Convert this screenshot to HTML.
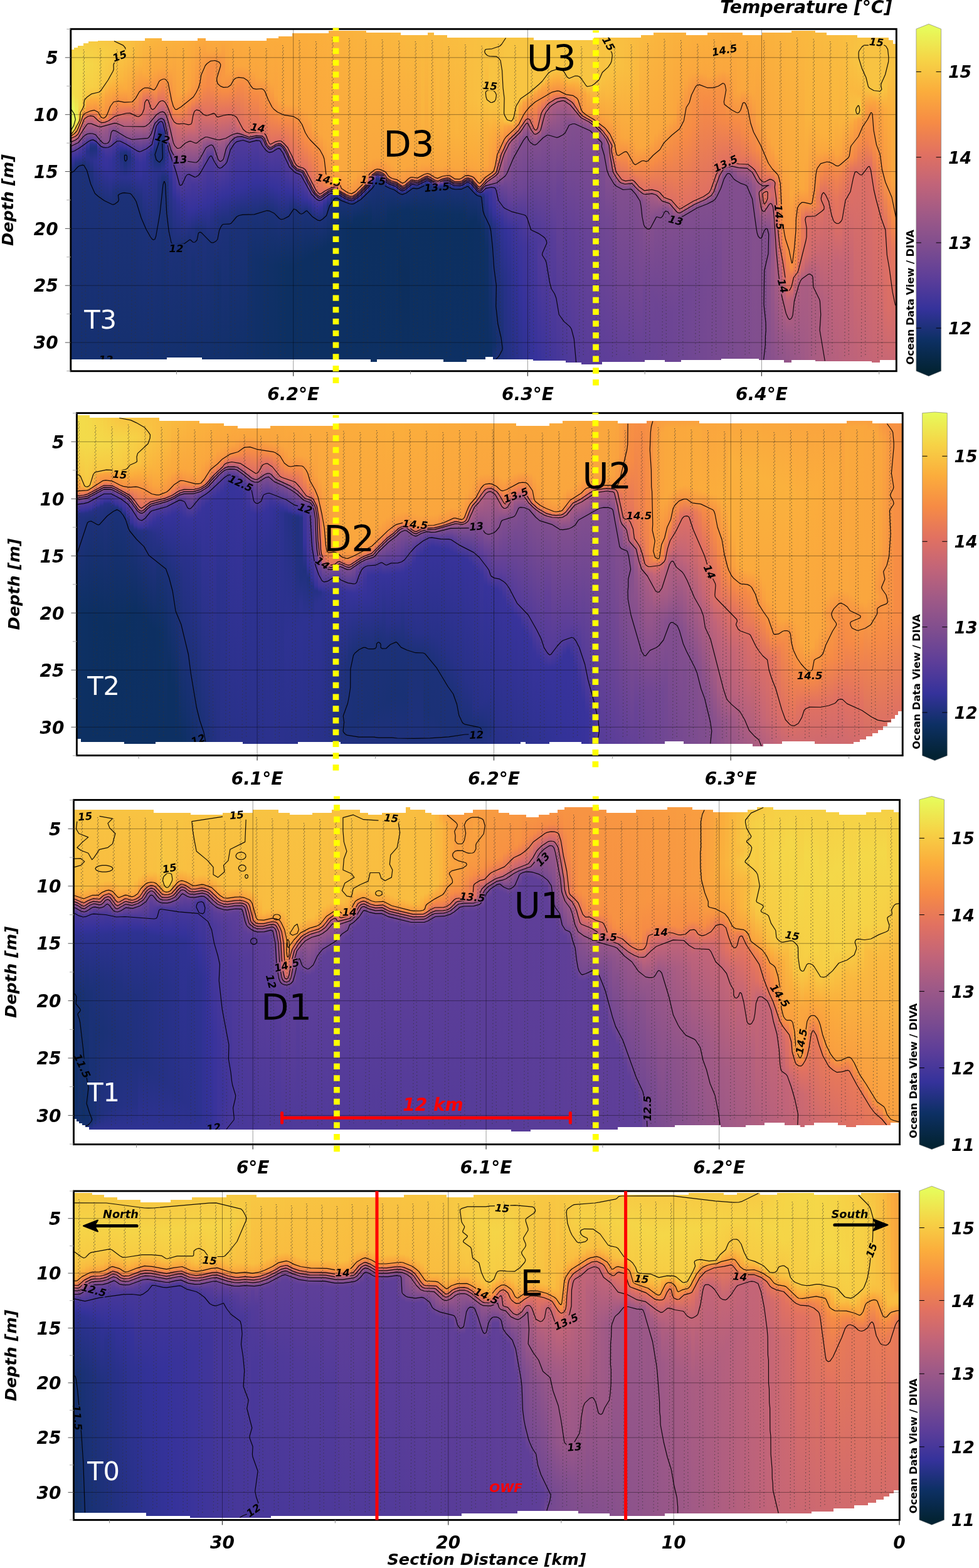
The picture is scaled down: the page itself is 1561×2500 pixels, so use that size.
<!DOCTYPE html>
<html lang="en"><head><meta charset="utf-8"><title>Temperature sections</title>
<style>html,body{margin:0;padding:0;background:#fff}
body{width:1561px;height:2500px;position:relative;overflow:hidden;font-family:"DejaVu Sans","Liberation Sans",sans-serif}
.f{position:absolute;display:flex;overflow:hidden}
.f i{display:block;width:6px;height:100%;flex:none}
svg{position:absolute;left:0;top:0}
.c{fill:none;stroke:#000;stroke-width:1.2;stroke-linejoin:round;stroke-opacity:.92}
.s{fill:none;stroke:#333;stroke-width:1.2;stroke-opacity:.7;stroke-dasharray:1.3 4}
.tk{font:italic bold 28px "DejaVu Sans","Liberation Sans",sans-serif;fill:#000}
.al{font:italic bold 25.5px "DejaVu Sans","Liberation Sans",sans-serif;fill:#000}
.odv{font:bold 16.2px "DejaVu Sans","Liberation Sans",sans-serif;fill:#000}
.tkc{font:italic bold 26.7px "DejaVu Sans","Liberation Sans",sans-serif;fill:#000}
.cl{font:italic bold 16.5px "DejaVu Sans","Liberation Sans",sans-serif;fill:#000;text-anchor:middle}
.big{font:57.5px "DejaVu Sans","Liberation Sans",sans-serif;fill:#000}
.tl{font:41.6px "DejaVu Sans","Liberation Sans",sans-serif;fill:#fff}
.tt{font:italic bold 28.3px "DejaVu Sans","Liberation Sans",sans-serif;fill:#000}
.rk{font:italic bold 28px "DejaVu Sans","Liberation Sans",sans-serif;fill:#f00}
.ro{font:italic bold 20px "DejaVu Sans","Liberation Sans",sans-serif;fill:#f00}
.ns{font:italic bold 17.8px "DejaVu Sans","Liberation Sans",sans-serif;fill:#000}
</style></head><body>
<div class="f" style="left:113px;top:46px;width:1317px;height:546px">
<i style="background:linear-gradient(#f6d446 30px,#f2de4c 103px,#e7fa5a 131px,#e7fa5a 155px,#efe54f 161px,#f7cd44 164px,#faa93d 167px,#f1854b 170px,#de7064 173px,#a05a86 181px,#5d3e99 193px,#4a389a 198px,#35329b 208px,#1d3179 226px,#153070 527px)"></i>
<i style="background:linear-gradient(#f6d246 27px,#f3db4a 54px,#f3db4a 108px,#eaf356 144px,#f1e04d 151px,#fbb03d 158px,#f68e44 164px,#e27260 169px,#bd637b 174px,#86508d 182px,#5d3e99 190px,#35329b 205px,#233182 214px,#1d317a 220px,#153070 527px)"></i>
<i style="background:linear-gradient(#f6d145 27px,#f3db4a 55px,#f5d748 124px,#f9b93f 143px,#f79144 150px,#e3735e 157px,#be637a 166px,#5f3f98 186px,#48389a 192px,#35329a 203px,#1d3179 216px,#153070 527px)"></i>
<i style="background:linear-gradient(#f7ce45 23px,#f4d949 58px,#f6d045 102px,#f8c141 123px,#fbab3d 129px,#f68d44 137px,#e17161 144px,#c26478 153px,#5d3e99 182px,#3d349b 191px,#323296 201px,#1d317a 215px,#153070 527px)"></i>
<i style="background:linear-gradient(#f7cc44 20px,#f4d748 57px,#f7cf45 96px,#f8c642 107px,#fbac3c 116px,#f78f44 133px,#df7063 139px,#c36578 146px,#aa5d82 153px,#8d538b 164px,#37339b 186px,#263187 195px,#2b318d 205px,#1f317c 219px,#1c3179 232px,#153070 527px)"></i>
<i style="background:linear-gradient(#f7cb44 20px,#f5d547 57px,#f7cf45 92px,#f8c542 103px,#fbac3c 113px,#f89742 128px,#f68b45 132px,#df7062 138px,#c16479 146px,#87518d 165px,#5e3e99 175px,#39339b 181px,#29318a 184px,#1e317b 191px,#2b318d 209px,#213180 226px,#1c3179 251px,#153070 527px)"></i>
<i style="background:linear-gradient(#f7cb44 20px,#f6d346 58px,#f7cd44 93px,#f8c442 102px,#fbad3c 112px,#f68c45 132px,#e27260 140px,#be637a 150px,#7f4d8f 169px,#5c3e99 177px,#38339b 182px,#2c328f 184px,#233182 187px,#1f317d 191px,#2f3292 211px,#1c3178 265px,#153070 527px)"></i>
<i style="background:linear-gradient(#f7c943 19px,#f6d145 60px,#f7c943 95px,#fbae3c 112px,#f68b45 139px,#e3735f 146px,#c26479 152px,#a95c83 157px,#7f4d8f 176px,#3d349b 188px,#303293 194px,#323297 214px,#1c3178 269px,#153070 527px)"></i>
<i style="background:linear-gradient(#f7c843 19px,#f7cf45 39px,#f8c743 89px,#fbac3c 109px,#f89542 140px,#f68b45 144px,#e4745e 148px,#c56576 152px,#ac5d81 156px,#9b5888 163px,#824f8e 181px,#754992 184px,#48389a 190px,#37339b 200px,#35329b 216px,#1c3178 273px,#15306f 527px)"></i>
<i style="background:linear-gradient(#f8c743 19px,#f7cd44 37px,#f8c643 82px,#faa43e 108px,#f68d45 141px,#e17161 147px,#c06479 151px,#a35b85 156px,#955689 163px,#85508d 181px,#794b90 184px,#523b9a 189px,#4a389a 191px,#3a339b 205px,#35329b 220px,#1c3178 277px,#15306f 527px)"></i>
<i style="background:linear-gradient(#f8c643 19px,#f7cc44 37px,#f8c442 76px,#fbac3c 98px,#f58a46 133px,#e2725f 143px,#bf647a 149px,#9d5887 155px,#88518d 163px,#7d4c8f 178px,#47379a 191px,#35329b 210px,#303295 235px,#1c3179 279px,#15306f 527px)"></i>
<i style="background:linear-gradient(#f8c542 19px,#f7ca44 36px,#f9c041 75px,#fbac3c 96px,#f68c45 121px,#ee8150 131px,#e07062 139px,#bf637a 147px,#91548a 157px,#7c4c90 164px,#684396 176px,#44369a 188px,#303295 207px,#2f3293 235px,#20317e 260px,#1c3178 280px,#15306f 527px)"></i>
<i style="background:linear-gradient(#f8c442 19px,#f7c843 35px,#f9bb40 76px,#fbac3c 94px,#f58a46 120px,#e17260 136px,#9d5987 156px,#4b389a 181px,#36329b 190px,#2b318d 199px,#2d3290 236px,#1c3179 264px,#15306f 527px)"></i>
<i style="background:linear-gradient(#f8c342 19px,#f8c643 35px,#fab53e 80px,#faa73e 99px,#f68b45 120px,#e17260 134px,#b8617d 151px,#834f8e 168px,#5a3d99 178px,#36329b 189px,#20317e 199px,#2c328f 236px,#1c3178 263px,#15306f 527px)"></i>
<i style="background:linear-gradient(#f8c141 19px,#f8c442 34px,#fbab3d 95px,#f68b45 120px,#e07162 133px,#b6607d 153px,#844f8e 171px,#5b3d99 181px,#34329a 191px,#223181 196px,#1c3179 200px,#1d317a 213px,#2c328f 237px,#1c3178 263px,#15306f 527px)"></i>
<i style="background:linear-gradient(#f9c041 19px,#f8c141 36px,#faa63e 98px,#f89842 114px,#f68b45 120px,#e17161 132px,#c16479 148px,#86508d 173px,#5d3e99 184px,#38339b 192px,#29318a 196px,#20317d 204px,#2d3291 236px,#1c3178 263px,#15306f 527px)"></i>
<i style="background:linear-gradient(#f9be41 19px,#f9be40 37px,#faa93d 83px,#f89941 110px,#f58a46 120px,#e17161 134px,#9f5986 162px,#824e8e 176px,#3f359b 195px,#2b328d 207px,#2f3293 236px,#1c3178 270px,#15306f 527px)"></i>
<i style="background:linear-gradient(#f9bc40 19px,#fab53e 54px,#f79443 106px,#e77959 131px,#da6e66 140px,#9f5987 162px,#44369a 199px,#34329a 211px,#313295 236px,#1c3179 275px,#15306f 527px)"></i>
<i style="background:linear-gradient(#f9bb40 19px,#fab13d 58px,#f89742 95px,#ec7f52 114px,#e17161 135px,#cb6871 146px,#9f5987 162px,#47379a 200px,#37339b 214px,#333299 234px,#233182 265px,#1c3179 293px,#15306f 527px)"></i>
<i style="background:linear-gradient(#f9b93f 15px,#fbab3d 69px,#f89742 92px,#f68b45 98px,#e2735f 113px,#d66c69 135px,#bd637a 150px,#44379a 198px,#36329b 212px,#1c3179 312px,#15306f 527px)"></i>
<i style="background:linear-gradient(#fab83f 15px,#faa73e 76px,#f68c45 97px,#e17161 111px,#d36b6c 130px,#bb627c 147px,#85508d 172px,#5b3d99 187px,#3c349b 196px,#313295 205px,#303295 233px,#1c3179 326px,#15306f 527px)"></i>
<i style="background:linear-gradient(#fab63e 15px,#faa83d 68px,#f79443 95px,#e6775a 112px,#dd6f64 127px,#9d5987 151px,#5d3e99 180px,#35329b 191px,#243184 200px,#2e3291 231px,#1c3178 335px,#15306e 527px)"></i>
<i style="background:linear-gradient(#fab53e 15px,#faa83d 63px,#f79044 98px,#de7063 123px,#d36b6c 129px,#9b5888 144px,#6d4594 152px,#5d3e99 157px,#36329b 177px,#1d317a 194px,#1d317a 210px,#2c328f 230px,#1d317a 320px,#14306e 527px)"></i>
<i style="background:linear-gradient(#fab43e 15px,#faa83d 62px,#f68b45 94px,#e17260 114px,#c46577 128px,#965689 140px,#86508d 143px,#583d99 148px,#48389a 151px,#35329b 159px,#263186 166px,#1f317c 173px,#1c3179 212px,#2b318d 228px,#223180 246px,#1d317a 287px,#14306e 527px)"></i>
<i style="background:linear-gradient(#fab33e 15px,#faa73e 62px,#f48848 92px,#e6775b 110px,#c16479 127px,#955689 140px,#5e3e99 149px,#36329b 162px,#20317e 170px,#1d317a 207px,#2c328f 225px,#1f317d 237px,#1c3179 247px,#14306e 527px)"></i>
<i style="background:linear-gradient(#fab23d 19px,#faa73e 62px,#f68b45 97px,#ed8050 110px,#e17161 120px,#9f5987 147px,#40359a 187px,#2e3292 202px,#35329b 222px,#243184 235px,#1e317c 248px,#14306e 527px)"></i>
<i style="background:linear-gradient(#fab23d 19px,#faa73e 63px,#f48848 120px,#e17161 135px,#c16479 150px,#975689 182px,#7f4d8f 191px,#5c3e99 200px,#45379a 209px,#35329b 233px,#2d3290 245px,#1e317b 317px,#14306e 524px)"></i>
<i style="background:linear-gradient(#fab13d 19px,#f89a41 113px,#f68b45 131px,#e17161 146px,#c56676 159px,#ab5d82 187px,#8d528b 199px,#5e3f99 212px,#49389a 229px,#35329b 262px,#2d3290 274px,#1c3178 346px,#14306e 524px)"></i>
<i style="background:linear-gradient(#fbb03d 19px,#f9a23f 105px,#f68b46 132px,#e27260 149px,#cb6871 160px,#b15f7f 189px,#684396 217px,#35329b 271px,#303294 280px,#1c3178 345px,#14306d 524px)"></i>
<i style="background:linear-gradient(#fbaf3c 19px,#faa63e 101px,#f68b45 129px,#d86d67 153px,#ad5e81 189px,#724893 216px,#603f98 229px,#343299 281px,#1c3178 344px,#14306d 524px)"></i>
<i style="background:linear-gradient(#fbae3c 19px,#faa63e 97px,#f68b45 123px,#e17161 149px,#ad5e81 183px,#91548a 203px,#553c99 233px,#38339b 278px,#1c3178 342px,#14306d 524px)"></i>
<i style="background:linear-gradient(#fbad3c 19px,#faa33f 94px,#f68b45 118px,#e97b56 130px,#e17161 149px,#c16479 169px,#88518d 208px,#4f3a9a 235px,#35329b 289px,#1e317b 331px,#13306d 524px)"></i>
<i style="background:linear-gradient(#fbac3c 19px,#f99f40 89px,#f68a46 114px,#e17260 130px,#d56c6a 156px,#be637a 171px,#86508d 210px,#5d3e99 230px,#46379a 248px,#35329b 288px,#233182 316px,#193175 371px,#13306d 524px)"></i>
<i style="background:linear-gradient(#fbab3c 15px,#f89841 88px,#f68b45 108px,#de7063 128px,#c56676 165px,#834f8e 211px,#5d3e99 229px,#49389a 246px,#35329b 286px,#1e317c 320px,#13306c 524px)"></i>
<i style="background:linear-gradient(#fbab3d 15px,#f68c45 100px,#ef824f 113px,#e07062 129px,#ba627c 170px,#7f4d8f 206px,#5c3e99 222px,#503a9a 233px,#35329b 284px,#1d317a 322px,#13306c 527px)"></i>
<i style="background:linear-gradient(#fbaa3d 15px,#f68b45 92px,#e17161 133px,#b3607f 171px,#90548b 185px,#533b99 218px,#35329b 281px,#1f317c 322px,#13306c 527px)"></i>
<i style="background:linear-gradient(#faa93d 19px,#faa63e 34px,#f79143 58px,#f48947 91px,#e17161 134px,#b25f7f 171px,#6f4694 194px,#583d99 204px,#503a9a 213px,#35329b 277px,#1c3179 335px,#13306c 527px)"></i>
<i style="background:linear-gradient(#faa93d 19px,#faa63e 33px,#f78f44 59px,#f68b45 91px,#e17161 131px,#b25f7f 173px,#824f8e 185px,#593d99 201px,#503a9a 210px,#35329b 274px,#273188 301px,#1c3178 341px,#12306b 527px)"></i>
<i style="background:linear-gradient(#faa93d 19px,#faa63e 33px,#f79044 56px,#f79243 82px,#f68b45 96px,#db6e66 141px,#b3607f 174px,#93558a 184px,#794b91 202px,#523b9a 217px,#35329b 271px,#243184 301px,#183173 378px,#12306b 527px)"></i>
<i style="background:linear-gradient(#faa93d 19px,#faa63e 34px,#f79343 55px,#f89642 82px,#f68b45 99px,#e07162 136px,#b4607e 174px,#93558a 189px,#854f8d 208px,#523b9a 222px,#35329b 268px,#20317e 306px,#163071 394px,#12306b 527px)"></i>
<i style="background:linear-gradient(#faa93d 19px,#f89842 55px,#f89941 83px,#f68c45 100px,#e17161 134px,#b5607e 172px,#9d5887 182px,#814e8e 207px,#513b9a 220px,#35329b 265px,#1d317a 309px,#12306b 527px)"></i>
<i style="background:linear-gradient(#faa93d 19px,#f99f40 69px,#f68c45 100px,#e17161 133px,#b4607e 171px,#744992 192px,#513b9a 214px,#35329b 263px,#1d317a 309px,#12306a 527px)"></i>
<i style="background:linear-gradient(#faa93d 19px,#faa43e 63px,#f68b45 99px,#e17161 133px,#b6607e 167px,#a45b84 172px,#654297 185px,#553c99 191px,#35329b 261px,#233182 292px,#193175 330px,#11306a 527px)"></i>
<i style="background:linear-gradient(#fbaa3d 19px,#faa63e 59px,#f68b45 96px,#de7063 137px,#ba627c 164px,#a85c83 168px,#624097 178px,#513a9a 186px,#35329b 258px,#1c3179 303px,#11306a 527px)"></i>
<i style="background:linear-gradient(#fbaa3d 19px,#faa63e 59px,#f68b45 90px,#d76d69 152px,#bc627b 164px,#aa5d82 167px,#634197 175px,#553b99 178px,#503a9a 182px,#35329b 256px,#1c3178 299px,#113069 527px)"></i>
<i style="background:linear-gradient(#fbaa3d 19px,#faa63e 59px,#f68b45 89px,#db6f65 158px,#d16b6d 163px,#c26478 166px,#af5e80 168px,#6c4594 173px,#5c3e99 175px,#503a9a 181px,#35329b 254px,#1b3178 298px,#113069 527px)"></i>
<i style="background:linear-gradient(#fbab3d 19px,#faa63e 60px,#f79044 85px,#df7062 162px,#d96e67 165px,#c86774 168px,#614098 176px,#553c99 178px,#503a9a 182px,#35329b 252px,#1b3178 298px,#103069 527px)"></i>
<i style="background:linear-gradient(#fbab3d 19px,#faa63e 63px,#f68b45 102px,#e07161 163px,#d86d68 167px,#c56676 170px,#b05f80 172px,#674396 177px,#573c99 179px,#47379a 203px,#35329b 249px,#1b3178 299px,#14306d 366px,#103068 527px)"></i>
<i style="background:linear-gradient(#fbab3c 19px,#faa63e 67px,#f68b45 105px,#e07162 163px,#d96e67 166px,#c56676 169px,#704793 175px,#5d3e99 177px,#533b99 179px,#503a9a 183px,#35329b 246px,#1b3178 298px,#13306c 365px,#103068 527px)"></i>
<i style="background:linear-gradient(#fbab3c 19px,#faa43e 77px,#f68b45 106px,#e17161 162px,#db6e66 165px,#c76675 168px,#6c4594 174px,#5a3d99 176px,#503a9a 181px,#35329b 245px,#1b3178 297px,#12306b 368px,#0f3067 527px)"></i>
<i style="background:linear-gradient(#fbab3c 19px,#faa63e 77px,#f79044 100px,#f2864b 129px,#e17161 163px,#d96e67 166px,#cb6871 168px,#694395 175px,#563c99 180px,#35329b 245px,#1d317a 290px,#11306a 372px,#0f3067 527px)"></i>
<i style="background:linear-gradient(#fbac3c 19px,#faa63e 77px,#f79443 98px,#f58a46 125px,#e17161 164px,#d06a6e 170px,#a35b85 177px,#624097 187px,#523b9a 192px,#35329b 246px,#1d3179 289px,#113069 375px,#0f3066 527px)"></i>
<i style="background:linear-gradient(#fbac3c 15px,#faa63e 79px,#f68b45 130px,#e07062 175px,#d76d69 181px,#c96773 184px,#634197 193px,#513a9a 197px,#35329b 249px,#1d3179 288px,#103068 376px,#0e3066 527px)"></i>
<i style="background:linear-gradient(#fbac3c 15px,#faa63e 86px,#f68b45 135px,#e17161 179px,#d96e67 183px,#cc6970 185px,#6c4595 192px,#533b9a 196px,#35329b 251px,#1c3179 291px,#103067 376px,#0e3065 527px)"></i>
<i style="background:linear-gradient(#fbac3c 15px,#faa33f 106px,#f68b45 139px,#e17161 177px,#d36b6b 181px,#bc627b 183px,#6b4595 188px,#533b99 192px,#35329b 254px,#1d317a 294px,#0f3066 376px,#0e3065 527px)"></i>
<i style="background:linear-gradient(#fbac3c 12px,#faa53e 114px,#f68b45 143px,#e17161 176px,#d36b6c 180px,#bb627b 182px,#6b4495 187px,#533b99 191px,#35329b 257px,#1e317b 298px,#0e3065 377px,#0d3064 527px)"></i>
<i style="background:linear-gradient(#fbad3c 12px,#faa63e 118px,#f68b45 145px,#e27260 178px,#dd6f64 181px,#cc6871 184px,#9b5888 188px,#724893 192px,#543b99 200px,#35329b 257px,#1c3179 302px,#0d3064 378px,#0d3064 527px)"></i>
<i style="background:linear-gradient(#fbad3c 12px,#faa63e 120px,#f68b45 146px,#e27260 184px,#cd6970 191px,#714793 204px,#563c99 212px,#35329b 258px,#1c3179 300px,#0d3062 380px,#0d3063 527px)"></i>
<i style="background:linear-gradient(#fbad3c 7px,#faa63e 120px,#f58a46 148px,#e17161 195px,#d86d68 200px,#c36577 205px,#614098 220px,#523b9a 224px,#35329b 260px,#1e317c 287px,#0d2f62 380px,#0d3063 527px)"></i>
<i style="background:linear-gradient(#fbad3c 7px,#faa63e 121px,#f68b45 150px,#e07162 208px,#d76d68 214px,#c96773 217px,#684396 225px,#513a9a 229px,#35329b 263px,#1c3179 287px,#0d2f62 378px,#0d3062 527px)"></i>
<i style="background:linear-gradient(#fbad3c 7px,#faa63e 123px,#f78f44 151px,#e17161 217px,#d16a6d 221px,#b8617d 223px,#724893 227px,#5c3e99 229px,#523b9a 231px,#35329b 267px,#1c3179 291px,#0d2f62 374px,#0d3062 527px)"></i>
<i style="background:linear-gradient(#fbad3c 7px,#faa63e 126px,#f68b45 171px,#e17160 219px,#d16b6d 223px,#995788 227px,#754992 230px,#573c99 236px,#35329b 271px,#1c3179 294px,#0d2f62 371px,#0d3062 527px)"></i>
<i style="background:linear-gradient(#fbad3c 7px,#faa63e 130px,#f68b45 180px,#e27260 222px,#c86773 230px,#714793 241px,#563c99 247px,#36329b 273px,#1c3178 291px,#0d2f62 367px,#0d3062 527px)"></i>
<i style="background:linear-gradient(#fbae3c 7px,#faa63e 139px,#f68b45 186px,#e27260 233px,#da6e66 237px,#c96773 241px,#704793 253px,#553c99 259px,#35329b 276px,#1c3179 295px,#0d2f62 363px,#0d3062 527px)"></i>
<i style="background:linear-gradient(#fbae3c 7px,#faa43e 157px,#f68b45 193px,#e2735f 244px,#d96e67 249px,#c36578 254px,#a45b85 258px,#694395 264px,#4f3a9a 268px,#34329a 282px,#1b3177 302px,#0d2f62 360px,#0d3062 527px)"></i>
<i style="background:linear-gradient(#fbae3c 7px,#faa63e 162px,#f68b45 200px,#ea7d55 241px,#e3735f 256px,#da6e67 260px,#c36578 263px,#654297 270px,#4b399a 274px,#35329b 286px,#1c3179 304px,#0d2f62 356px,#0d3062 527px)"></i>
<i style="background:linear-gradient(#fbaf3c 7px,#faa63e 168px,#f68e44 205px,#f1854b 238px,#e07162 261px,#cb6872 264px,#6f4694 270px,#4b389a 274px,#35329b 284px,#1c3179 304px,#0d2f62 353px,#0d3062 527px)"></i>
<i style="background:linear-gradient(#fbaf3d 7px,#faa73e 173px,#f68c45 238px,#ec7f52 252px,#e27260 257px,#c86774 260px,#995788 263px,#624098 267px,#42369a 272px,#35329b 277px,#2c328f 282px,#1c3179 300px,#0d2f62 349px,#0d3062 527px)"></i>
<i style="background:linear-gradient(#fbb03d 3px,#faa73e 179px,#f89841 232px,#f68c45 248px,#f2864b 251px,#e3745e 254px,#cb6871 256px,#975689 259px,#684396 262px,#4a389a 265px,#35329b 270px,#1e317c 282px,#0d2f62 345px,#0d3062 527px)"></i>
<i style="background:linear-gradient(#fbb03d 3px,#faa63e 190px,#f99f40 230px,#f79143 248px,#f1854b 250px,#e17161 252px,#b5607e 255px,#5e3f99 261px,#46379a 263px,#303294 266px,#253184 269px,#1d317a 274px,#0d3062 341px,#0d3062 527px)"></i>
<i style="background:linear-gradient(#fbb13d 3px,#faa53e 227px,#f79443 246px,#f58947 248px,#de7063 251px,#bf637a 257px,#533b99 263px,#35329b 265px,#2b328d 266px,#1f317d 268px,#1b3178 270px,#0d3064 338px,#0d3062 527px)"></i>
<i style="background:linear-gradient(#fab13d 3px,#faa73e 229px,#f79343 248px,#f1854b 255px,#e77859 257px,#ca6872 259px,#9f5986 261px,#543b99 265px,#37339b 267px,#2d3290 268px,#223180 270px,#1b3177 273px,#0e3066 308px,#0d3062 527px)"></i>
<i style="background:linear-gradient(#fab13d 3px,#faa73e 230px,#f79542 256px,#f68b45 258px,#e17260 261px,#ab5d82 264px,#614098 268px,#333299 271px,#2a318c 272px,#1b3177 276px,#0d3063 309px,#0d3062 527px)"></i>
<i style="background:linear-gradient(#fab23d 3px,#faa73e 235px,#f79443 260px,#f58a46 262px,#db6f66 265px,#9d5987 268px,#614098 271px,#3d349b 273px,#273187 275px,#1a3176 279px,#0c2f62 311px,#0d3062 527px)"></i>
<i style="background:linear-gradient(#fab23d 3px,#faa73e 241px,#f79443 262px,#f48947 264px,#e5765c 266px,#ac5d81 269px,#5a3d99 273px,#37339b 275px,#2b328e 276px,#1e317c 278px,#193175 281px,#0c2f61 315px,#0d3062 527px)"></i>
<i style="background:linear-gradient(#fab33d 3px,#faa73e 235px,#f79443 259px,#f58a46 261px,#e17161 264px,#aa5d82 267px,#5f3f98 271px,#3e359b 273px,#29318a 275px,#1e317b 277px,#193175 280px,#0d3063 303px,#0c2f61 319px,#0d3062 527px)"></i>
<i style="background:linear-gradient(#fab33e 3px,#faa63e 228px,#f79443 253px,#f38749 256px,#de7063 259px,#9c5888 263px,#5c3e99 267px,#333298 270px,#2a318c 271px,#1f317d 273px,#1a3176 276px,#0d3063 302px,#0c2f60 321px,#0d3062 527px)"></i>
<i style="background:linear-gradient(#fab33e 3px,#faa73e 217px,#f79443 247px,#f38749 250px,#de7063 253px,#9c5887 257px,#5e3f99 261px,#38339b 264px,#29318a 266px,#1b3177 271px,#0d3063 301px,#0c2f60 319px,#0d3062 527px)"></i>
<i style="background:linear-gradient(#fab43e 3px,#faa73e 213px,#f89841 235px,#f68b45 242px,#dc6f64 247px,#9c5887 251px,#5e3f99 255px,#38339b 258px,#29318a 260px,#1e317b 263px,#1a3175 267px,#0d3063 301px,#0c2f60 322px,#0d3062 527px)"></i>
<i style="background:linear-gradient(#fab43e 6px,#faa73e 209px,#f89a41 226px,#f68e44 231px,#e17161 236px,#d06a6d 238px,#9e5987 243px,#5b3d99 249px,#38339b 252px,#29318a 254px,#1e317b 257px,#1a3176 261px,#0d3063 300px,#0c2f60 323px,#0d3063 531px)"></i>
<i style="background:linear-gradient(#fab53e 6px,#faa73e 206px,#f89a41 222px,#f79044 226px,#f0834d 228px,#df7062 230px,#ab5d82 233px,#88518c 235px,#604098 238px,#36329b 243px,#2c328e 245px,#20317e 249px,#1a3177 254px,#0c2f60 321px,#0d3063 531px)"></i>
<i style="background:linear-gradient(#fab53e 6px,#faa73e 205px,#f89a41 220px,#f79044 224px,#e4755d 227px,#ab5d82 230px,#5d3e99 234px,#3b349b 236px,#273188 238px,#1f317c 240px,#1b3178 243px,#0c2f60 320px,#0d3063 531px)"></i>
<i style="background:linear-gradient(#fab53e 6px,#faa73e 206px,#f79143 225px,#ef824e 227px,#d96e67 229px,#9c5888 232px,#583d99 236px,#37339b 239px,#2b318d 241px,#1f317d 244px,#1b3177 248px,#0c2f60 319px,#0d3062 527px)"></i>
<i style="background:linear-gradient(#fab63e 6px,#faa73e 208px,#f89941 224px,#f78f44 228px,#e4755d 232px,#c86774 235px,#543b99 243px,#38339b 245px,#263187 247px,#1a3176 252px,#0c2f60 318px,#0d3062 527px)"></i>
<i style="background:linear-gradient(#fab63e 6px,#faa73e 211px,#f89841 231px,#f68c45 236px,#ec7f52 238px,#d76d69 240px,#9c5888 243px,#513b9a 247px,#343299 249px,#233182 251px,#1a3176 256px,#0d3063 295px,#0c2f60 318px,#0d3062 527px)"></i>
<i style="background:linear-gradient(#fab73f 6px,#faa73e 215px,#f99d40 232px,#f78f44 239px,#e3745e 242px,#a85c83 245px,#573c99 249px,#35329b 251px,#233183 253px,#1a3175 258px,#0d3062 295px,#0c2f60 317px,#0d3062 527px)"></i>
<i style="background:linear-gradient(#fab73f 6px,#faa73e 222px,#f89941 237px,#f68d45 241px,#e07161 244px,#a95c83 247px,#614098 251px,#36329b 254px,#263186 256px,#1e317b 258px,#193175 262px,#0d3062 294px,#0c2f60 316px,#0d3062 527px)"></i>
<i style="background:linear-gradient(#fab83f 6px,#faa73e 223px,#f89941 240px,#f68b45 245px,#e4745e 248px,#d66d69 249px,#9e5987 252px,#593d99 256px,#3b349b 258px,#223180 261px,#193175 265px,#0d3064 290px,#0c2e5d 385px,#0d3062 527px)"></i>
<i style="background:linear-gradient(#fab83f 10px,#faa73e 222px,#f89842 242px,#f68e44 246px,#ee8150 248px,#da6e66 250px,#a05a86 253px,#684396 256px,#36329b 259px,#243183 261px,#1a3175 265px,#0d3064 289px,#0c2e5d 390px,#0d3062 527px)"></i>
<i style="background:linear-gradient(#f9b93f 10px,#faa73e 219px,#f89941 236px,#f68c45 241px,#de7063 245px,#9a5888 249px,#593d99 253px,#3c349b 255px,#233182 258px,#1a3176 262px,#0d3064 288px,#0c2e5d 393px,#0d3062 527px)"></i>
<i style="background:linear-gradient(#f9b93f 10px,#faa73e 218px,#f89a41 233px,#f79044 237px,#ee824f 239px,#d96e67 241px,#9e5987 244px,#583c99 248px,#3b349b 250px,#29318b 252px,#1d317b 255px,#1a3175 259px,#0d3062 292px,#0c2f60 315px,#0d3062 527px)"></i>
<i style="background:linear-gradient(#f9b93f 10px,#faa73e 218px,#f89a41 234px,#f78e44 238px,#e27260 241px,#a65b84 244px,#543b99 248px,#343299 250px,#29318b 251px,#1e317b 253px,#1a3176 256px,#0d3062 292px,#0c2f60 314px,#0d3062 527px)"></i>
<i style="background:linear-gradient(#f9ba3f 10px,#faa73e 216px,#f89a41 233px,#f79044 237px,#ef824f 239px,#da6e66 241px,#9d5987 244px,#624097 247px,#3e359b 249px,#283188 251px,#1e317b 253px,#1a3176 256px,#0d3063 292px,#0c2f60 315px,#0d3062 527px)"></i>
<i style="background:linear-gradient(#f9ba3f 10px,#fab53e 122px,#faa73e 213px,#f89941 230px,#f68e44 234px,#ec7f52 236px,#d56c6a 238px,#ad5e81 240px,#5f3f98 244px,#3d349b 246px,#28318a 248px,#1e317c 250px,#1a3176 254px,#0d3063 292px,#0c2f60 316px,#0d3062 527px)"></i>
<i style="background:linear-gradient(#f9ba3f 6px,#faa93d 200px,#faa53e 217px,#f79144 231px,#ef824e 233px,#d96e67 235px,#9c5888 238px,#624097 241px,#333298 244px,#29318b 245px,#1f317c 247px,#1a3177 250px,#0d3063 292px,#0c2f60 314px,#0d3062 527px)"></i>
<i style="background:linear-gradient(#f9ba40 6px,#fab63e 120px,#faa73e 212px,#f89941 229px,#f68c45 233px,#e27260 236px,#ac5d81 239px,#614098 243px,#333298 246px,#2a318b 247px,#1f317d 249px,#1a3176 253px,#0d3062 293px,#0c2f60 316px,#0d3062 527px)"></i>
<i style="background:linear-gradient(#f9bb40 6px,#fbaf3d 172px,#faa63e 218px,#f79144 236px,#f0844d 238px,#de7063 240px,#a25a85 243px,#543b99 247px,#34329a 249px,#233182 251px,#1a3175 256px,#0d3063 293px,#0c2f60 317px,#0d3062 527px)"></i>
<i style="background:linear-gradient(#f9bb40 10px,#fab73f 121px,#faa73e 217px,#f89941 235px,#f68c45 239px,#df7062 242px,#a25a85 245px,#523b9a 249px,#323297 251px,#28318a 252px,#1e317b 254px,#1a3176 257px,#0d3063 293px,#0c2f60 316px,#0d3062 527px)"></i>
<i style="background:linear-gradient(#f9bb40 10px,#fbaf3d 176px,#faa63e 220px,#f89841 233px,#f78f44 236px,#ed8051 238px,#d86d68 240px,#9d5987 243px,#553c99 247px,#37339b 249px,#253185 251px,#1a3176 256px,#0d3063 293px,#0c2f60 317px,#0d3062 527px)"></i>
<i style="background:linear-gradient(#f9bc40 10px,#fab23d 162px,#faa63e 218px,#f79143 234px,#f0834e 236px,#d96e67 238px,#af5e80 240px,#5e3e99 244px,#3a349b 246px,#263186 248px,#1d317a 250px,#1a3176 253px,#0d3062 295px,#0c2f60 320px,#0d3063 531px)"></i>
<i style="background:linear-gradient(#f9bc40 14px,#fab33e 161px,#faa63e 218px,#f79143 234px,#ef834e 236px,#db6f65 238px,#a05a86 241px,#573c99 245px,#3a339b 247px,#273188 249px,#1e317c 251px,#1a3176 255px,#0d3062 295px,#0c2f60 321px,#0d3064 531px)"></i>
<i style="background:linear-gradient(#f9bd40 14px,#fab23d 167px,#faa63e 220px,#f89941 234px,#f68d45 238px,#ed7f52 240px,#d76d68 242px,#9c5888 245px,#624097 248px,#3f359b 250px,#283189 252px,#1e317b 254px,#1a3176 257px,#0d3062 295px,#0c2f60 321px,#0d3064 531px)"></i>
<i style="background:linear-gradient(#f9bd40 14px,#fab43e 163px,#faa63e 222px,#f89841 237px,#f78f44 240px,#e17160 243px,#a35a85 246px,#513a9a 250px,#313295 252px,#273188 253px,#1d317a 255px,#1a3176 258px,#0d3063 295px,#0c2f60 322px,#0d3064 531px)"></i>
<i style="background:linear-gradient(#f9be40 14px,#fab23d 171px,#faa63e 222px,#f89941 236px,#f68b45 240px,#dc6f65 243px,#9c5887 246px,#603f98 249px,#3b349b 251px,#253185 253px,#1d3179 255px,#1a3176 258px,#0d3062 296px,#0c2f60 322px,#0d3064 531px)"></i>
<i style="background:linear-gradient(#f9be41 14px,#fab13d 177px,#faa63e 219px,#f89941 232px,#f68c45 236px,#eb7e53 238px,#d56c6a 240px,#9d5987 243px,#583c99 247px,#39339b 249px,#263186 251px,#1d317b 253px,#1a3176 256px,#0d3063 296px,#0c2f60 319px,#0d3064 531px)"></i>
<i style="background:linear-gradient(#f9bf41 14px,#f9bc40 112px,#fbaf3d 185px,#faa63e 218px,#f79044 234px,#e4755d 237px,#ab5d82 240px,#5c3e99 244px,#3b349b 246px,#273188 248px,#1e317c 250px,#1b3177 253px,#0c2f60 314px,#0d3064 531px)"></i>
<i style="background:linear-gradient(#f9bf41 14px,#f9bd40 112px,#fbad3c 195px,#faa53e 221px,#f89842 233px,#f68c45 236px,#e07161 239px,#9d5887 243px,#624097 247px,#36329b 251px,#28318a 253px,#1e317b 256px,#1a3176 260px,#0c2f61 308px,#0d3063 527px)"></i>
<i style="background:linear-gradient(#f9c041 14px,#f9be41 112px,#fbab3c 204px,#faa53e 223px,#f78e44 240px,#ed8050 243px,#d86d68 246px,#9c5888 250px,#553c99 255px,#36329b 258px,#283189 260px,#1d317a 263px,#193175 267px,#0d2f62 303px,#0d3063 527px)"></i>
<i style="background:linear-gradient(#f8c041 14px,#f9bf41 118px,#faa73e 222px,#f89642 243px,#f68c45 247px,#e07162 251px,#a75c84 255px,#573c99 260px,#38339b 262px,#253185 264px,#1d317a 266px,#1a3175 269px,#0d2f62 315px,#0d3063 527px)"></i>
<i style="background:linear-gradient(#f8c141 14px,#f8c242 114px,#fab33d 155px,#faa73e 219px,#f78f44 241px,#ef834e 244px,#dd6f64 247px,#9c5888 252px,#5c3e99 258px,#34329a 262px,#2d3291 263px,#223181 267px,#103068 313px,#0d3063 338px,#0d3064 527px)"></i>
<i style="background:linear-gradient(#f8c141 14px,#f8c542 38px,#f9bd40 72px,#f8c442 114px,#fab23d 154px,#faa53e 218px,#f79542 234px,#f68c45 236px,#e5765b 239px,#be637a 243px,#503a9a 254px,#3c349b 259px,#313295 266px,#163071 314px,#0f3066 350px,#0d3064 527px)"></i>
<i style="background:linear-gradient(#f8c141 14px,#f8c542 117px,#fbad3c 167px,#f99e40 220px,#f79542 230px,#f68c45 232px,#eb7e53 234px,#c16479 238px,#ad5e81 240px,#89518c 247px,#4e3a9a 253px,#3c349b 261px,#35329b 281px,#1d317a 315px,#173172 348px,#0d3064 523px)"></i>
<i style="background:linear-gradient(#f8c141 14px,#f8c542 116px,#fbad3c 161px,#f89742 218px,#f68d44 226px,#f38749 228px,#e27260 231px,#c06479 234px,#ae5e81 236px,#844f8d 246px,#523b9a 253px,#4a389a 258px,#35329b 294px,#263186 313px,#21317f 333px,#11306a 504px,#1a3176 527px)"></i>
<i style="background:linear-gradient(#f8c242 14px,#f8c242 117px,#f9ba3f 142px,#f68c45 201px,#da6e66 219px,#c26479 227px,#9f5986 234px,#624098 253px,#36329b 302px,#2e3291 311px,#243183 345px,#163071 502px,#1e317b 527px)"></i>
<i style="background:linear-gradient(#f8c342 14px,#f8c241 137px,#fbad3c 155px,#f68b45 188px,#df7062 197px,#c26478 205px,#a95c83 215px,#965689 231px,#6a4495 252px,#35329b 309px,#303294 319px,#223181 406px,#1b3177 509px,#20317e 527px)"></i>
<i style="background:linear-gradient(#f8c542 14px,#f8c442 143px,#f9c041 147px,#faa63e 155px,#f68b45 176px,#e17160 184px,#c06479 191px,#a55b84 200px,#6f4693 248px,#333299 321px,#273188 397px,#223181 527px)"></i>
<i style="background:linear-gradient(#f8c542 14px,#f8c542 145px,#f8c241 148px,#f9a23f 155px,#f68c45 169px,#e27260 175px,#be637a 180px,#ab5d82 185px,#9e5987 193px,#88518c 213px,#603f98 276px,#37339b 321px,#2b318d 396px,#243184 527px)"></i>
<i style="background:linear-gradient(#f8c542 14px,#f8c442 142px,#f9bc40 149px,#f9a23f 155px,#f68d44 163px,#e27260 169px,#bb627c 174px,#a65c84 178px,#9a5788 185px,#824f8e 207px,#654297 270px,#3c349b 318px,#2f3293 394px,#263187 527px)"></i>
<i style="background:linear-gradient(#f8c542 14px,#f8c442 120px,#fab33e 140px,#f68d44 157px,#e5755c 163px,#bc627b 168px,#a15a86 173px,#844f8d 194px,#694495 263px,#41369a 316px,#333298 391px,#29318a 527px)"></i>
<i style="background:linear-gradient(#f8c542 14px,#f8c542 110px,#faa63e 125px,#f89a41 142px,#f68d44 149px,#e07161 156px,#aa5d82 165px,#92548a 173px,#834f8e 184px,#6d4594 256px,#49389a 307px,#3c349b 350px,#35329b 416px,#2b328e 527px)"></i>
<i style="background:linear-gradient(#f8c542 14px,#f8c542 106px,#f8c141 109px,#faa33f 117px,#f68b45 139px,#e17161 147px,#b8617c 153px,#9c5888 161px,#834f8e 175px,#6d4594 253px,#4f3a9a 302px,#40359a 347px,#35329b 453px,#2e3291 527px)"></i>
<i style="background:linear-gradient(#f8c542 14px,#f8c542 102px,#f9be41 106px,#f9a23f 113px,#f68b45 132px,#e3735f 142px,#be637a 148px,#8f538b 164px,#85508d 170px,#6c4594 252px,#43369a 345px,#303295 527px)"></i>
<i style="background:linear-gradient(#f8c542 14px,#f8c542 97px,#f9bf41 101px,#f9a13f 109px,#f58a46 127px,#db6e66 151px,#c66675 158px,#9e5987 167px,#824e8e 183px,#46379a 343px,#333299 529px)"></i>
<i style="background:linear-gradient(#f8c643 18px,#f8c442 93px,#faa43e 103px,#f68b45 121px,#e17260 157px,#d76d69 162px,#ab5d82 168px,#9d5987 171px,#814e8e 185px,#49389a 341px,#36329b 529px)"></i>
<i style="background:linear-gradient(#f8c643 18px,#f8c442 88px,#faa33f 99px,#f68b45 116px,#e6775b 132px,#ce696f 155px,#c06479 161px,#955689 170px,#824f8e 179px,#4d399a 339px,#503a9a 360px,#39339b 529px)"></i>
<i style="background:linear-gradient(#f8c643 18px,#f8c442 83px,#faa53e 94px,#f68b45 112px,#e17161 127px,#c26479 137px,#824e8e 174px,#503a9a 338px,#543b99 360px,#3b349b 529px)"></i>
<i style="background:linear-gradient(#f8c642 18px,#f8c342 76px,#fbad3c 87px,#f68d45 108px,#e17161 120px,#b3607f 130px,#995788 156px,#824e8e 170px,#533b99 337px,#3e359b 529px)"></i>
<i style="background:linear-gradient(#f8c642 18px,#f8c442 69px,#fbac3c 84px,#f68b45 105px,#e27260 115px,#c06479 120px,#b15f7f 123px,#824e8e 170px,#563c99 334px,#533b99 408px,#41359a 529px)"></i>
<i style="background:linear-gradient(#f8c642 18px,#f8c442 67px,#fbad3c 81px,#f68c45 102px,#e3735f 111px,#c06479 116px,#ab5d82 121px,#824f8e 172px,#593d99 332px,#43369a 529px)"></i>
<i style="background:linear-gradient(#f8c642 18px,#f8c442 66px,#fbad3c 80px,#f68d44 101px,#e3735e 109px,#c26478 113px,#af5e80 116px,#9a5888 135px,#814e8e 174px,#694395 258px,#46379a 529px)"></i>
<i style="background:linear-gradient(#f8c642 18px,#f8c342 68px,#fbae3c 82px,#f68d44 103px,#e5765c 108px,#be637a 112px,#ad5e81 115px,#92558a 141px,#814e8e 172px,#6b4495 250px,#49389a 529px)"></i>
<i style="background:linear-gradient(#f8c642 18px,#f8c342 76px,#fbad3c 86px,#f78f44 105px,#e5765c 109px,#c06479 113px,#ac5d81 117px,#88518d 151px,#603f98 321px,#4b399a 532px)"></i>
<i style="background:linear-gradient(#f8c642 18px,#f8c442 79px,#fbac3c 89px,#f68c45 107px,#e07162 113px,#c06479 117px,#b05f80 120px,#834f8e 152px,#614098 326px,#4e3a9a 532px)"></i>
<i style="background:linear-gradient(#f8c642 18px,#f8c442 77px,#fbac3c 89px,#f68b45 109px,#df7062 118px,#b4607e 126px,#824f8e 151px,#624097 326px,#513a9a 532px)"></i>
<i style="background:linear-gradient(#f8c642 18px,#f8c442 76px,#fbad3c 90px,#f58a46 116px,#e3745e 126px,#ae5e81 135px,#824e8e 153px,#644197 328px,#533b99 532px)"></i>
<i style="background:linear-gradient(#f8c642 18px,#f8c442 80px,#f9a33f 100px,#f68b45 130px,#e27260 135px,#b7617d 140px,#9d5887 145px,#824e8e 156px,#654297 329px,#553c99 535px)"></i>
<i style="background:linear-gradient(#f8c642 18px,#f8c442 88px,#faa53e 104px,#f89a41 130px,#f68e44 136px,#e3745e 140px,#c06479 143px,#ac5e81 145px,#92558a 151px,#824f8e 158px,#674296 328px,#563c99 535px)"></i>
<i style="background:linear-gradient(#f8c642 18px,#f8c542 92px,#fbad3c 105px,#f99c40 133px,#f68d45 140px,#e3745e 143px,#b25f7f 147px,#985789 152px,#824e8e 161px,#684396 325px,#573c99 535px)"></i>
<i style="background:linear-gradient(#f8c642 18px,#f8c442 91px,#fbad3c 114px,#f89c41 137px,#f68e44 143px,#e77859 146px,#c76675 149px,#b25f7f 151px,#93558a 157px,#824e8e 165px,#6a4495 322px,#593d99 535px)"></i>
<i style="background:linear-gradient(#f8c542 14px,#f8c442 88px,#faa73e 129px,#f79044 147px,#e4745d 151px,#c46577 154px,#b15f7f 156px,#94558a 162px,#824e8e 171px,#6c4594 318px,#5a3d99 535px)"></i>
<i style="background:linear-gradient(#f8c542 14px,#f8c442 83px,#faa63e 134px,#f89841 148px,#f68d44 152px,#e5765b 156px,#c26479 160px,#b05f80 162px,#955689 168px,#824f8e 177px,#6e4694 314px,#5b3d99 535px)"></i>
<i style="background:linear-gradient(#f8c542 14px,#f8c141 82px,#faa63e 137px,#f89941 152px,#f68d44 157px,#e4755d 162px,#b9627c 168px,#955589 175px,#844f8e 183px,#704793 310px,#5c3e99 535px)"></i>
<i style="background:linear-gradient(#f8c442 14px,#f8c542 62px,#fab83f 103px,#faa63e 142px,#f89842 158px,#f68b45 164px,#e4745e 170px,#ba627c 176px,#995788 184px,#8f538b 191px,#724893 304px,#5d3e99 531px)"></i>
<i style="background:linear-gradient(#f8c242 14px,#f8c542 55px,#f9b93f 99px,#faa63e 146px,#f68d45 173px,#e77958 179px,#cb6871 185px,#d36b6c 192px,#b3607e 208px,#824f8e 239px,#744892 301px,#5e3e99 531px)"></i>
<i style="background:linear-gradient(#f8c141 14px,#f8c342 53px,#f9b93f 97px,#faa63e 153px,#f68b45 195px,#e27260 213px,#d06a6e 225px,#c46577 229px,#93558a 239px,#824e8e 249px,#764992 297px,#5f3f98 531px)"></i>
<i style="background:linear-gradient(#f9c041 14px,#f8c141 55px,#fab83f 98px,#f9a13f 173px,#f78f44 204px,#ed7f52 213px,#de7063 232px,#cf6a6e 236px,#91548a 247px,#814e8e 254px,#603f98 531px)"></i>
<i style="background:linear-gradient(#f9bf41 14px,#f9bf41 61px,#faa63e 173px,#f68c45 203px,#df7062 239px,#d36b6b 242px,#965689 249px,#86508d 253px,#814e8e 257px,#604098 531px)"></i>
<i style="background:linear-gradient(#f9be41 14px,#f9bd40 65px,#faa73e 174px,#f68b45 204px,#e17161 241px,#d06a6e 244px,#965689 250px,#88518c 253px,#814e8e 257px,#614098 531px)"></i>
<i style="background:linear-gradient(#f9bd40 14px,#f9bc40 70px,#faa83d 172px,#f68b45 215px,#e17161 240px,#cf6a6e 243px,#975789 249px,#85508d 253px,#814e8e 256px,#624098 531px)"></i>
<i style="background:linear-gradient(#f9bc40 14px,#f9ba40 73px,#faa73e 178px,#f68b45 222px,#df7062 241px,#c06479 246px,#955689 252px,#87508d 256px,#814e8e 261px,#634197 531px)"></i>
<i style="background:linear-gradient(#f9bb40 14px,#fab83f 80px,#faa63e 189px,#f68b45 222px,#de7063 247px,#c76675 252px,#93558a 259px,#824e8e 268px,#644197 531px)"></i>
<i style="background:linear-gradient(#f9ba3f 10px,#faa73e 189px,#f68b45 218px,#e07161 252px,#d16b6d 256px,#985789 264px,#844f8d 274px,#654197 531px)"></i>
<i style="background:linear-gradient(#f9b93f 10px,#faa73e 187px,#f68b45 218px,#e07162 256px,#d56c6a 259px,#b15f7f 263px,#9f5986 266px,#92548a 272px,#8a528c 281px,#6e4694 420px,#654296 531px)"></i>
<i style="background:linear-gradient(#fab83f 10px,#faa73e 181px,#f68b45 219px,#e17161 255px,#d76d68 258px,#bf637a 261px,#a65b84 265px,#91548a 282px,#764991 377px,#664296 528px)"></i>
<i style="background:linear-gradient(#fab73f 6px,#faa63e 177px,#f68b45 216px,#e17161 254px,#d96e67 257px,#b25f7f 262px,#a75c84 265px,#87508d 300px,#6f4694 422px,#674396 528px)"></i>
<i style="background:linear-gradient(#fab63e 6px,#faa73e 166px,#f68b45 211px,#e07162 256px,#d66c69 259px,#bf637a 262px,#ab5d82 266px,#834f8e 299px,#6d4594 438px,#684396 528px)"></i>
<i style="background:linear-gradient(#fab53e 6px,#faa73e 160px,#f68b45 207px,#e07161 258px,#a55b84 275px,#8f538b 287px,#824e8e 301px,#6d4594 445px,#694395 528px)"></i>
<i style="background:linear-gradient(#fab53e 6px,#faa73e 154px,#f68b45 204px,#df7063 266px,#d46c6b 270px,#af5e80 275px,#a15a86 278px,#89518c 287px,#834f8e 292px,#6d4594 445px,#6a4495 531px)"></i>
<i style="background:linear-gradient(#fab43e 6px,#faa73e 149px,#f58a46 202px,#df7062 269px,#d56c6a 272px,#bc637b 275px,#a25a86 279px,#824f8e 291px,#6d4594 456px,#6b4495 531px)"></i>
<i style="background:linear-gradient(#fab33e 6px,#faa63e 145px,#f79343 172px,#f2864a 209px,#df7063 271px,#d76d68 274px,#c16479 278px,#985789 286px,#824e8e 300px,#6d4594 455px,#6c4595 531px)"></i>
<i style="background:linear-gradient(#fab23d 6px,#faa43e 141px,#f79143 170px,#e87a57 246px,#db6f65 279px,#cd6970 283px,#a15a86 291px,#814e8e 302px,#6e4694 451px,#6d4594 531px)"></i>
<i style="background:linear-gradient(#fab23d 6px,#faa63e 109px,#f68b45 182px,#e17161 278px,#d56c6a 288px,#94558a 296px,#814e8e 302px,#6f4694 443px,#6e4694 531px)"></i>
<i style="background:linear-gradient(#fab13d 6px,#faa63e 92px,#f68b45 176px,#e17161 278px,#d86d68 286px,#c36577 289px,#93558a 294px,#814e8e 300px,#6f4693 436px,#6e4694 531px)"></i>
<i style="background:linear-gradient(#fbb13d 6px,#faa73e 79px,#f79443 124px,#f68b45 171px,#e17161 274px,#da6e66 282px,#cf6a6e 284px,#8f548b 291px,#814e8e 297px,#704793 426px,#6f4693 528px)"></i>
<i style="background:linear-gradient(#fbb03d 10px,#faa73e 72px,#f89642 105px,#f68b45 164px,#e07162 274px,#d36b6c 280px,#a25a86 285px,#8c528b 288px,#814e8e 294px,#714793 417px,#704793 528px)"></i>
<i style="background:linear-gradient(#fbaf3d 10px,#faa73e 70px,#f79443 97px,#f68b45 154px,#e07062 271px,#d66d69 276px,#a75c84 281px,#8a518c 285px,#814e8e 291px,#724893 409px,#714793 528px)"></i>
<i style="background:linear-gradient(#fbaf3d 10px,#faa73e 68px,#f79343 91px,#f58a47 151px,#e07062 268px,#db6f65 272px,#d16b6d 274px,#a75c84 278px,#8d538b 281px,#814e8e 287px,#734892 402px,#724893 528px)"></i>
<i style="background:linear-gradient(#fbaf3c 10px,#faa73e 69px,#f79443 89px,#f78f44 105px,#df7062 266px,#d36b6b 271px,#a15a86 276px,#8b528c 279px,#814e8e 284px,#744892 395px,#734892 528px)"></i>
<i style="background:linear-gradient(#fbaf3c 10px,#faa63e 71px,#f79443 92px,#f68b45 116px,#df7062 263px,#d46c6b 268px,#a55b84 273px,#8e538b 276px,#814e8e 282px,#754992 387px,#744892 528px)"></i>
<i style="background:linear-gradient(#fbaf3c 6px,#faa63e 75px,#f79343 94px,#f68c45 114px,#df7063 258px,#d46c6b 264px,#a15a86 270px,#8a518c 274px,#814e8e 280px,#764992 378px,#754992 528px)"></i>
<i style="background:linear-gradient(#fbae3c 6px,#faa73e 73px,#f79343 95px,#f68b45 128px,#de7063 245px,#ca6872 258px,#8f538b 269px,#814e8e 276px,#774a91 372px,#764992 528px)"></i>
<i style="background:linear-gradient(#fbae3c 6px,#faa63e 69px,#f79343 94px,#f68b45 133px,#df7062 227px,#cd6970 240px,#8d528b 261px,#824e8e 271px,#774a91 370px,#774a91 528px)"></i>
<i style="background:linear-gradient(#fbae3c 6px,#faa73e 66px,#f79343 91px,#f68b45 137px,#e07162 217px,#d26b6c 225px,#b25f7f 232px,#975689 240px,#824e8e 259px,#784a91 370px,#774a91 528px)"></i>
<i style="background:linear-gradient(#fbad3c 6px,#faa73e 65px,#f79343 88px,#f68b45 140px,#e17161 213px,#d86d67 218px,#a95d82 224px,#965689 228px,#88518d 234px,#824e8e 242px,#784a91 526px)"></i>
<i style="background:linear-gradient(#fbad3c 6px,#faa73e 67px,#f89742 88px,#f89742 117px,#f68b45 143px,#e17161 211px,#d66d69 216px,#a85c83 221px,#8e538b 225px,#824e8e 232px,#794b90 526px)"></i>
<i style="background:linear-gradient(#fbad3c 6px,#faa63e 71px,#f68b45 145px,#e17161 210px,#d96e67 214px,#a65b84 220px,#93558a 224px,#85508d 229px,#824e8e 235px,#7a4b90 526px)"></i>
<i style="background:linear-gradient(#fbad3c 6px,#f9a23f 103px,#f68b45 148px,#e27260 210px,#d76d68 215px,#ac5d81 220px,#9e5987 223px,#8b528c 232px,#824e8e 242px,#7b4c90 526px)"></i>
<i style="background:linear-gradient(#fbad3c 6px,#faa63e 99px,#f68b45 149px,#e3745e 209px,#dd6f64 215px,#ae5e81 221px,#a25a85 224px,#824e8e 246px,#7c4c90 526px)"></i>
<i style="background:linear-gradient(#fbae3c 6px,#faa73e 97px,#f79443 117px,#f48947 164px,#e77859 204px,#de7063 215px,#b15f80 221px,#a55b84 224px,#824e8e 248px,#7d4c8f 526px)"></i>
<i style="background:linear-gradient(#fbae3c 10px,#faa73e 97px,#f79542 118px,#f68b45 165px,#ea7c55 200px,#e17161 214px,#da6e66 216px,#ba627c 220px,#aa5d82 223px,#824e8e 250px,#7e4d8f 526px)"></i>
<i style="background:linear-gradient(#fbae3c 10px,#faa73e 99px,#f89842 126px,#f68b45 174px,#ed8051 197px,#e17161 216px,#d76d68 219px,#be637a 223px,#a85c83 228px,#8b528c 247px,#824e8e 264px,#7f4d8f 526px)"></i>
<i style="background:linear-gradient(#fbaf3d 10px,#faa73e 103px,#f1854c 195px,#e27260 221px,#bf637a 229px,#a85c83 236px,#955689 250px,#85508d 273px,#804e8f 526px)"></i>
<i style="background:linear-gradient(#fbaf3d 10px,#f9a13f 145px,#f58a46 193px,#e17161 229px,#cf6a6e 236px,#a85c83 246px,#9f5987 251px,#a35b85 262px,#844f8d 311px,#804e8e 528px)"></i>
<i style="background:linear-gradient(#fbb03d 6px,#faa53e 151px,#f68b45 203px,#e17161 240px,#d76d69 243px,#b3607f 248px,#a85c83 251px,#aa5d82 255px,#cc6971 261px,#cf6a6e 264px,#ba627c 282px,#955689 300px,#834f8e 329px,#814e8e 528px)"></i>
<i style="background:linear-gradient(#fab13d 6px,#faa63e 160px,#f68b45 214px,#e17161 242px,#b3607f 249px,#ae5e81 251px,#b25f7f 253px,#de7063 260px,#e17161 273px,#d76d68 279px,#c16479 285px,#a65c84 293px,#824f8e 320px,#834f8e 528px)"></i>
<i style="background:linear-gradient(#fab23d 6px,#faa63e 171px,#f89742 209px,#f68b45 223px,#e17161 239px,#b15f80 248px,#b5607e 251px,#d56c6a 258px,#d86d68 267px,#cf6a6e 273px,#b6607e 279px,#aa5d82 284px,#834f8e 325px,#844f8e 359px,#8d538b 387px,#86508d 528px)"></i>
<i style="background:linear-gradient(#fab23d 6px,#faa73e 183px,#f79143 225px,#e4755d 239px,#c16479 246px,#ce696f 255px,#d16a6d 265px,#af5e80 284px,#945589 327px,#995788 387px,#89518c 528px)"></i>
<i style="background:linear-gradient(#fab33e 6px,#faa73e 197px,#f79443 229px,#e77959 245px,#e3745e 265px,#bf637a 328px,#aa5d82 367px,#8c528c 528px)"></i>
<i style="background:linear-gradient(#fab33e 6px,#faa73e 208px,#f79143 246px,#f1854c 309px,#e17161 345px,#c36578 377px,#ab5d82 422px,#8e538b 528px)"></i>
<i style="background:linear-gradient(#fab43e 6px,#faa73d 212px,#f68b45 338px,#e17161 376px,#b8617d 428px,#995788 488px,#90548a 532px)"></i>
<i style="background:linear-gradient(#fab53e 6px,#faa93d 207px,#f68b45 362px,#dd6f64 414px,#be637a 433px,#9c5887 488px,#93558a 532px)"></i>
<i style="background:linear-gradient(#fab63e 3px,#faa63e 265px,#f89941 298px,#f68d44 381px,#e4755d 396px,#dc6f65 411px,#bb627b 431px,#9d5987 490px,#965689 532px)"></i>
<i style="background:linear-gradient(#fab63e 3px,#faa73e 256px,#f89742 286px,#f68a46 370px,#ec7e53 385px,#d16a6d 398px,#b05f80 428px,#995788 528px)"></i>
<i style="background:linear-gradient(#fab73f 3px,#faa83d 253px,#f68c45 289px,#f2864a 337px,#e07161 379px,#d46c6a 388px,#b9627c 399px,#ae5e81 411px,#9b5888 528px)"></i>
<i style="background:linear-gradient(#fab83f 3px,#faa73e 256px,#f89742 274px,#e5775b 302px,#e87a57 330px,#db6f66 363px,#cc6970 382px,#b05f80 397px,#ac5d82 403px,#9e5987 528px)"></i>
<i style="background:linear-gradient(#fab83f 3px,#fab43e 138px,#faa33f 258px,#f89642 275px,#f58a46 282px,#dd7064 299px,#de7064 332px,#d36b6b 362px,#aa5d82 401px,#a15a86 528px)"></i>
<i style="background:linear-gradient(#f9b93f 3px,#fab43e 139px,#f79443 278px,#db6f65 300px,#cf6a6f 360px,#ad5e81 395px,#a45b85 528px)"></i>
<i style="background:linear-gradient(#f9ba3f 3px,#fab33e 149px,#f68b45 279px,#da6e66 301px,#cd6970 356px,#b25f7f 394px,#a75c83 530px)"></i>
<i style="background:linear-gradient(#f9ba3f 6px,#fab23d 154px,#faa73e 196px,#f79243 223px,#f68b45 244px,#e97b56 269px,#eb7e53 283px,#dc6f65 297px,#cc6871 354px,#ba627c 389px,#ad5e81 434px,#aa5d82 530px)"></i>
<i style="background:linear-gradient(#f9ba40 6px,#fbb03d 167px,#faa63e 196px,#f48948 231px,#de7063 265px,#e3735f 285px,#d56c6a 311px,#b25f7f 432px,#ad5e81 530px)"></i>
<i style="background:linear-gradient(#f9bb40 6px,#fbb03d 168px,#faa63e 195px,#f68b45 220px,#dd6f64 265px,#b6617d 430px,#b05f80 530px)"></i>
<i style="background:linear-gradient(#f9bb40 10px,#fbae3c 174px,#faa63e 195px,#f68b45 220px,#de7063 273px,#b9617c 428px,#b25f7f 530px)"></i>
<i style="background:linear-gradient(#f9bc40 10px,#fab63e 132px,#fbab3d 185px,#f68b45 223px,#ec7f52 242px,#e27260 278px,#c36578 377px,#b4607e 530px)"></i>
<i style="background:linear-gradient(#f9bc40 10px,#fab63e 132px,#faa53e 199px,#f1854c 234px,#e5765c 271px,#e17161 302px,#c46577 370px,#b6607e 530px)"></i>
<i style="background:linear-gradient(#f9bd40 10px,#fab33e 149px,#faa43e 197px,#f89542 214px,#ee8150 236px,#e3735e 270px,#df7063 303px,#c46577 375px,#b7617d 530px)"></i>
<i style="background:linear-gradient(#f9be40 10px,#fab53e 141px,#f89742 208px,#ed8051 230px,#e07161 267px,#c46577 378px,#b9627c 530px)"></i>
<i style="background:linear-gradient(#f9bf41 10px,#f9b93f 132px,#f79443 205px,#eb7d54 224px,#e17161 256px,#c66675 374px,#bb627b 530px)"></i>
<i style="background:linear-gradient(#f9bf41 10px,#f8c141 49px,#fab83f 95px,#f9bf41 130px,#faa93d 152px,#f68c45 205px,#e6775b 222px,#e17161 234px,#c96773 367px,#bd637b 530px)"></i>
<i style="background:linear-gradient(#f8c041 10px,#f8c342 49px,#fab83f 99px,#f8c342 135px,#faa43e 147px,#f2864a 204px,#de7064 227px,#be637a 530px)"></i>
<i style="background:linear-gradient(#f8c241 14px,#f8c442 59px,#fab73f 104px,#f8c342 119px,#f8c442 135px,#f9be41 138px,#faa43e 143px,#f99e40 147px,#f68b45 182px,#dd7064 230px,#c06479 530px)"></i>
<i style="background:linear-gradient(#f8c242 14px,#f8c442 70px,#fbae3c 122px,#fab23d 130px,#f79542 152px,#f68b45 176px,#dd7064 230px,#c16479 530px)"></i>
<i style="background:linear-gradient(#f8c242 14px,#f8c342 94px,#f99f40 123px,#f48947 176px,#dd6f64 222px,#c36578 530px)"></i>
<i style="background:linear-gradient(#f8c242 14px,#f8c442 96px,#fbad3c 111px,#f89642 130px,#f58947 184px,#df7063 219px,#c46577 532px)"></i>
<i style="background:linear-gradient(#f8c242 14px,#f8c442 99px,#faa43e 117px,#f89842 131px,#f68b45 191px,#e17161 244px,#c56676 532px)"></i>
<i style="background:linear-gradient(#f8c242 14px,#f8c442 100px,#faa93d 117px,#f99f40 129px,#f89742 183px,#f68b45 205px,#e17161 271px,#c66675 532px)"></i>
<i style="background:linear-gradient(#f8c242 14px,#f8c442 99px,#faa53e 128px,#f68e44 231px,#e17161 294px,#c76774 528px)"></i>
<i style="background:linear-gradient(#f8c242 14px,#f8c141 97px,#fbab3d 128px,#f79542 241px,#de7063 318px,#d76d69 448px,#c86774 528px)"></i>
<i style="background:linear-gradient(#f8c241 14px,#f8c242 72px,#fbad3c 132px,#f99c40 241px,#f48848 281px,#e27260 342px,#d96e67 447px,#c96773 528px)"></i>
<i style="background:linear-gradient(#f8c141 18px,#f8c141 67px,#fbaf3d 133px,#f9a33f 241px,#f68b45 303px,#e5765b 350px,#ca6773 528px)"></i>
<i style="width:3px;background:linear-gradient(#f8c141 24px,#faa63e 240px,#f89841 267px,#f78f44 318px,#ea7d54 339px,#e4755d 367px,#ca6872 528px)"></i>
</div><div class="f" style="left:123px;top:659px;width:1316px;height:545px">
<i style="background:linear-gradient(#f2dc4b 3px,#f3da4a 47px,#f8c743 95px,#f9bd40 103px,#fbad3c 108px,#f89941 121px,#f68c45 125px,#df7063 131px,#c56676 133px,#a25a85 135px,#85508d 137px,#5a3d99 143px,#36329b 156px,#273188 160px,#233183 164px,#0e3065 314px,#0d3063 519px)"></i>
<i style="background:linear-gradient(#f3db4a 3px,#f3db4a 44px,#f8c643 105px,#fab53e 116px,#f68c45 124px,#df7063 130px,#c66675 132px,#a35b85 134px,#7b4c90 137px,#553c99 143px,#37329b 155px,#253185 160px,#21317f 167px,#0d3064 315px,#0d3063 524px)"></i>
<i style="background:linear-gradient(#f3da49 3px,#f3db4a 42px,#f7c843 113px,#f8c342 117px,#fbac3c 120px,#f68d44 123px,#e3735e 128px,#cf6a6e 130px,#9f5987 133px,#794b91 136px,#543b99 142px,#36329b 154px,#253185 159px,#1e317b 170px,#0d3063 319px,#0d3062 524px)"></i>
<i style="background:linear-gradient(#f4d849 3px,#f3db4a 44px,#f8c743 106px,#f8c041 114px,#fbaa3d 118px,#f68d44 121px,#de7063 126px,#a65c84 130px,#7e4d8f 133px,#573c99 139px,#38339b 152px,#263186 157px,#1d3179 170px,#0d2f62 322px,#0d3062 524px)"></i>
<i style="background:linear-gradient(#f5d648 7px,#f3da49 46px,#f7c843 92px,#f9a23f 113px,#f68b45 118px,#db6e66 123px,#a05a86 127px,#724893 131px,#553c99 136px,#35329a 150px,#273188 154px,#1e317b 168px,#0c2f61 325px,#0d3062 524px)"></i>
<i style="background:linear-gradient(#f6d447 7px,#f4d949 47px,#f7c943 89px,#f8c242 93px,#faa43e 99px,#f89941 110px,#f68d44 114px,#e27260 119px,#bd637b 122px,#824f8e 126px,#634197 130px,#4e3a9a 135px,#37339b 146px,#273188 151px,#243183 155px,#1c3178 178px,#0c2f61 326px,#0d3062 524px)"></i>
<i style="background:linear-gradient(#f6d246 7px,#f4d949 48px,#f7c943 88px,#f8c141 92px,#faa43e 97px,#f58a46 111px,#df7063 116px,#b6617d 119px,#89518c 122px,#614098 127px,#503a9a 131px,#36329b 143px,#263187 148px,#233182 153px,#1c3178 175px,#0c2f61 328px,#0d3062 524px)"></i>
<i style="background:linear-gradient(#f6cf45 7px,#f4d849 49px,#f7c943 87px,#f8c041 91px,#faa43e 96px,#f68d44 108px,#e17161 114px,#c86773 116px,#a55b84 118px,#7c4c90 121px,#563c99 127px,#36329b 140px,#273188 144px,#20317d 156px,#0c2f60 333px,#0d3062 524px)"></i>
<i style="background:linear-gradient(#f7cc44 7px,#f4d849 49px,#f7c943 86px,#f8c342 90px,#f9a33f 96px,#f68b45 109px,#e2725f 114px,#ca6872 116px,#a75c84 118px,#7d4c8f 121px,#563c99 127px,#34329a 140px,#263186 144px,#1e317b 156px,#0c2f60 337px,#0d3062 524px)"></i>
<i style="background:linear-gradient(#f7c943 7px,#f4d848 49px,#f7ca44 85px,#f8c442 90px,#faa43e 96px,#f68d45 110px,#e2735f 115px,#aa5d82 119px,#804e8f 122px,#583c99 128px,#36329b 142px,#243184 147px,#1c3179 155px,#0c2f60 339px,#0d3062 524px)"></i>
<i style="background:linear-gradient(#f8c643 7px,#f5d648 45px,#f7cc44 82px,#f8c542 90px,#faa63e 97px,#f68c45 113px,#e27260 118px,#bd637b 121px,#824f8e 125px,#5e3e99 130px,#4e3a9a 134px,#36329b 145px,#21317f 150px,#1c3179 153px,#0c2f60 338px,#0d3062 524px)"></i>
<i style="background:linear-gradient(#f8c542 7px,#f5d547 42px,#f7cc44 81px,#f8c442 91px,#faa73e 99px,#f68d44 116px,#e97b56 120px,#db6e66 122px,#9f5987 126px,#844f8d 128px,#5f3f98 133px,#4f3a9a 137px,#34329a 149px,#223181 153px,#1c3179 157px,#0c2f60 337px,#0d3062 524px)"></i>
<i style="background:linear-gradient(#f8c442 7px,#f6d446 41px,#f7c843 85px,#f8c242 91px,#fbac3c 99px,#f68d44 118px,#db6f65 125px,#a55b84 129px,#89518c 131px,#624097 136px,#4f3a9a 141px,#35329b 154px,#233182 160px,#1c3179 165px,#0c2f60 335px,#0d3063 527px)"></i>
<i style="background:linear-gradient(#f8c442 7px,#f6d346 40px,#f8c642 84px,#fbac3c 100px,#f68a46 120px,#dd6f64 128px,#9f5986 133px,#804e8e 136px,#553c99 144px,#37329b 162px,#243184 170px,#1d317a 177px,#0c2f60 327px,#0d3063 527px)"></i>
<i style="background:linear-gradient(#f8c342 7px,#f6d146 39px,#f7c943 75px,#fbad3c 99px,#f68c45 120px,#da6e67 133px,#c56676 136px,#9d5987 140px,#7a4b90 144px,#5f3f98 149px,#4e3a9a 155px,#35329a 174px,#243184 180px,#1d317a 188px,#0c2f61 318px,#0d3063 527px)"></i>
<i style="background:linear-gradient(#f8c342 7px,#f6d045 38px,#f8c642 77px,#fbad3c 97px,#f79542 116px,#e4755d 136px,#d26b6c 142px,#9e5987 148px,#7d4d8f 152px,#5a3d99 159px,#37339b 179px,#243183 185px,#1e317b 193px,#0c2f62 313px,#0d3063 527px)"></i>
<i style="background:linear-gradient(#f8c241 7px,#f7ce45 38px,#f8c241 78px,#fbad3c 96px,#f79343 118px,#e27260 145px,#cd6970 151px,#bb627b 153px,#87508d 157px,#6c4595 161px,#36329b 182px,#253185 187px,#20317e 195px,#0d2f62 319px,#0d3063 527px)"></i>
<i style="background:linear-gradient(#f8c141 7px,#f7cb44 39px,#f9bc40 80px,#fbad3c 97px,#f68b45 125px,#e2725f 147px,#cb6871 152px,#8d538b 157px,#6f4693 161px,#523b9a 170px,#38339b 182px,#263186 187px,#233182 192px,#0d2f62 324px,#0d3063 527px)"></i>
<i style="background:linear-gradient(#f8c041 7px,#f7c843 38px,#f9b93f 81px,#fbad3c 98px,#f68b45 128px,#de7063 144px,#c86774 147px,#824e8e 153px,#654297 158px,#513a9a 165px,#38339b 180px,#253185 188px,#0d2f62 331px,#0d3063 527px)"></i>
<i style="background:linear-gradient(#f9c041 7px,#f8c542 38px,#fab63e 83px,#f99e40 117px,#f58a46 131px,#e17161 140px,#c66675 143px,#834f8e 148px,#6c4595 151px,#593d99 155px,#36329b 177px,#263186 190px,#0d2f62 338px,#0d3063 527px)"></i>
<i style="background:linear-gradient(#f9bf41 7px,#f8c141 43px,#fab33e 87px,#faa53e 114px,#f89742 127px,#f58a46 132px,#de7063 139px,#c86774 141px,#a65c84 143px,#7e4d8f 146px,#523b9a 154px,#35329b 173px,#273187 194px,#0d2f62 344px,#0d3063 527px)"></i>
<i style="background:linear-gradient(#f9be40 7px,#f9be41 45px,#fbaf3d 95px,#faa53e 115px,#f89742 128px,#f68c45 132px,#dc6f65 138px,#9e5987 142px,#724893 146px,#503a9a 153px,#37339b 167px,#2a318b 193px,#1b3177 242px,#0d3062 349px,#0d3062 524px)"></i>
<i style="background:linear-gradient(#f9bd40 12px,#f9bb40 51px,#faa93d 106px,#f89a41 124px,#f68e44 130px,#e17161 136px,#a75c84 140px,#7e4d8f 143px,#563c99 150px,#3a339b 163px,#333298 173px,#1b3178 245px,#0d3065 350px,#0d3062 524px)"></i>
<i style="background:linear-gradient(#f9bc40 12px,#f9b93f 51px,#faa83d 101px,#f89941 122px,#f68c45 128px,#e27260 134px,#cc6971 136px,#ac5d81 138px,#824e8e 141px,#654296 145px,#4d399a 151px,#35329b 167px,#1c3179 247px,#103068 348px,#0d3062 524px)"></i>
<i style="background:linear-gradient(#f9bb40 12px,#fab73f 50px,#faa83d 96px,#f89642 119px,#f68a46 125px,#df7063 132px,#b8617d 135px,#89518c 138px,#624097 143px,#4c399a 149px,#36329b 164px,#1c3179 261px,#0d3062 414px,#0d3063 524px)"></i>
<i style="background:linear-gradient(#f9ba3f 12px,#faa83d 92px,#f68b45 119px,#df7063 129px,#cb6872 131px,#824f8e 136px,#593d99 142px,#4a389a 147px,#36329b 161px,#1e317c 262px,#0d3063 433px,#0d3063 524px)"></i>
<i style="background:linear-gradient(#f9b93f 12px,#faa83d 89px,#f68b45 114px,#de7063 125px,#cc6970 127px,#a25a86 130px,#7d4c8f 133px,#573c99 139px,#37339b 158px,#213180 260px,#0e3065 441px,#0d3063 524px)"></i>
<i style="background:linear-gradient(#fab83f 12px,#faa83d 88px,#f68a46 111px,#df7062 122px,#cd6970 124px,#a05986 127px,#7d4c8f 130px,#573c99 137px,#49389a 144px,#37339b 162px,#243183 259px,#0d3063 524px)"></i>
<i style="background:linear-gradient(#fab73f 12px,#faa73e 89px,#f89742 105px,#f58a46 111px,#dc6f64 121px,#c76674 123px,#a75c84 125px,#814e8e 128px,#664296 134px,#523b9a 141px,#37339b 167px,#29318a 234px,#0e3065 524px)"></i>
<i style="background:linear-gradient(#fab53e 12px,#faa73d 90px,#f89842 106px,#f68b45 112px,#de7063 121px,#c86774 123px,#8b528c 127px,#734892 131px,#634197 138px,#37339b 169px,#29318b 235px,#103069 524px)"></i>
<i style="background:linear-gradient(#fab43e 12px,#faa73e 92px,#f68c45 113px,#df7063 121px,#c86774 123px,#a65b84 125px,#8a528c 127px,#774a91 130px,#37339b 168px,#2b318d 233px,#13306c 524px)"></i>
<i style="background:linear-gradient(#fab33e 12px,#faa73e 94px,#f89841 109px,#f68c45 114px,#e07162 120px,#b8617d 123px,#8a528c 126px,#704793 130px,#513b9a 143px,#37339b 166px,#2b328e 233px,#15306f 524px)"></i>
<i style="background:linear-gradient(#fab23d 12px,#faa63e 88px,#f89a41 107px,#f78f44 113px,#e27260 118px,#ab5d82 122px,#824e8e 125px,#644197 130px,#4e399a 138px,#38339b 159px,#2c328f 233px,#183173 524px)"></i>
<i style="background:linear-gradient(#fbb13d 16px,#faa73e 77px,#f89941 102px,#f68c45 110px,#e2735f 115px,#b9627c 118px,#8c528c 121px,#674396 126px,#4b399a 134px,#38339b 151px,#1a3176 524px)"></i>
<i style="background:linear-gradient(#fbb03d 16px,#faa63e 73px,#f89642 95px,#f58947 103px,#e07062 110px,#c46577 113px,#844f8d 118px,#634197 123px,#4c399a 130px,#37339b 145px,#1d317a 524px)"></i>
<i style="background:linear-gradient(#fbaf3d 16px,#faa63e 69px,#f89742 86px,#f2864b 96px,#dd6f64 103px,#a15a86 109px,#854f8d 112px,#644197 118px,#4d399a 125px,#38339b 141px,#20317d 524px)"></i>
<i style="background:linear-gradient(#fbae3c 16px,#faa63e 64px,#f89842 81px,#f48947 88px,#e17161 96px,#c86774 99px,#8d538b 104px,#6b4595 110px,#4e3a9a 119px,#38339b 136px,#223181 524px)"></i>
<i style="background:linear-gradient(#fbad3c 16px,#faa63e 58px,#f89742 76px,#f58a47 83px,#db6f65 91px,#bd637b 94px,#8d538b 98px,#6e4694 103px,#4e399a 114px,#38339b 131px,#2c328f 263px,#253184 524px)"></i>
<i style="background:linear-gradient(#fbad3c 16px,#faa53e 55px,#f89642 71px,#f58a46 76px,#e17161 85px,#c86774 88px,#8a518c 93px,#6b4495 98px,#4e399a 108px,#38339b 126px,#2d328f 266px,#273187 524px)"></i>
<i style="background:linear-gradient(#fbac3c 20px,#faa63e 51px,#f89742 66px,#f58a46 72px,#e3745e 78px,#ca6872 83px,#ba627c 85px,#7f4e8f 90px,#6a4495 94px,#4d399a 103px,#38339b 120px,#2d3290 266px,#273188 524px)"></i>
<i style="background:linear-gradient(#fbab3d 20px,#faa53e 49px,#f89742 63px,#f48947 69px,#e3745e 76px,#ca6773 81px,#b4607e 84px,#7d4d8f 89px,#593d99 96px,#49389a 102px,#37339b 115px,#283189 524px)"></i>
<i style="background:linear-gradient(#fbaa3d 20px,#faa43e 49px,#f68c45 66px,#e97a57 73px,#de7063 77px,#c56676 82px,#7f4d8f 89px,#694395 93px,#4c399a 101px,#37339b 115px,#283189 524px)"></i>
<i style="background:linear-gradient(#fbaa3d 20px,#faa63e 41px,#f89a41 56px,#f68c45 65px,#e3745e 76px,#c36577 83px,#824f8e 90px,#684396 95px,#4d399a 103px,#38339b 119px,#28318a 524px)"></i>
<i style="background:linear-gradient(#faa93d 24px,#faa53e 40px,#f68b45 63px,#e27260 78px,#c36577 86px,#7c4c90 95px,#593d99 103px,#47379a 111px,#38339b 125px,#29318a 524px)"></i>
<i style="background:linear-gradient(#faa93d 24px,#faa53e 38px,#f68c45 59px,#e07062 82px,#c06479 91px,#804e8e 99px,#634197 105px,#4c399a 113px,#3c349b 128px,#2f3293 228px,#29318a 527px)"></i>
<i style="background:linear-gradient(#faa83d 24px,#faa53e 38px,#f68c45 58px,#e07062 86px,#c46577 95px,#744892 106px,#563c99 115px,#49389a 123px,#37339b 155px,#2f3292 234px,#29318b 527px)"></i>
<i style="background:linear-gradient(#faa83d 24px,#faa53e 38px,#f68c45 60px,#e07162 90px,#c36578 100px,#7b4b90 109px,#5b3d99 119px,#4c399a 142px,#37339b 159px,#2e3292 236px,#2a318b 527px)"></i>
<i style="background:linear-gradient(#faa83d 24px,#faa53e 40px,#f68c45 61px,#df7063 94px,#be637a 103px,#86508d 109px,#704793 114px,#644197 121px,#553c99 141px,#36329b 161px,#2e3291 232px,#2a318c 527px)"></i>
<i style="background:linear-gradient(#faa93d 24px,#faa53e 42px,#f68b45 62px,#e6775a 77px,#db6f65 91px,#c16479 100px,#8a518c 107px,#794b91 111px,#36329b 161px,#2e3291 227px,#2a318c 527px)"></i>
<i style="background:linear-gradient(#faa93d 24px,#faa53e 43px,#f68c45 62px,#e17161 79px,#c16479 95px,#89518c 103px,#7a4b90 107px,#553b99 129px,#36329b 159px,#2d3290 221px,#2a318c 527px)"></i>
<i style="background:linear-gradient(#faa93d 24px,#faa53e 44px,#f68c45 63px,#e17161 78px,#b9627c 94px,#89518c 100px,#7d4c8f 103px,#4b399a 132px,#36329b 155px,#2d3290 214px,#2b318d 527px)"></i>
<i style="background:linear-gradient(#faa93d 20px,#faa43e 46px,#f68c45 64px,#e17161 81px,#bf637a 94px,#91548a 101px,#7d4c8f 106px,#40359a 138px,#35329a 151px,#2c328f 210px,#2b318d 527px)"></i>
<i style="background:linear-gradient(#faa93d 20px,#faa43e 47px,#f68c45 66px,#e17161 87px,#c06479 100px,#87518d 108px,#7a4b90 111px,#3d349b 142px,#323297 154px,#2c328e 210px,#2b328d 527px)"></i>
<i style="background:linear-gradient(#faa93d 20px,#faa53e 48px,#f68b45 71px,#e17161 95px,#c46576 104px,#8c528b 110px,#7c4c90 113px,#3b349b 145px,#2f3293 158px,#2b318d 527px)"></i>
<i style="background:linear-gradient(#faa93d 20px,#faa63e 50px,#f68c45 80px,#e27260 100px,#c96773 106px,#89518c 113px,#7b4c90 116px,#36329b 150px,#2c328f 159px,#2b318d 527px)"></i>
<i style="background:linear-gradient(#fbaa3d 20px,#faa63e 53px,#f89941 75px,#f68c45 86px,#e4755d 101px,#c56676 109px,#89518c 116px,#7b4b90 119px,#37339b 152px,#273188 160px,#2e3292 362px,#2a318c 527px)"></i>
<i style="background:linear-gradient(#fbaa3d 20px,#f9a23f 69px,#f68b46 89px,#e27260 104px,#c36577 112px,#8b528c 119px,#7c4c90 122px,#36329b 156px,#283189 160px,#253185 163px,#2e3292 352px,#2a318c 527px)"></i>
<i style="background:linear-gradient(#fbaa3d 20px,#faa53e 68px,#f68c45 88px,#e27260 106px,#c16479 116px,#8b528c 123px,#7c4c90 126px,#36329b 158px,#273187 162px,#233182 166px,#2e3292 345px,#2a318c 527px)"></i>
<i style="background:linear-gradient(#fbaa3d 20px,#faa53e 67px,#f68b45 88px,#e17260 110px,#c46576 120px,#8e538b 127px,#7e4d8f 130px,#5d3e99 144px,#37339b 159px,#263186 163px,#21317f 167px,#233182 255px,#2e3291 339px,#2a318b 527px)"></i>
<i style="background:linear-gradient(#fbaa3d 20px,#faa63e 67px,#f68b45 89px,#e27260 117px,#ca6872 125px,#814e8e 135px,#5f3f98 145px,#37339b 160px,#253185 166px,#213180 262px,#2c328e 302px,#2e3292 349px,#29318b 524px)"></i>
<i style="background:linear-gradient(#fbab3d 20px,#faa63e 68px,#f38749 104px,#e17161 126px,#ca6872 132px,#824e8e 139px,#593d99 147px,#4b399a 152px,#3f359b 163px,#35329b 207px,#20317e 251px,#2e3291 330px,#29318b 524px)"></i>
<i style="background:linear-gradient(#fbab3d 20px,#faa63e 70px,#f68b45 111px,#eb7d54 125px,#e17161 132px,#ca6872 135px,#92558a 139px,#774a91 142px,#614098 147px,#533b9a 153px,#4c399a 161px,#44369a 219px,#36329b 243px,#1f317d 263px,#2e3291 327px,#29318a 524px)"></i>
<i style="background:linear-gradient(#fbab3d 20px,#faa63e 76px,#f89841 107px,#f58a46 122px,#e2725f 134px,#bf637a 139px,#7f4d8f 147px,#6a4495 155px,#543b99 216px,#36329b 262px,#243184 276px,#2e3292 338px,#29318a 524px)"></i>
<i style="background:linear-gradient(#fbab3d 20px,#f9a23f 99px,#f68b45 131px,#e97a57 142px,#c16479 150px,#94558a 168px,#844f8d 203px,#5d3e99 237px,#36329b 275px,#253185 283px,#2d328f 302px,#2e3292 335px,#283189 524px)"></i>
<i style="background:linear-gradient(#fbab3d 20px,#faa63e 101px,#f79243 145px,#e6775a 169px,#d76d68 202px,#cb6872 215px,#bb627b 223px,#844f8d 236px,#5f3f99 252px,#44369a 274px,#35329b 280px,#273188 285px,#2d3290 298px,#2e3292 333px,#283189 524px)"></i>
<i style="background:linear-gradient(#fbab3d 20px,#faa63e 112px,#f58a46 197px,#ee814f 221px,#e17260 230px,#cc6871 237px,#b8617d 240px,#824f8e 245px,#744992 248px,#37339b 281px,#2d3290 286px,#283189 524px)"></i>
<i style="background:linear-gradient(#fbab3d 20px,#faa43e 138px,#f89742 211px,#f68b45 224px,#e17161 239px,#ca6872 242px,#9e5987 245px,#87518d 247px,#784a91 250px,#513b9a 268px,#313295 287px,#29318a 390px,#273188 524px)"></i>
<i style="background:linear-gradient(#fbab3c 20px,#f99f40 205px,#f89842 218px,#f68c45 225px,#df7063 241px,#ce696f 243px,#a15a86 246px,#88518d 248px,#724893 252px,#4f3a9a 266px,#323297 287px,#29318a 376px,#263187 524px)"></i>
<i style="background:linear-gradient(#fbab3c 20px,#faa53e 203px,#f68b45 225px,#dc6f65 240px,#cb6872 242px,#87508d 247px,#724893 251px,#503a9a 262px,#333299 284px,#213180 479px,#243184 524px)"></i>
<i style="background:linear-gradient(#fbac3c 16px,#faa63e 203px,#f68c45 228px,#e3745e 235px,#a75c84 241px,#8b528c 244px,#7b4c90 247px,#563c99 260px,#36329b 281px,#243184 400px,#1e317c 482px,#233182 524px)"></i>
<i style="background:linear-gradient(#fbac3c 16px,#faa63e 206px,#f79044 230px,#e27260 237px,#c26478 240px,#8d538b 244px,#7b4c90 247px,#36329b 284px,#213180 402px,#1c3179 506px,#223181 527px)"></i>
<i style="background:linear-gradient(#fbac3c 16px,#faa63e 210px,#f79044 232px,#e17260 240px,#ce696f 242px,#a15a86 245px,#8a518c 247px,#7d4d8f 249px,#37339b 285px,#1f317c 402px,#1c3178 506px,#223180 527px)"></i>
<i style="background:linear-gradient(#fbac3c 16px,#faa63e 210px,#f79044 231px,#dc6f64 241px,#8e538b 247px,#7b4c90 250px,#37339b 286px,#1e317b 386px,#1b3178 503px,#213180 527px)"></i>
<i style="background:linear-gradient(#fbac3c 16px,#faa63e 207px,#f79144 228px,#df7063 237px,#c06479 240px,#8c528b 244px,#7a4b90 247px,#37339b 287px,#1c3179 384px,#1b3177 500px,#21317f 527px)"></i>
<i style="background:linear-gradient(#fbac3c 16px,#faa63e 204px,#f79044 225px,#e4745e 232px,#d26b6c 234px,#91548a 239px,#724793 244px,#5f3f98 254px,#38339b 286px,#1c3178 380px,#1b3177 495px,#20317f 527px)"></i>
<i style="background:linear-gradient(#fbad3c 16px,#faa63e 200px,#f79044 222px,#e2735f 229px,#c06479 232px,#88518d 236px,#734892 239px,#644197 243px,#513a9a 253px,#38339b 284px,#1c3178 376px,#1b3177 489px,#20317e 527px)"></i>
<i style="background:linear-gradient(#fbad3c 16px,#faa63e 197px,#f89941 214px,#f68c45 220px,#e3735f 226px,#cf6a6f 228px,#b15f7f 230px,#88518d 233px,#6e4694 237px,#4d399a 247px,#3d349b 265px,#34329a 292px,#1c3178 374px,#1a3176 485px,#20317e 527px)"></i>
<i style="background:linear-gradient(#fbad3c 16px,#faa63e 193px,#f89841 211px,#f68b45 217px,#e27260 224px,#ce696f 226px,#91548a 230px,#734892 234px,#4e3a9a 244px,#38339b 259px,#333298 294px,#1c3178 377px,#1a3176 481px,#20317e 527px)"></i>
<i style="background:linear-gradient(#fbad3c 16px,#faa63e 187px,#f89941 206px,#f68c45 213px,#d86d68 222px,#c66675 224px,#88518d 229px,#764992 232px,#4e399a 244px,#37339b 258px,#313296 297px,#1c3178 377px,#1a3176 477px,#20317e 527px)"></i>
<i style="background:linear-gradient(#fbad3c 16px,#faa63e 181px,#f89941 201px,#f68b45 208px,#e3745e 214px,#a75c84 220px,#8e538b 223px,#7b4c90 227px,#4e3a9a 243px,#37339b 258px,#2e3291 310px,#1c3179 366px,#1a3176 471px,#20317e 527px)"></i>
<i style="background:linear-gradient(#fbad3c 16px,#faa63e 175px,#f89941 195px,#f68b45 202px,#dd6f64 209px,#be637a 212px,#91548a 216px,#7c4c90 220px,#4f3a9a 240px,#37339b 257px,#2c328f 316px,#1c3179 366px,#1a3176 467px,#20317e 527px)"></i>
<i style="background:linear-gradient(#fbad3c 16px,#faa63e 170px,#f89941 189px,#f68b45 196px,#dd6f64 203px,#be637a 206px,#92548a 210px,#7e4d8f 214px,#37339b 258px,#1c3178 376px,#1a3175 463px,#20317e 527px)"></i>
<i style="background:linear-gradient(#fbae3c 16px,#faa63e 165px,#f89842 184px,#f68c45 190px,#df7062 197px,#c06479 200px,#92558a 204px,#7f4d8f 208px,#37339b 258px,#283189 336px,#1c3179 373px,#193175 458px,#20317e 527px)"></i>
<i style="background:linear-gradient(#fbae3c 16px,#faa63e 162px,#f89842 179px,#f68c45 185px,#e3735f 192px,#d26b6c 194px,#9d5987 198px,#814e8e 202px,#5e3e99 232px,#37339b 257px,#283189 334px,#1c3179 368px,#193175 453px,#20317e 527px)"></i>
<i style="background:linear-gradient(#fbae3c 16px,#faa63e 160px,#f89842 175px,#f68d45 180px,#e2735f 187px,#c96773 190px,#a45b85 193px,#90548a 195px,#814e8e 198px,#5d3e99 232px,#37339b 255px,#283189 333px,#1c3178 366px,#193175 449px,#20317d 527px)"></i>
<i style="background:linear-gradient(#fbae3c 16px,#faa63e 158px,#f89841 173px,#f68e44 177px,#e27260 182px,#a65c84 187px,#8b528c 190px,#7f4d8f 193px,#5d3e99 231px,#37339b 255px,#283189 333px,#1c3179 369px,#193175 449px,#1f317d 527px)"></i>
<i style="background:linear-gradient(#fbae3c 16px,#faa63e 156px,#f89941 171px,#f78e44 175px,#e5765c 179px,#be637a 182px,#91548a 185px,#804e8f 188px,#573c99 232px,#37339b 254px,#1c3178 375px,#193175 451px,#1f317d 527px)"></i>
<i style="background:linear-gradient(#fbad3c 16px,#faa63e 156px,#f78f44 174px,#f2864b 176px,#df7062 179px,#c46577 181px,#975689 184px,#7f4d8f 188px,#37339b 251px,#283188 338px,#1c3178 378px,#193175 454px,#1f317c 527px)"></i>
<i style="background:linear-gradient(#fbad3c 16px,#faa63e 157px,#f89941 172px,#f68c45 177px,#e27260 182px,#c16479 185px,#90548b 189px,#7c4c90 193px,#38339b 247px,#273188 346px,#1c3178 380px,#1e317c 527px)"></i>
<i style="background:linear-gradient(#fbad3c 16px,#faa63e 159px,#f89842 175px,#f68c45 180px,#db6f65 187px,#90548b 193px,#784a91 197px,#533b9a 215px,#38339b 239px,#273188 350px,#1c3178 382px,#1e317c 527px)"></i>
<i style="background:linear-gradient(#fbad3c 16px,#faa63e 161px,#f89742 177px,#f68c45 181px,#dc6f65 187px,#b6607e 190px,#8d538b 193px,#754992 197px,#4e399a 212px,#38339b 231px,#283189 350px,#1c3178 383px,#1e317c 527px)"></i>
<i style="background:linear-gradient(#fbad3c 16px,#faa63e 162px,#f89941 176px,#f68e44 180px,#e2735f 184px,#975689 189px,#774a91 193px,#4e3a9a 207px,#38339b 225px,#283189 350px,#1c3178 383px,#1f317c 527px)"></i>
<i style="background:linear-gradient(#fbac3c 16px,#faa63e 161px,#f79144 179px,#ef834e 181px,#dc6f65 183px,#a75c84 186px,#8a528c 188px,#754992 191px,#4e3a9a 203px,#38339b 219px,#283189 350px,#1c3179 384px,#1a3176 471px,#1f317d 527px)"></i>
<i style="background:linear-gradient(#fbac3c 16px,#faa63e 162px,#f89941 176px,#f78f44 179px,#e2735f 182px,#ab5d82 185px,#8f538b 187px,#784a91 190px,#503a9a 199px,#38339b 215px,#283189 349px,#1c3179 391px,#1a3176 475px,#1f317d 527px)"></i>
<i style="background:linear-gradient(#fbac3c 16px,#faa63e 161px,#f89941 176px,#f78f44 179px,#e27260 182px,#af5e80 185px,#8b528c 188px,#6f4694 192px,#4f3a9a 199px,#38339b 213px,#283189 353px,#1c3179 398px,#1b3177 480px,#20317e 527px)"></i>
<i style="background:linear-gradient(#fbac3c 16px,#faa63e 160px,#f89a41 174px,#f68e44 178px,#e27260 181px,#b15f7f 184px,#8e538b 187px,#794b91 190px,#503a9a 200px,#38339b 214px,#273188 359px,#1c3179 406px,#1b3177 486px,#20317e 527px)"></i>
<i style="background:linear-gradient(#fbab3c 16px,#faa63e 158px,#f79143 176px,#f68b45 177px,#e77959 179px,#ba627c 182px,#93558a 185px,#7e4d8f 188px,#503a9a 201px,#38339b 215px,#273188 365px,#1c3179 415px,#1b3177 493px,#20317e 527px)"></i>
<i style="background:linear-gradient(#fbab3c 16px,#faa63e 156px,#f89941 171px,#f68b45 175px,#df7062 178px,#bf637a 180px,#965689 183px,#814e8e 186px,#4e399a 202px,#37339b 216px,#273188 371px,#1c3179 425px,#1c3178 512px,#20317e 527px)"></i>
<i style="background:linear-gradient(#fbab3d 16px,#faa63e 152px,#f89941 168px,#f68e44 172px,#e77859 175px,#af5e80 179px,#8e538b 182px,#7d4d8f 185px,#4e3a9a 202px,#38339b 217px,#273188 379px,#1c3179 435px,#1c3178 513px,#20317f 527px)"></i>
<i style="background:linear-gradient(#fbab3d 16px,#faa63e 150px,#f79044 169px,#e5765c 173px,#b25f7f 177px,#93558a 180px,#7d4c8f 184px,#503a9a 203px,#38339b 221px,#273188 387px,#1c3179 444px,#1c3178 513px,#20317f 527px)"></i>
<i style="background:linear-gradient(#fbab3d 16px,#faa63e 150px,#f89941 164px,#f68e44 168px,#df7062 172px,#b7617d 175px,#9a5888 178px,#804e8f 183px,#503a9a 207px,#38339b 224px,#273188 398px,#1c3179 452px,#1c3178 512px,#21317f 527px)"></i>
<i style="background:linear-gradient(#fbab3d 16px,#faa63e 147px,#f89a41 164px,#f78f44 169px,#e77959 172px,#b3607f 176px,#965689 179px,#814e8e 183px,#38339b 227px,#273188 407px,#1d317a 464px,#1c3178 512px,#213180 527px)"></i>
<i style="background:linear-gradient(#fbaa3d 16px,#faa63e 133px,#f89a41 162px,#f78f44 169px,#f0834d 171px,#e07161 173px,#b7617d 176px,#975789 179px,#814e8e 183px,#37339b 231px,#273188 417px,#1c3179 494px,#223180 527px)"></i>
<i style="background:linear-gradient(#fbaa3d 16px,#faa63e 127px,#f89842 151px,#f68c45 158px,#df7062 168px,#a05a86 176px,#814e8e 183px,#38339b 233px,#283189 423px,#1c3178 497px,#223181 527px)"></i>
<i style="background:linear-gradient(#fbaa3d 16px,#faa53e 120px,#f89941 139px,#f68d44 145px,#e17160 152px,#c06479 159px,#b15f7f 164px,#7d4d8f 185px,#38339b 238px,#273188 437px,#1c3179 498px,#223181 527px)"></i>
<i style="background:linear-gradient(#fbaa3d 16px,#faa63e 107px,#f89a41 132px,#f68b45 139px,#e27260 143px,#c16479 147px,#b05f80 151px,#975789 172px,#7c4c90 186px,#38339b 245px,#263187 469px,#1c3179 499px,#223181 527px)"></i>
<i style="background:linear-gradient(#fbaa3d 16px,#faa63e 100px,#f68d44 130px,#e27260 136px,#c46577 140px,#ab5d82 146px,#5e3e99 218px,#38339b 253px,#273188 468px,#1c3179 500px,#223181 527px)"></i>
<i style="background:linear-gradient(#fbaa3d 16px,#faa63e 97px,#f68d45 120px,#e3745e 127px,#c36577 132px,#ad5e81 138px,#5d3e99 223px,#3b349b 257px,#283189 463px,#1c3179 503px,#223181 527px)"></i>
<i style="background:linear-gradient(#fbaa3d 16px,#faa63e 96px,#f89842 110px,#f68b45 115px,#e5765c 120px,#bf637a 125px,#ac5d81 131px,#834f8e 189px,#5d3e99 229px,#37339b 274px,#29318b 457px,#1e317b 503px,#233182 527px)"></i>
<i style="background:linear-gradient(#fbaa3d 16px,#faa63e 96px,#f89742 110px,#f68b45 114px,#e5755c 118px,#bf637a 122px,#b15f7f 124px,#ab5d82 127px,#88518d 186px,#694395 218px,#4e399a 260px,#38339b 277px,#2a318c 449px,#20317e 503px,#243184 527px)"></i>
<i style="background:linear-gradient(#fbaa3d 16px,#faa63e 96px,#f89842 111px,#f68c45 115px,#e5765c 119px,#c26478 123px,#b05f80 126px,#ab5d82 129px,#694495 220px,#553c99 259px,#37339b 279px,#2b328e 442px,#233182 502px,#263187 527px)"></i>
<i style="background:linear-gradient(#fbaa3d 16px,#faa63e 98px,#f89841 113px,#f68d44 118px,#e6775b 123px,#c36578 128px,#ab5d82 137px,#8c528b 169px,#563c99 260px,#38339b 281px,#273188 527px)"></i>
<i style="background:linear-gradient(#fbaa3d 16px,#faa63e 101px,#f89742 119px,#f68c45 124px,#e2735f 131px,#bf637a 140px,#ab5d82 147px,#86508d 169px,#5d3e99 251px,#39339b 286px,#283189 527px)"></i>
<i style="background:linear-gradient(#fbaa3d 16px,#faa63e 104px,#f89642 121px,#f68b45 126px,#dd6f64 142px,#ce696f 146px,#a65c84 153px,#824e8e 169px,#5d3e99 253px,#39339b 297px,#29318a 527px)"></i>
<i style="background:linear-gradient(#fbaa3d 16px,#faa63e 101px,#f68d45 123px,#e2725f 136px,#ae5e81 149px,#814e8e 168px,#553c99 272px,#38339b 310px,#29318b 527px)"></i>
<i style="background:linear-gradient(#fbaa3d 16px,#faa63e 98px,#f68c45 120px,#df7062 132px,#ac5d81 140px,#814e8e 166px,#533b9a 286px,#38339b 318px,#2a318c 527px)"></i>
<i style="background:linear-gradient(#faaa3d 16px,#faa63e 95px,#f68b45 117px,#df7062 128px,#ac5d81 135px,#965689 143px,#89518c 152px,#764a91 188px,#533b9a 298px,#38339b 324px,#2b318d 527px)"></i>
<i style="background:linear-gradient(#faa93d 20px,#faa63e 93px,#f68b45 114px,#e2725f 124px,#af5e80 131px,#824f8e 150px,#553b99 303px,#39339b 329px,#2b328d 527px)"></i>
<i style="background:linear-gradient(#faa93d 20px,#faa63e 93px,#f68b45 113px,#e27260 124px,#bf637a 129px,#ad5e81 132px,#844f8d 148px,#804e8f 153px,#553c99 308px,#37339b 344px,#2c328e 524px)"></i>
<i style="background:linear-gradient(#faa93d 20px,#faa63e 93px,#f68b45 116px,#e17260 129px,#ae5e81 139px,#87508d 149px,#804e8e 154px,#553c99 314px,#38339b 353px,#2c328f 527px)"></i>
<i style="background:linear-gradient(#faa93d 20px,#faa63e 95px,#f0844d 131px,#e2735f 139px,#bf637a 144px,#90548a 150px,#814e8e 158px,#533b99 327px,#38339b 365px,#2d3290 527px)"></i>
<i style="background:linear-gradient(#faa93d 20px,#faa63e 98px,#f79343 137px,#f68b45 141px,#e27260 146px,#bc627b 150px,#955589 155px,#86508d 160px,#804e8e 166px,#543b99 336px,#38339b 382px,#2e3291 527px)"></i>
<i style="background:linear-gradient(#faa93d 20px,#faa63e 107px,#f89b41 137px,#f68c45 146px,#e17161 151px,#c36578 154px,#9b5888 159px,#86508d 166px,#804e8e 172px,#543b99 347px,#37339b 393px,#2e3292 527px)"></i>
<i style="background:linear-gradient(#faa93d 20px,#faa43e 130px,#f78f44 149px,#e5765c 154px,#bf637a 158px,#ac5e81 160px,#87508d 169px,#804e8f 175px,#513b9a 366px,#37339b 399px,#2f3293 527px)"></i>
<i style="background:linear-gradient(#faa93d 20px,#faa63e 132px,#f89842 148px,#f68b45 153px,#e17161 158px,#ad5e81 163px,#8a518c 170px,#804e8e 176px,#614098 294px,#543b99 375px,#37339b 404px,#303294 527px)"></i>
<i style="background:linear-gradient(#faaa3d 16px,#faa63e 135px,#f89941 150px,#f68e44 155px,#e27260 160px,#bf647a 163px,#aa5d82 165px,#89518c 172px,#804e8e 178px,#624097 291px,#543b99 381px,#37339b 405px,#303295 527px)"></i>
<i style="background:linear-gradient(#faaa3d 16px,#faa63e 138px,#f89841 153px,#f68e44 157px,#e5755c 161px,#c16479 164px,#ab5d82 166px,#8c528c 173px,#814e8e 180px,#543b99 375px,#37339b 405px,#313296 524px)"></i>
<i style="background:linear-gradient(#fbaa3d 16px,#faa63e 139px,#f89841 154px,#f68d44 158px,#e77859 161px,#c46577 164px,#a25a85 168px,#89518c 177px,#814e8e 184px,#553c99 367px,#37339b 402px,#323297 524px)"></i>
<i style="background:linear-gradient(#faaa3d 16px,#faa63e 131px,#f89a41 151px,#f68e44 157px,#e3745e 161px,#c16479 164px,#a55b84 168px,#814e8e 187px,#593d99 348px,#523b9a 366px,#37339b 394px,#333298 524px)"></i>
<i style="background:linear-gradient(#faa93d 12px,#faa63e 124px,#f89941 145px,#f68e44 152px,#e3735e 158px,#be637a 162px,#af5e80 164px,#8a518c 180px,#814e8e 187px,#5a3d99 345px,#533b99 360px,#38339b 385px,#333299 524px)"></i>
<i style="background:linear-gradient(#faa93d 12px,#faa63e 120px,#f68d44 144px,#e5765c 150px,#c06479 156px,#b05f80 159px,#814e8e 186px,#5b3e99 340px,#533b99 358px,#38339b 379px,#343299 524px)"></i>
<i style="background:linear-gradient(#faa93d 12px,#faa63e 117px,#f89841 133px,#f68c45 138px,#e4745e 143px,#c06479 148px,#b05f80 151px,#9f5987 159px,#814e8e 183px,#5d3e99 336px,#38339b 390px,#35329a 524px)"></i>
<i style="background:linear-gradient(#faa93d 12px,#faa63e 112px,#f89941 129px,#f68e44 134px,#e5765b 139px,#c06479 143px,#a95c83 147px,#8a518c 167px,#814e8e 179px,#5f3f99 333px,#39339b 406px,#35329b 524px)"></i>
<i style="background:linear-gradient(#faa83d 12px,#faa63e 106px,#f89941 125px,#f68c45 131px,#e17161 137px,#c46577 140px,#aa5d82 144px,#814e8e 170px,#634197 323px,#39339b 435px,#36329b 524px)"></i>
<i style="background:linear-gradient(#faa83d 12px,#faa63e 103px,#f68b45 127px,#e3735f 133px,#c16479 137px,#ad5e81 140px,#814e8e 167px,#553c99 385px,#38339b 460px,#37329b 527px)"></i>
<i style="background:linear-gradient(#faa83d 12px,#faa63e 102px,#f68d45 121px,#e07162 129px,#c16479 133px,#ae5e81 136px,#814e8e 164px,#523b9a 418px,#39339b 480px,#39339b 527px)"></i>
<i style="background:linear-gradient(#faa83d 12px,#faa63e 100px,#f89842 115px,#f68d45 119px,#e07162 125px,#bd637a 129px,#a95c83 133px,#814e8e 161px,#543b99 435px,#3e359b 491px,#42369a 527px)"></i>
<i style="background:linear-gradient(#faa83d 12px,#faa63e 99px,#f89941 113px,#f78e44 117px,#e6785a 121px,#c26478 125px,#aa5d82 129px,#814e8e 157px,#553c99 450px,#47379a 503px,#4c399a 527px)"></i>
<i style="background:linear-gradient(#faa73d 12px,#faa63e 98px,#f78f44 116px,#e5775b 120px,#bb627c 124px,#a95d82 127px,#814e8e 153px,#533b9a 490px,#543b99 527px)"></i>
<i style="background:linear-gradient(#faa73e 12px,#faa63e 98px,#f89941 112px,#f68e44 116px,#e07161 120px,#be637a 123px,#aa5d82 126px,#814e8e 151px,#563c99 527px)"></i>
<i style="background:linear-gradient(#faa73e 12px,#faa63e 98px,#f79143 115px,#f0844c 117px,#e17161 119px,#bc637b 122px,#aa5d82 125px,#814e8e 151px,#583c99 527px)"></i>
<i style="background:linear-gradient(#faa73e 12px,#faa63e 98px,#f79143 115px,#f1844c 117px,#e17161 119px,#bc627b 122px,#aa5d82 125px,#814e8e 152px,#5a3d99 527px)"></i>
<i style="background:linear-gradient(#faa73e 12px,#f9a23f 98px,#f89941 112px,#f68d44 116px,#e77859 119px,#c76675 122px,#ae5e81 126px,#834f8e 155px,#5b3e99 527px)"></i>
<i style="background:linear-gradient(#faa53e 12px,#f9a23f 70px,#f89842 109px,#f68e44 116px,#df7063 123px,#c26479 137px,#975689 159px,#844f8e 186px,#5d3e99 527px)"></i>
<i style="background:linear-gradient(#f99f40 16px,#f99d40 62px,#f68b45 113px,#e6775a 130px,#d26b6c 156px,#c16479 167px,#9e5987 179px,#8f538b 189px,#814e8e 217px,#7b4b90 322px,#5e3f99 527px)"></i>
<i style="background:linear-gradient(#f89941 16px,#f89742 57px,#f68b45 100px,#e17161 164px,#d96e67 169px,#c06479 176px,#a65b84 185px,#965689 206px,#814e8e 219px,#7d4d8f 322px,#603f98 527px)"></i>
<i style="background:linear-gradient(#f79343 16px,#f68b45 88px,#e27260 165px,#c0647a 184px,#ae5e81 202px,#88518c 216px,#834f8e 223px,#804e8f 322px,#614098 527px)"></i>
<i style="background:linear-gradient(#f79044 16px,#f68b45 76px,#e17161 174px,#ce696f 200px,#a05986 213px,#955689 218px,#86508d 247px,#88518c 293px,#634197 527px)"></i>
<i style="background:linear-gradient(#f78e44 16px,#ed8051 145px,#e27260 199px,#d86d68 205px,#a95c83 219px,#94558a 249px,#684396 470px,#644197 527px)"></i>
<i style="background:linear-gradient(#f68d44 16px,#f0844d 141px,#e87958 196px,#e17161 209px,#c16479 227px,#a75c83 246px,#9b5888 262px,#6c4594 455px,#664296 527px)"></i>
<i style="background:linear-gradient(#f78e44 16px,#ed8050 194px,#d86e67 235px,#ab5d82 254px,#a25a85 264px,#6f4693 446px,#674396 527px)"></i>
<i style="background:linear-gradient(#f79044 12px,#f68b45 147px,#ee814f 219px,#e3745e 240px,#b25f7f 257px,#a55b84 276px,#724793 439px,#694395 527px)"></i>
<i style="background:linear-gradient(#f79243 12px,#f68b45 223px,#eb7e53 237px,#c16479 255px,#af5e80 270px,#9b5888 308px,#724793 440px,#6a4495 527px)"></i>
<i style="background:linear-gradient(#f89642 12px,#f89c41 58px,#f79542 220px,#f78f44 232px,#de7063 243px,#c26479 259px,#945589 322px,#714793 446px,#6c4595 527px)"></i>
<i style="background:linear-gradient(#f89c41 12px,#f9a23f 49px,#f99f40 146px,#f79243 232px,#f58a46 235px,#de7063 242px,#c46577 256px,#90548a 325px,#714793 448px,#6d4594 527px)"></i>
<i style="background:linear-gradient(#f99f40 12px,#faa63e 31px,#faa53e 144px,#f58947 224px,#ee8150 233px,#dc6f64 239px,#c16479 251px,#8c528c 329px,#724893 441px,#6f4694 527px)"></i>
<i style="background:linear-gradient(#f99f40 12px,#faa73d 23px,#faa83d 133px,#f68b45 198px,#e87a57 211px,#de7064 228px,#ba627c 245px,#a45b85 292px,#87508d 332px,#744992 432px,#704793 527px)"></i>
<i style="background:linear-gradient(#f9a040 12px,#faa83d 23px,#faa93d 125px,#f68c45 178px,#e17161 201px,#d06a6e 220px,#b3607f 237px,#a35b85 287px,#834f8e 333px,#724793 523px)"></i>
<i style="background:linear-gradient(#f9a03f 12px,#faa83d 23px,#faa93d 121px,#f68b45 161px,#e07162 191px,#cc6871 217px,#b15f7f 235px,#a05a86 288px,#824e8e 335px,#734892 523px)"></i>
<i style="background:linear-gradient(#f9a03f 12px,#faa83d 23px,#faa93d 119px,#f68c45 147px,#e17161 178px,#bb627b 232px,#824e8e 339px,#754992 523px)"></i>
<i style="background:linear-gradient(#f9a03f 12px,#faa83d 23px,#faaa3d 116px,#f68c45 142px,#e17161 163px,#c16479 228px,#af5e80 252px,#844f8e 346px,#764991 523px)"></i>
<i style="background:linear-gradient(#f9a03f 12px,#faa83d 23px,#fbaa3d 114px,#f89542 135px,#df7063 161px,#c16479 234px,#b25f7f 253px,#8b528c 342px,#7d4d8f 410px,#784a91 527px)"></i>
<i style="background:linear-gradient(#f9a03f 12px,#faa93d 23px,#fbaa3d 115px,#f79443 138px,#df7063 161px,#c76675 229px,#b35f7f 264px,#834f8e 383px,#794b90 527px)"></i>
<i style="background:linear-gradient(#f9a13f 12px,#faa93d 23px,#fbab3d 117px,#f89642 141px,#e6785a 156px,#e17161 164px,#cd6970 225px,#9f5987 318px,#834f8e 395px,#7b4c90 527px)"></i>
<i style="background:linear-gradient(#f9a13f 12px,#faa93d 23px,#fbab3c 120px,#f89a41 140px,#ea7c55 157px,#e17161 185px,#a75c83 313px,#834f8e 407px,#7c4c90 527px)"></i>
<i style="background:linear-gradient(#f9a13f 12px,#faa93d 23px,#fbac3c 121px,#f89b41 140px,#ed8051 160px,#e17161 200px,#bd637b 290px,#ae5e81 312px,#86508d 416px,#7e4d8f 527px)"></i>
<i style="background:linear-gradient(#faa63e 16px,#fbac3c 124px,#f68b45 152px,#e17161 215px,#c46577 292px,#b25f7f 319px,#824f8e 449px,#7f4d8f 527px)"></i>
<i style="background:linear-gradient(#faa63e 16px,#fbac3c 126px,#f68c45 156px,#e17161 231px,#cc6871 292px,#b8617c 321px,#85508d 459px,#814e8e 527px)"></i>
<i style="background:linear-gradient(#faa63e 16px,#fbad3c 128px,#f68e44 158px,#f38749 183px,#d66c69 272px,#d46c6b 292px,#c0647a 321px,#85508d 481px,#834f8e 527px)"></i>
<i style="background:linear-gradient(#faa63e 16px,#fbad3c 129px,#f89642 154px,#f68b45 189px,#dd6f64 271px,#dd6f64 291px,#c16479 333px,#89518c 488px,#87508d 527px)"></i>
<i style="background:linear-gradient(#faa73e 16px,#fbae3c 131px,#f89c41 157px,#f38749 226px,#e3745e 271px,#e27260 292px,#cd6970 319px,#c16479 348px,#a75c83 435px,#8d538b 493px,#8a528c 527px)"></i>
<i style="background:linear-gradient(#faa73e 16px,#fbae3c 133px,#f68b45 235px,#e6775b 290px,#d16a6d 321px,#c16479 362px,#ad5e81 442px,#92548a 494px,#8e538b 527px)"></i>
<i style="background:linear-gradient(#faa73e 16px,#fbae3c 139px,#f68b45 253px,#db6f65 313px,#c16479 374px,#b05f80 451px,#975789 490px,#92558a 527px)"></i>
<i style="background:linear-gradient(#faa73e 16px,#fbb03d 78px,#fbac3c 173px,#f89a41 243px,#f68b45 264px,#e17161 312px,#c26578 381px,#b3607e 453px,#9d5887 488px,#965689 527px)"></i>
<i style="background:linear-gradient(#faa73e 16px,#fbb03d 80px,#fbad3c 185px,#f9a03f 244px,#f68b45 271px,#e17161 318px,#c66675 379px,#b8617d 449px,#a15a86 488px,#995788 527px)"></i>
<i style="background:linear-gradient(#faa73d 16px,#fbb03d 84px,#fbab3d 223px,#faa43e 249px,#f68c45 277px,#e17161 324px,#cb6872 374px,#bc627b 446px,#a55b84 491px,#9c5887 527px)"></i>
<i style="background:linear-gradient(#faa73d 16px,#fbb13d 92px,#fbaa3d 243px,#f68c45 280px,#e2735f 328px,#e17161 342px,#cf6a6e 370px,#c06479 442px,#9f5986 527px)"></i>
<i style="background:linear-gradient(#faa83d 16px,#fab13d 96px,#fbaa3d 249px,#f68b45 281px,#e5765c 338px,#d46c6a 364px,#c36577 440px,#a25a85 527px)"></i>
<i style="background:linear-gradient(#faa83d 16px,#fab13d 97px,#fbaa3d 250px,#f68b45 288px,#e87a58 335px,#db6e66 355px,#c76675 437px,#a55b84 527px)"></i>
<i style="background:linear-gradient(#faa83d 16px,#fab13d 98px,#fbaa3d 251px,#f89542 276px,#f68b45 302px,#e07162 354px,#a75c83 531px)"></i>
<i style="background:linear-gradient(#faa83d 16px,#fab23d 101px,#faa93d 254px,#f68b45 312px,#dd6f64 372px,#bb627b 496px,#aa5d82 531px)"></i>
<i style="background:linear-gradient(#faa83d 16px,#fab23d 103px,#faa93d 257px,#f68b45 321px,#dc6f64 382px,#c16479 492px,#ae5e81 531px)"></i>
<i style="background:linear-gradient(#faa73d 16px,#fab23d 106px,#faa93d 266px,#f99f40 298px,#f68b45 328px,#dc6f65 390px,#c56676 489px,#b25f7f 531px)"></i>
<i style="background:linear-gradient(#faa73d 16px,#fab23d 109px,#faa83d 279px,#faa53e 298px,#f68b45 343px,#de7063 391px,#ca6872 485px,#b8617d 527px)"></i>
<i style="background:linear-gradient(#faa73e 16px,#fab13d 111px,#faa73e 300px,#f68c45 357px,#e3735f 390px,#d06a6e 481px,#bd637b 527px)"></i>
<i style="background:linear-gradient(#faa73e 16px,#fab13d 112px,#faa73e 308px,#f68c45 359px,#e77859 388px,#d46c6b 478px,#c16479 527px)"></i>
<i style="background:linear-gradient(#faa73e 16px,#fab13d 115px,#faa73e 319px,#faa33f 332px,#f68b45 359px,#ec7e53 382px,#d86d68 478px,#c46577 527px)"></i>
<i style="background:linear-gradient(#faa73e 16px,#fab13d 117px,#faa73e 327px,#f38749 368px,#db6e66 485px,#c76774 527px)"></i>
<i style="background:linear-gradient(#faa73e 16px,#fbb13d 120px,#faa73e 326px,#f68e44 354px,#de7063 486px,#cb6871 523px)"></i>
<i style="background:linear-gradient(#faa63e 16px,#fbb03d 124px,#faa73e 327px,#f79443 350px,#f68b45 385px,#e17161 486px,#cd6970 523px)"></i>
<i style="background:linear-gradient(#faa63e 16px,#fbb03d 128px,#faa73e 329px,#f68b45 399px,#e17161 489px,#cf6a6f 523px)"></i>
<i style="background:linear-gradient(#faa63e 16px,#fbaf3d 132px,#faa73e 333px,#f89c41 376px,#f68b45 407px,#e3745e 466px,#cf6a6e 523px)"></i>
<i style="background:linear-gradient(#faa63e 16px,#fbaf3d 137px,#faa53e 365px,#f68b45 415px,#e17161 467px,#d06a6e 523px)"></i>
<i style="background:linear-gradient(#faa63e 16px,#fbae3c 135px,#faa63e 375px,#f68b45 420px,#e17161 465px,#d06a6e 523px)"></i>
<i style="background:linear-gradient(#faa53e 16px,#fbae3c 130px,#faa63e 374px,#f68b45 422px,#e17161 463px,#cf6a6e 523px)"></i>
<i style="background:linear-gradient(#faa53e 16px,#fbad3c 125px,#faa63e 372px,#f89642 392px,#f68b45 421px,#e17161 463px,#cf6a6e 523px)"></i>
<i style="background:linear-gradient(#faa53e 16px,#fbad3c 120px,#faa63e 356px,#f68b45 418px,#e17161 463px,#ce696f 527px)"></i>
<i style="background:linear-gradient(#faa53e 16px,#fbac3c 115px,#faa63e 343px,#f58a46 414px,#e17161 463px,#ce696f 527px)"></i>
<i style="background:linear-gradient(#faa53e 16px,#fbac3c 113px,#faa73e 295px,#f9a03f 320px,#faa53e 337px,#f68b45 399px,#e07161 462px,#ce696f 527px)"></i>
<i style="background:linear-gradient(#faa43e 16px,#fbab3c 105px,#faa73e 291px,#f89941 317px,#f99f40 337px,#f68b45 394px,#de7063 464px,#cd6970 527px)"></i>
<i style="background:linear-gradient(#faa43e 16px,#fbab3d 100px,#faa73e 285px,#f79443 317px,#f89941 337px,#f68b45 389px,#de7063 462px,#cd6970 527px)"></i>
<i style="background:linear-gradient(#faa43e 16px,#fbaa3d 94px,#faa73e 282px,#f79343 311px,#f79542 337px,#f48848 391px,#e17161 452px,#ce6970 527px)"></i>
<i style="background:linear-gradient(#faa43e 16px,#fbaa3d 87px,#faa73e 281px,#f79243 308px,#f2864a 394px,#dd6f64 455px,#ce696f 527px)"></i>
<i style="background:linear-gradient(#faa43e 16px,#faa73e 281px,#f79143 310px,#f1844c 395px,#df7063 453px,#cf6a6f 527px)"></i>
<i style="background:linear-gradient(#f99f40 12px,#faa73e 21px,#faa93d 70px,#faa73e 283px,#f79343 310px,#f68b45 361px,#e17161 452px,#d06a6e 527px)"></i>
<i style="background:linear-gradient(#f99f40 12px,#faa73e 21px,#faa83d 65px,#faa63e 286px,#f79243 320px,#f68b45 363px,#e17161 456px,#d16a6d 527px)"></i>
<i style="background:linear-gradient(#f99f40 12px,#faa73e 21px,#faa83d 59px,#faa63e 290px,#f79243 321px,#f89642 338px,#f68b45 365px,#e17161 458px,#d16b6d 527px)"></i>
<i style="background:linear-gradient(#f99f40 12px,#faa73e 21px,#faa83d 54px,#faa63e 296px,#f79343 322px,#f89742 338px,#e17161 460px,#d36b6c 524px)"></i>
<i style="background:linear-gradient(#f99f40 12px,#faa73e 21px,#faa83d 48px,#faa63e 300px,#f79542 322px,#f89742 336px,#f68b45 366px,#e17161 462px,#d46c6b 520px)"></i>
<i style="background:linear-gradient(#f99f40 12px,#faa63e 20px,#faa73e 42px,#faa63e 302px,#f89941 321px,#ee8150 400px,#d56c6a 520px)"></i>
<i style="background:linear-gradient(#f99f40 12px,#faa73e 28px,#faa63e 294px,#f1854c 387px,#d66d69 515px)"></i>
<i style="background:linear-gradient(#f99f40 12px,#faa73e 26px,#faa53e 292px,#f68b45 362px,#d76d68 515px)"></i>
<i style="background:linear-gradient(#f9a13f 16px,#faa73e 34px,#faa63e 215px,#f89a41 277px,#f9a13f 293px,#f79443 311px,#f68b45 359px,#d86e67 510px)"></i>
<i style="background:linear-gradient(#f89b41 16px,#faa63e 49px,#f9a23f 215px,#f79542 277px,#f89c41 294px,#f79243 310px,#f68b45 357px,#da6e67 505px)"></i>
<i style="background:linear-gradient(#f89642 16px,#f9a23f 48px,#f89c41 214px,#f79343 252px,#f89742 297px,#f68b45 354px,#da6e66 505px)"></i>
<i style="background:linear-gradient(#f79343 16px,#f89c41 49px,#f79343 301px,#f48947 361px,#db6f65 499px)"></i>
<i style="background:linear-gradient(#f79243 16px,#f79243 302px,#f68b45 339px,#dc6f65 493px)"></i>
<i style="background:linear-gradient(#f79243 16px,#f68b45 333px,#dd6f64 487px)"></i>
<i style="background:linear-gradient(#f79143 16px,#f68b45 329px,#de7063 481px)"></i>
<i style="width:2px;background:linear-gradient(#f79143 16px,#f68b45 327px,#df7062 475px)"></i>
</div><div class="f" style="left:118px;top:1276px;width:1317px;height:549px">
<i style="background:linear-gradient(#f8c242 15px,#f9bd40 137px,#faa53e 150px,#f79143 154px,#e07162 159px,#9c5888 166px,#764991 171px,#4a389a 180px,#35329b 205px,#2e3291 216px,#163070 313px,#0f3067 459px,#12306b 512px)"></i>
<i style="background:linear-gradient(#f8c242 15px,#f9bd40 138px,#faa83d 151px,#f79443 156px,#dd6f64 162px,#9e5987 169px,#7b4b90 174px,#47379a 184px,#35329b 206px,#2e3291 216px,#173172 310px,#13306c 515px)"></i>
<i style="background:linear-gradient(#f8c342 15px,#f9bd40 140px,#faa53e 154px,#f68e44 159px,#dc6f65 165px,#9c5887 172px,#754992 177px,#48389a 185px,#35329b 206px,#2e3291 216px,#193174 309px,#113069 506px,#15306f 518px)"></i>
<i style="background:linear-gradient(#f8c342 15px,#f9bd40 138px,#faa83d 151px,#f79443 156px,#de7063 162px,#a25a85 169px,#7d4d8f 174px,#48389a 184px,#35329b 205px,#2e3292 215px,#1d317a 287px,#183173 332px,#13306c 509px,#15306f 517px,#20317f 521px)"></i>
<i style="background:linear-gradient(#f8c342 15px,#f9bd40 136px,#faa73e 149px,#f79044 154px,#df7062 159px,#9b5888 166px,#764991 171px,#49389a 181px,#35329b 205px,#2e3291 215px,#1b3177 307px,#193175 484px,#15306f 508px,#1a3176 516px,#2e3292 525px)"></i>
<i style="background:linear-gradient(#f8c342 15px,#f9bd40 135px,#faa73e 148px,#f89742 152px,#e4755d 157px,#a15a86 164px,#724793 170px,#4b399a 179px,#35329b 204px,#2e3291 215px,#1d317b 293px,#193175 374px,#1a3176 508px,#2f3292 525px)"></i>
<i style="background:linear-gradient(#f8c342 15px,#f9bd40 132px,#faa63e 147px,#f79044 153px,#dc6f65 159px,#a25a85 165px,#724793 171px,#4a389a 180px,#35329b 204px,#2e3292 214px,#1e317c 291px,#1a3175 370px,#1f317c 505px,#2f3292 525px)"></i>
<i style="background:linear-gradient(#f8c342 15px,#f9bd40 130px,#faa53e 144px,#f68d44 149px,#de7063 155px,#9f5987 164px,#744892 170px,#4b399a 180px,#35329b 204px,#2e3292 214px,#1f317d 290px,#1a3176 369px,#21317f 501px,#2f3292 525px)"></i>
<i style="background:linear-gradient(#f8c342 15px,#f9bd40 128px,#faa73e 141px,#f79044 146px,#de7063 151px,#a85c83 157px,#86508d 162px,#6b4495 169px,#45379a 183px,#35329b 204px,#2e3291 214px,#20317e 290px,#1b3177 369px,#223180 496px,#2f3292 525px)"></i>
<i style="background:linear-gradient(#f8c342 15px,#f9bd40 128px,#faa53e 141px,#f79143 145px,#e27260 150px,#be637a 155px,#8e538b 162px,#714793 169px,#45379a 184px,#35329b 203px,#2e3292 213px,#20317f 290px,#1c3178 371px,#223182 493px,#2f3292 525px)"></i>
<i style="background:linear-gradient(#f8c342 15px,#f9bd40 129px,#faa63e 143px,#f68b45 150px,#dd7064 157px,#a55b84 166px,#49389a 184px,#35329b 204px,#2e3292 213px,#21317f 290px,#1c3179 375px,#233183 491px,#2f3293 525px)"></i>
<i style="background:linear-gradient(#f8c342 15px,#f9bd40 132px,#faa33f 150px,#f68c45 157px,#e17161 163px,#9c5888 172px,#754992 177px,#48389a 185px,#36329b 203px,#2e3292 213px,#213180 292px,#1d317a 381px,#243183 489px,#2f3293 525px)"></i>
<i style="background:linear-gradient(#f8c342 15px,#f9bd40 136px,#faa43e 151px,#f78f44 156px,#dc6f65 162px,#9e5987 169px,#754992 175px,#4b399a 184px,#35329b 203px,#2e3292 212px,#213180 294px,#1e317b 387px,#243184 488px,#2f3293 525px)"></i>
<i style="background:linear-gradient(#f8c342 15px,#f9bd40 135px,#faa53e 149px,#f79143 153px,#e17161 158px,#a15a86 165px,#7b4c90 170px,#694495 174px,#45379a 186px,#35329b 203px,#2e3292 212px,#21317f 308px,#1e317c 392px,#253185 487px,#2f3293 525px)"></i>
<i style="background:linear-gradient(#f8c342 15px,#f9bd40 135px,#faa73e 149px,#f79044 154px,#df7062 159px,#a45b85 165px,#7a4b90 170px,#674296 174px,#46379a 186px,#35329b 203px,#2e3292 212px,#21317f 311px,#1f317d 397px,#253185 486px,#2f3293 525px)"></i>
<i style="background:linear-gradient(#f8c342 15px,#f9bd40 133px,#faa73e 150px,#f79243 155px,#e07062 160px,#b9627c 164px,#804e8f 170px,#694495 174px,#45379a 187px,#35329b 203px,#2e3292 211px,#21317f 313px,#20317e 403px,#263186 486px,#2f3293 525px)"></i>
<i style="background:linear-gradient(#f8c342 15px,#f9be40 126px,#faa73e 147px,#f79044 153px,#e17161 158px,#a85c83 164px,#7b4c90 169px,#674396 173px,#46379a 187px,#35329b 203px,#2e3292 211px,#213180 313px,#20317f 408px,#263186 485px,#2f3293 525px)"></i>
<i style="background:linear-gradient(#f8c342 15px,#f9be40 120px,#faa73e 138px,#f68d45 148px,#e2735f 154px,#9d5987 162px,#784a91 167px,#674396 171px,#45379a 188px,#35329b 203px,#2e3292 211px,#223181 310px,#213180 415px,#2f3293 525px)"></i>
<i style="background:linear-gradient(#f8c342 15px,#f9be41 116px,#faa73e 132px,#f68e44 139px,#df7063 146px,#c26479 152px,#7a4b90 163px,#664296 168px,#36329b 203px,#2e3292 212px,#233182 306px,#223181 420px,#2f3293 525px)"></i>
<i style="background:linear-gradient(#f8c442 15px,#f9bf41 114px,#faa63e 129px,#f68e44 134px,#e27260 139px,#a55b84 147px,#86508d 153px,#6a4495 162px,#36329b 204px,#2e3292 213px,#243183 302px,#223182 426px,#2f3293 525px)"></i>
<i style="background:linear-gradient(#f8c442 15px,#f9c041 112px,#fab73f 120px,#f89841 131px,#f58a46 133px,#de7063 137px,#a65b84 143px,#814e8e 148px,#6d4594 153px,#5b3d99 165px,#35329b 206px,#2e3292 215px,#243184 297px,#233182 432px,#2f3293 525px)"></i>
<i style="background:linear-gradient(#f8c442 15px,#f8c041 113px,#faa83d 128px,#f79243 133px,#e3745e 138px,#a55b84 146px,#814e8e 152px,#694495 159px,#513a9a 172px,#35329b 207px,#2e3292 216px,#253185 293px,#243183 438px,#2f3293 525px)"></i>
<i style="background:linear-gradient(#f8c442 20px,#f8c241 115px,#fbb03d 130px,#f79044 138px,#e27260 144px,#a15a86 154px,#754992 161px,#4d399a 171px,#35329b 208px,#2e3292 217px,#263187 290px,#253184 442px,#2f3293 525px)"></i>
<i style="background:linear-gradient(#f8c442 20px,#f7c843 128px,#f9bd40 136px,#fbab3d 140px,#f78f44 145px,#de7063 151px,#9c5887 158px,#744892 163px,#4a389a 172px,#35329b 208px,#2f3292 218px,#273187 297px,#253185 447px,#2f3293 525px)"></i>
<i style="background:linear-gradient(#f8c442 20px,#f8c542 99px,#f7cd44 133px,#f8c542 140px,#fbad3c 144px,#f48947 148px,#dc6f65 152px,#bf637a 155px,#7c4c90 162px,#49389a 173px,#35329b 209px,#2f3292 219px,#273188 296px,#263186 452px,#2f3293 525px)"></i>
<i style="background:linear-gradient(#f8c442 20px,#f8c542 101px,#f7cd44 129px,#f8c342 138px,#faa63e 143px,#f78f44 146px,#e3735f 150px,#9f5987 157px,#714793 163px,#4b399a 173px,#35329b 209px,#2f3293 220px,#283189 296px,#273187 458px,#2f3293 525px)"></i>
<i style="background:linear-gradient(#f8c442 20px,#f8c342 126px,#fab33e 133px,#f68e44 140px,#dd6f64 147px,#9a5888 155px,#704693 161px,#4f3a9a 172px,#45379a 178px,#35329b 209px,#2f3293 221px,#29318a 295px,#273188 466px,#2f3293 525px)"></i>
<i style="background:linear-gradient(#f8c442 20px,#f8c241 112px,#fbab3d 127px,#f79044 133px,#e17161 139px,#bf637a 144px,#7d4c8f 155px,#604098 163px,#46379a 178px,#35329b 210px,#2f3293 222px,#29318b 294px,#283189 470px,#303293 525px)"></i>
<i style="background:linear-gradient(#f8c442 20px,#f8c041 110px,#faa73e 125px,#f89742 129px,#f58947 131px,#e07162 135px,#a35b85 142px,#7c4c90 148px,#674296 155px,#46379a 178px,#35329b 211px,#2f3293 224px,#29318a 476px,#303294 525px)"></i>
<i style="background:linear-gradient(#f8c342 20px,#f9c041 111px,#faa73d 126px,#f79243 131px,#e17160 136px,#a15a86 143px,#7a4b90 149px,#624097 156px,#46379a 179px,#35329b 212px,#2f3293 225px,#2a318b 482px,#303294 525px)"></i>
<i style="background:linear-gradient(#f8c342 20px,#f9bf41 114px,#faa63e 129px,#f79143 134px,#e07161 140px,#9d5887 148px,#764991 153px,#603f98 159px,#46379a 179px,#323296 222px,#2c328e 291px,#2a318c 487px,#303294 525px)"></i>
<i style="background:linear-gradient(#f8c342 23px,#f9be40 117px,#faa73e 132px,#f79443 137px,#e3735e 142px,#9f5987 149px,#754992 154px,#573c99 162px,#45379a 181px,#38339b 211px,#2c328f 291px,#2b328d 494px,#303294 525px)"></i>
<i style="background:linear-gradient(#f8c342 23px,#f9bd40 120px,#faa63e 133px,#f68b45 138px,#e07162 142px,#9a5888 149px,#794b91 153px,#533b99 160px,#48389a 166px,#35329b 233px,#2e3291 273px,#2c328e 499px,#303295 525px)"></i>
<i style="background:linear-gradient(#f8c342 23px,#f9be40 118px,#faa53e 132px,#f79243 136px,#df7063 141px,#a35a85 147px,#714793 153px,#4a389a 160px,#45379a 163px,#47379a 182px,#35329b 249px,#2e3291 286px,#2d3290 505px,#313295 525px)"></i>
<i style="background:linear-gradient(#f8c342 23px,#f9bd40 118px,#faa53e 132px,#f79243 136px,#df7063 141px,#995788 148px,#784a91 152px,#503a9a 160px,#47379a 166px,#313295 286px,#313295 525px)"></i>
<i style="background:linear-gradient(#f8c342 23px,#f9bd40 120px,#faa73e 133px,#f79044 138px,#df7063 143px,#bb627b 147px,#975689 151px,#794b91 156px,#573c99 166px,#4e399a 173px,#36329b 284px,#323296 525px)"></i>
<i style="background:linear-gradient(#f8c342 23px,#f9bd40 122px,#faa53e 136px,#f79044 141px,#e17161 147px,#ac5d81 154px,#834f8e 160px,#694495 166px,#573c99 175px,#49389a 197px,#36329b 378px,#34329a 525px)"></i>
<i style="background:linear-gradient(#f8c342 23px,#f9bd40 124px,#faa73e 140px,#f68e44 147px,#e17161 153px,#a25a85 161px,#7f4d8f 166px,#694495 171px,#5a3d99 179px,#4c399a 200px,#3a339b 380px,#39339b 525px)"></i>
<i style="background:linear-gradient(#f8c342 23px,#f9bd40 129px,#faa73e 146px,#f68d45 153px,#e27260 158px,#b9617c 163px,#844f8d 169px,#684396 174px,#5b3d99 181px,#4f3a9a 201px,#3d349b 392px,#3e359b 525px)"></i>
<i style="background:linear-gradient(#f8c342 20px,#f9bd40 135px,#faa73e 151px,#f79343 156px,#e2735f 161px,#be637a 165px,#834f8e 171px,#6b4495 175px,#5c3e99 182px,#523b9a 201px,#3c349b 470px,#43369a 525px)"></i>
<i style="background:linear-gradient(#f8c342 20px,#f9bd40 139px,#faa73e 153px,#f89642 157px,#e3735e 162px,#be637a 166px,#834f8e 172px,#6b4495 176px,#5d3e99 182px,#543b99 200px,#40359a 471px,#47379a 525px)"></i>
<i style="background:linear-gradient(#f8c342 20px,#f9bd40 139px,#faa83d 152px,#f89941 156px,#f58a46 158px,#df7062 162px,#a35b85 168px,#7f4d8f 172px,#6d4594 175px,#5e3f99 181px,#573c99 195px,#4c399a 266px,#43369a 471px,#47389a 525px)"></i>
<i style="background:linear-gradient(#f8c342 20px,#f9bd40 139px,#faa83d 151px,#f89941 155px,#f68b46 157px,#df7062 161px,#a35b85 167px,#724893 173px,#603f98 179px,#5b3d99 187px,#4e399a 266px,#48389a 525px)"></i>
<i style="background:linear-gradient(#f8c342 20px,#f9bd40 138px,#faa73e 151px,#f89742 155px,#f48848 157px,#dc6f65 161px,#9f5986 167px,#754992 172px,#634197 177px,#5e3e99 182px,#4f3a9a 263px,#48389a 525px)"></i>
<i style="background:linear-gradient(#f8c342 20px,#f9bd40 138px,#f99c40 154px,#f48848 157px,#e4745e 160px,#a05a86 167px,#754992 173px,#674396 180px,#5f3f98 197px,#513a9a 260px,#49389a 525px)"></i>
<i style="background:linear-gradient(#f8c342 20px,#f9bd40 139px,#faa83d 152px,#f89a41 156px,#f68c45 158px,#db6e66 163px,#c16479 166px,#ab5d82 169px,#9a5888 173px,#854f8d 182px,#5d3e99 210px,#533b9a 256px,#49389a 525px)"></i>
<i style="background:linear-gradient(#f8c342 20px,#f9bd40 141px,#faa93d 154px,#f89842 159px,#e07161 169px,#c16479 181px,#a85c83 192px,#6b4495 205px,#5d3e99 214px,#543b99 252px,#4a389a 525px)"></i>
<i style="background:linear-gradient(#f8c342 15px,#f9bd40 144px,#fbac3c 156px,#f68b45 176px,#df7063 192px,#a35b85 200px,#734892 207px,#624097 212px,#5d3e99 217px,#563c99 248px,#4a389a 525px)"></i>
<i style="background:linear-gradient(#f8c342 15px,#f9bd40 148px,#f9a03f 185px,#f79143 191px,#df7063 197px,#a55b84 203px,#734892 209px,#644197 213px,#5e3e99 218px,#4a389a 525px)"></i>
<i style="background:linear-gradient(#f8c342 15px,#f9bc40 156px,#fab23d 179px,#f99d40 191px,#f48848 194px,#e4745e 197px,#bf647a 201px,#754992 209px,#634197 214px,#5e3e99 219px,#4b399a 525px)"></i>
<i style="background:linear-gradient(#f8c342 15px,#f9bc40 174px,#fab53e 181px,#f89b41 191px,#f68d44 193px,#e27260 197px,#a75c83 203px,#744892 209px,#644197 213px,#5e3e99 218px,#4b399a 525px)"></i>
<i style="background:linear-gradient(#f8c342 15px,#f9bd40 172px,#fab73f 178px,#f99d40 189px,#f58947 192px,#e4755c 195px,#a15a86 202px,#714793 208px,#5f3f99 216px,#4c399a 525px)"></i>
<i style="background:linear-gradient(#f8c242 15px,#f9bd40 172px,#fab63e 178px,#f99c40 188px,#f38849 191px,#e3745e 194px,#9f5987 201px,#744892 207px,#674396 212px,#634197 220px,#523b9a 382px,#4c399a 525px)"></i>
<i style="background:linear-gradient(#f8c242 15px,#f9bd40 172px,#fab73f 178px,#f99f40 188px,#f68b45 191px,#e17161 195px,#bb627c 200px,#8f538b 208px,#754992 227px,#573c99 338px,#4d399a 525px)"></i>
<i style="background:linear-gradient(#f8c242 15px,#f9bd40 173px,#faa53e 188px,#f48948 195px,#e17161 202px,#c76675 209px,#a65c84 227px,#91548a 263px,#5f3f98 298px,#533b9a 381px,#4d399a 525px)"></i>
<i style="background:linear-gradient(#f8c242 20px,#f9bd40 176px,#f89c41 200px,#f38749 208px,#e17161 227px,#d66c69 251px,#c26479 272px,#a95c83 283px,#6d4594 294px,#5f3f99 301px,#4d399a 525px)"></i>
<i style="background:linear-gradient(#f8c242 20px,#f9bc40 181px,#fbac3c 200px,#f68b45 246px,#d86d67 278px,#be637a 285px,#734892 294px,#5f3f99 302px,#4e399a 525px)"></i>
<i style="background:linear-gradient(#f8c242 20px,#f9bc40 190px,#fab33e 207px,#f89a41 231px,#e17161 251px,#b8617d 275px,#9b5888 285px,#6c4595 294px,#5f3f98 300px,#4e399a 525px)"></i>
<i style="background:linear-gradient(#f8c242 23px,#f9bd40 198px,#f9a13f 220px,#f38749 228px,#e07162 234px,#c26479 241px,#9d5987 255px,#5f3f98 297px,#4e3a9a 525px)"></i>
<i style="background:linear-gradient(#f8c242 23px,#f9bd40 195px,#faa53e 212px,#f68c45 219px,#e97b56 223px,#bf637a 231px,#985788 238px,#87508d 243px,#654297 273px,#563c99 364px,#4f3a9a 525px)"></i>
<i style="background:linear-gradient(#f8c242 23px,#f9bd40 192px,#f9a03f 209px,#f68b45 213px,#e17160 218px,#c26478 223px,#a45b85 228px,#91548a 234px,#7f4d8f 243px,#724893 262px,#5f3f98 275px,#4f3a9a 525px)"></i>
<i style="background:linear-gradient(#f8c242 23px,#f9bd40 189px,#f9a03f 206px,#f48947 210px,#eb7d54 212px,#bd637b 218px,#a65b84 221px,#985789 225px,#85508d 240px,#7a4b90 263px,#5f3f99 278px,#4f3a9a 525px)"></i>
<i style="background:linear-gradient(#f8c241 23px,#f9bd40 187px,#f9a13f 203px,#f58947 207px,#e6775b 210px,#bc627b 215px,#a35b85 218px,#985789 221px,#794b91 263px,#5e3f99 279px,#4f3a9a 525px)"></i>
<i style="background:linear-gradient(#f8c241 20px,#f9bd40 185px,#fab73f 191px,#f9a13f 201px,#f78f44 204px,#e97b56 207px,#c16479 212px,#a05a86 216px,#965689 219px,#754992 261px,#5f3f99 276px,#503a9a 525px)"></i>
<i style="background:linear-gradient(#f8c241 20px,#f9bd40 179px,#fab53e 189px,#f99d40 200px,#f68a46 203px,#e6775a 206px,#bb627b 211px,#a25a85 214px,#965689 217px,#5f3f99 271px,#503a9a 525px)"></i>
<i style="background:linear-gradient(#f8c241 20px,#f9bd40 172px,#fbaa3d 190px,#f89a41 197px,#f58a46 200px,#e3735f 204px,#b9627c 209px,#a25a85 212px,#975689 215px,#664296 249px,#603f98 258px,#503a9a 525px)"></i>
<i style="background:linear-gradient(#f8c141 20px,#f9bd40 168px,#faa53e 185px,#f68c45 193px,#df7063 200px,#ba627c 205px,#985788 211px,#5f3f98 248px,#503a9a 525px)"></i>
<i style="background:linear-gradient(#f8c141 20px,#f9bd40 164px,#fab43e 172px,#f89b41 183px,#f68b45 186px,#e07062 192px,#c26478 197px,#9e5987 204px,#5f3f98 243px,#503a9a 525px)"></i>
<i style="background:linear-gradient(#f8c141 15px,#f9bd40 161px,#fab53e 168px,#f89b41 179px,#f58a46 182px,#dd6f64 187px,#be637a 191px,#a95d82 194px,#9a5888 198px,#7a4b90 224px,#5f3f99 240px,#513a9a 525px)"></i>
<i style="background:linear-gradient(#f8c141 15px,#f9bd40 160px,#f99d40 176px,#f58a46 179px,#dc6f65 184px,#c36578 189px,#9d5987 197px,#8f538b 203px,#5f3f98 236px,#513a9a 525px)"></i>
<i style="background:linear-gradient(#f8c141 15px,#f9bd40 161px,#f99d40 177px,#f68d45 180px,#de7064 188px,#9d5987 197px,#824e8e 208px,#5f3f98 232px,#513a9a 525px)"></i>
<i style="background:linear-gradient(#f8c141 15px,#f9bc40 162px,#f89b41 181px,#f48848 184px,#e5755c 187px,#c26478 191px,#a65b84 194px,#94558a 197px,#694396 216px,#5f3f98 225px,#513a9a 525px)"></i>
<i style="background:linear-gradient(#f8c141 15px,#f9bc40 154px,#fab23d 168px,#f89841 180px,#f68c45 182px,#e27260 186px,#b25f7f 191px,#975689 194px,#86508d 197px,#5f3f98 218px,#513a9a 525px)"></i>
<i style="background:linear-gradient(#f8c141 15px,#f9bd40 147px,#faa53e 170px,#f68e44 177px,#e07162 183px,#9d5987 191px,#734892 197px,#5f3f98 215px,#513b9a 525px)"></i>
<i style="background:linear-gradient(#f8c141 15px,#f9bc40 144px,#faa63e 159px,#f68d44 168px,#df7063 177px,#9c5887 186px,#704793 194px,#5f3f98 203px,#513b9a 525px)"></i>
<i style="background:linear-gradient(#f8c041 15px,#f9bd40 141px,#faa83d 154px,#f89642 159px,#e07161 166px,#bd637b 173px,#714793 188px,#5f3f98 199px,#523b9a 525px)"></i>
<i style="background:linear-gradient(#f8c041 20px,#f9bc40 140px,#faa83d 152px,#f89941 156px,#f68b45 158px,#e27260 162px,#b4607e 167px,#9a5888 170px,#844f8d 174px,#6c4594 182px,#5f3f98 192px,#523b9a 525px)"></i>
<i style="background:linear-gradient(#f8c041 20px,#f9bc40 140px,#faa63e 153px,#f79442 157px,#dd6f64 163px,#a45b84 169px,#774a91 175px,#654297 180px,#5f3f98 185px,#523b9a 525px)"></i>
<i style="background:linear-gradient(#f9c041 20px,#f9bc40 142px,#faa73e 155px,#f79443 160px,#de7063 166px,#a35a85 172px,#724893 178px,#5f3f98 186px,#523b9a 525px)"></i>
<i style="background:linear-gradient(#f9c041 23px,#f9bd40 144px,#faa73e 158px,#f89642 162px,#f48848 164px,#dc6f65 168px,#9f5986 174px,#764992 179px,#654297 183px,#5f3f98 188px,#523b9a 525px)"></i>
<i style="background:linear-gradient(#f9c041 23px,#f9bd40 146px,#faa73e 159px,#f89642 163px,#e3735f 168px,#be637a 172px,#754992 180px,#654297 184px,#5f3f98 189px,#523b9a 525px)"></i>
<i style="background:linear-gradient(#f9bf41 20px,#f9bc40 146px,#faa73e 158px,#f89742 162px,#f48947 164px,#de7064 168px,#a35b85 174px,#734892 180px,#654197 184px,#5f3f98 189px,#523b9a 525px)"></i>
<i style="background:linear-gradient(#f9bf41 20px,#f9bc40 146px,#faa63e 159px,#f79542 163px,#e07162 169px,#a15a86 176px,#704793 183px,#5f3f98 191px,#523b9a 525px)"></i>
<i style="background:linear-gradient(#f9bf41 20px,#f9bc40 148px,#faa63e 162px,#f79243 167px,#dd6f64 173px,#a35a85 179px,#724893 185px,#5f3f98 193px,#523b9a 525px)"></i>
<i style="background:linear-gradient(#f9bf41 20px,#f9bc40 151px,#faa93d 164px,#f89642 169px,#f48848 171px,#dc6f65 175px,#a05986 181px,#764991 186px,#654296 190px,#5f3f98 195px,#523b9a 525px)"></i>
<i style="background:linear-gradient(#f9bf41 20px,#f9bc40 154px,#faa83d 166px,#f89a41 170px,#f68b45 172px,#e07161 176px,#a55b84 182px,#734892 188px,#5f3f98 196px,#533b9a 525px)"></i>
<i style="background:linear-gradient(#f9be41 20px,#f9bd40 155px,#fab63e 161px,#f99c40 171px,#f48848 174px,#e4745e 177px,#bf647a 181px,#764991 189px,#654296 193px,#5f3f98 198px,#533b9a 525px)"></i>
<i style="background:linear-gradient(#f9be41 20px,#f9bc40 157px,#faa83d 169px,#f89a41 173px,#f68b45 175px,#e07161 179px,#a55b84 185px,#734892 191px,#5f3f98 199px,#533b9a 525px)"></i>
<i style="background:linear-gradient(#f9be40 11px,#f9bd40 158px,#fab63e 164px,#f99c40 174px,#f48848 177px,#e4745e 180px,#bf647a 184px,#764991 192px,#654296 196px,#5f3f98 201px,#533b9a 525px)"></i>
<i style="background:linear-gradient(#f9be40 11px,#f9bd40 159px,#fab53e 166px,#f89941 176px,#f68b45 178px,#e07162 182px,#a45b85 188px,#724893 194px,#5f3f98 202px,#533b9a 525px)"></i>
<i style="background:linear-gradient(#f9be40 15px,#f9bd40 160px,#fab63e 166px,#f99d40 176px,#f48848 179px,#e4745e 182px,#bf637a 186px,#754992 194px,#654297 198px,#5f3f98 203px,#533b9a 525px)"></i>
<i style="background:linear-gradient(#f9bd40 15px,#f9bc40 157px,#fab53e 166px,#f99d40 176px,#f48848 179px,#e4745e 182px,#bf647a 186px,#754992 194px,#654297 198px,#5f3f98 203px,#533b9a 525px)"></i>
<i style="background:linear-gradient(#f9bd40 15px,#f9bd40 151px,#faa83d 171px,#f89b41 176px,#f68e44 178px,#e3735e 182px,#bf637a 186px,#754992 194px,#654297 198px,#5f3f98 203px,#533b9a 525px)"></i>
<i style="background:linear-gradient(#f9bd40 15px,#f9bc40 148px,#fbad3c 159px,#f68e44 175px,#dc6f65 181px,#a45b85 187px,#744992 193px,#654297 197px,#5f3f98 202px,#533b9a 525px)"></i>
<i style="background:linear-gradient(#f9bd40 20px,#f9bc40 144px,#faa63e 159px,#f68c45 167px,#e3735e 176px,#b05f80 182px,#7a4b90 189px,#664296 194px,#5f3f98 199px,#533b9a 525px)"></i>
<i style="background:linear-gradient(#f9bc40 23px,#f9bc40 140px,#faa63e 155px,#f68c45 163px,#e3735e 173px,#a45b84 180px,#754992 186px,#644197 191px,#5f3f98 196px,#533b99 525px)"></i>
<i style="background:linear-gradient(#fab73f 23px,#f9bb40 135px,#faa53e 152px,#f68a46 161px,#eb7d54 169px,#e17161 172px,#9f5986 179px,#764991 184px,#664296 188px,#5f3f98 193px,#533b99 525px)"></i>
<i style="background:linear-gradient(#fbab3c 23px,#fab73f 42px,#fab63e 129px,#faa73d 146px,#f68c45 160px,#eb7d54 169px,#e27260 172px,#9f5986 179px,#754992 184px,#654297 188px,#5f3f98 193px,#533b99 525px)"></i>
<i style="background:linear-gradient(#f9a13f 23px,#fbb03d 42px,#fbad3c 128px,#f58a46 160px,#e4745d 171px,#bb627b 176px,#794b90 183px,#674296 187px,#5f3f98 192px,#543b99 525px)"></i>
<i style="background:linear-gradient(#f99e40 23px,#faa93d 41px,#faa93d 101px,#f99f40 116px,#faa53e 128px,#f1854c 160px,#e27260 169px,#c56576 173px,#9d5987 177px,#754992 182px,#654297 186px,#5f3f98 191px,#543b99 525px)"></i>
<i style="background:linear-gradient(#f99d40 23px,#faa53e 73px,#f99e40 87px,#faa53e 102px,#f99c40 115px,#f99e40 132px,#f68a46 149px,#e27260 164px,#ca6872 168px,#a05a86 173px,#774a91 179px,#654197 184px,#5f3f98 189px,#543b99 525px)"></i>
<i style="background:linear-gradient(#f99d40 23px,#f99c40 88px,#faa33f 103px,#f89941 134px,#f68b45 146px,#e3735f 158px,#ba627c 164px,#794b91 174px,#674396 179px,#5f3f98 185px,#543b99 525px)"></i>
<i style="background:linear-gradient(#f99c40 23px,#f9a13f 104px,#f79542 138px,#f58a46 146px,#eb7d54 154px,#e17260 157px,#a05a86 164px,#794b90 169px,#664296 174px,#5f3f98 180px,#543b99 525px)"></i>
<i style="background:linear-gradient(#f99c40 20px,#f9a040 103px,#f58a46 145px,#e3735f 156px,#a25a85 163px,#774a91 168px,#664296 172px,#5f3f98 177px,#553b99 525px)"></i>
<i style="background:linear-gradient(#f99d40 20px,#f99d40 103px,#ef834e 149px,#e27260 156px,#a05986 163px,#704793 169px,#5f3f98 177px,#553c99 525px)"></i>
<i style="background:linear-gradient(#f99d40 20px,#f9a13f 77px,#f79143 119px,#ef824f 132px,#ea7d55 152px,#da6e66 157px,#9f5986 163px,#754992 168px,#654297 172px,#5f3f98 177px,#553c99 525px)"></i>
<i style="background:linear-gradient(#f99c40 15px,#faa33f 45px,#f89742 105px,#f68b46 120px,#e5765c 136px,#e07162 152px,#da6e66 155px,#ca6872 158px,#9a5788 163px,#724893 168px,#5f3f98 176px,#553c99 525px)"></i>
<i style="background:linear-gradient(#f99c40 15px,#f9a13f 51px,#f79542 107px,#f68b45 117px,#e17161 133px,#c66676 151px,#af5e80 157px,#6f4694 167px,#5f3f98 175px,#563c99 525px)"></i>
<i style="background:linear-gradient(#f89c41 15px,#f89a41 82px,#f79343 106px,#f48848 117px,#e17161 130px,#bf637a 141px,#7c4c90 158px,#5f3f98 172px,#563c99 525px)"></i>
<i style="background:linear-gradient(#f89c41 15px,#f89642 90px,#f68b45 108px,#ec7e53 120px,#e27260 127px,#d46c6b 131px,#9d5987 140px,#774a91 148px,#684396 155px,#603f98 165px,#563c99 525px)"></i>
<i style="background:linear-gradient(#f89b41 15px,#f79442 92px,#f68b45 104px,#ec7f52 113px,#e07162 122px,#ce696f 128px,#9d5987 135px,#734892 142px,#5f3f98 154px,#563c99 525px)"></i>
<i style="background:linear-gradient(#f89b41 15px,#f79343 92px,#f68c45 101px,#ee8150 109px,#cd6970 124px,#be637a 127px,#754992 137px,#644197 142px,#5f3f98 147px,#563c99 525px)"></i>
<i style="background:linear-gradient(#f89a41 15px,#f79343 91px,#ed8051 107px,#e07162 115px,#cb6872 122px,#734892 134px,#5f3f98 143px,#573c99 525px)"></i>
<i style="background:linear-gradient(#f89941 20px,#f79243 87px,#f68b45 96px,#ec7f52 105px,#e17161 112px,#c86774 121px,#8c528c 129px,#774a91 133px,#5f3f98 146px,#573c99 525px)"></i>
<i style="background:linear-gradient(#f89941 20px,#f79243 82px,#e97b56 104px,#cc6871 117px,#9d5987 125px,#674396 143px,#5f3f98 149px,#573c99 525px)"></i>
<i style="background:linear-gradient(#f89842 20px,#f79243 76px,#f68b45 84px,#e87958 99px,#cd6970 113px,#9a5888 122px,#5f3f98 151px,#573c99 525px)"></i>
<i style="background:linear-gradient(#f89742 23px,#f68d44 78px,#e17161 99px,#ca6872 110px,#9a5788 118px,#8f538b 121px,#5f3f98 149px,#573c99 528px)"></i>
<i style="background:linear-gradient(#f89742 23px,#f79243 71px,#f68b45 77px,#e27260 94px,#c66675 108px,#955689 115px,#854f8d 119px,#5f3f98 146px,#583c99 528px)"></i>
<i style="background:linear-gradient(#f89642 23px,#f79243 64px,#f68b45 73px,#e17161 92px,#c46577 106px,#85508d 114px,#724893 118px,#603f98 137px,#583c99 528px)"></i>
<i style="background:linear-gradient(#f89542 23px,#f68c45 67px,#e17161 89px,#c76675 103px,#b6617d 106px,#704793 115px,#5f3f98 123px,#583d99 528px)"></i>
<i style="background:linear-gradient(#f79542 23px,#f68b45 60px,#ce696f 97px,#bd637b 103px,#704793 114px,#5f3f98 122px,#583d99 528px)"></i>
<i style="background:linear-gradient(#f79443 27px,#f68b45 55px,#cc6871 91px,#ba627c 98px,#6b4495 116px,#5f3f98 123px,#593d99 528px)"></i>
<i style="background:linear-gradient(#f79443 27px,#f68b45 51px,#e17161 69px,#c36577 85px,#9d5987 97px,#5f3f98 125px,#593d99 525px)"></i>
<i style="background:linear-gradient(#f79343 23px,#f68c45 46px,#e6775a 61px,#cc6871 74px,#9e5987 86px,#814e8e 110px,#5f3f98 128px,#593d99 525px)"></i>
<i style="background:linear-gradient(#f79343 23px,#f68b45 42px,#e77859 56px,#cc6871 69px,#a45b84 77px,#995788 81px,#7f4d8f 112px,#5f3f98 132px,#593d99 525px)"></i>
<i style="background:linear-gradient(#f79343 23px,#f68b45 40px,#e17161 56px,#c86774 66px,#9e5987 74px,#7b4c90 119px,#603f98 138px,#593d99 525px)"></i>
<i style="background:linear-gradient(#f79343 20px,#f68a46 39px,#e17161 54px,#c86774 64px,#9b5888 72px,#86508d 113px,#674396 147px,#5f3f99 180px,#5a3d99 525px)"></i>
<i style="background:linear-gradient(#f79343 20px,#f68b45 38px,#e17161 54px,#ce6970 63px,#a65c84 71px,#9a5888 76px,#744892 161px,#5f3f98 182px,#5a3d99 525px)"></i>
<i style="background:linear-gradient(#f79343 15px,#f68c45 39px,#e17161 59px,#d26b6c 68px,#bd637a 75px,#a65c84 89px,#7f4d8f 165px,#684396 182px,#603f98 203px,#5a3d99 525px)"></i>
<i style="background:linear-gradient(#f79343 15px,#f68c45 41px,#e17161 78px,#a55b84 124px,#9b5888 143px,#5f3f98 213px,#5a3d99 525px)"></i>
<i style="background:linear-gradient(#f79443 11px,#f79143 39px,#ec7f52 89px,#ca6872 141px,#93558a 165px,#7a4b90 200px,#5f3f98 216px,#5b3d99 525px)"></i>
<i style="background:linear-gradient(#f79443 11px,#f68b45 78px,#e6775b 147px,#de7063 151px,#bd637a 158px,#a55b84 164px,#975789 170px,#87508d 197px,#694495 213px,#603f98 230px,#5b3d99 525px)"></i>
<i style="background:linear-gradient(#f79443 11px,#f79144 87px,#ef834e 147px,#e27260 156px,#c06479 164px,#a45b85 175px,#674396 237px,#5f3f99 280px,#5b3d99 525px)"></i>
<i style="background:linear-gradient(#f79443 11px,#f68b45 146px,#e87a57 159px,#c16479 177px,#844f8e 219px,#5f3f98 284px,#5b3d99 525px)"></i>
<i style="background:linear-gradient(#f79443 11px,#f79243 141px,#f68b45 152px,#dd6f64 180px,#c26478 196px,#9e5987 210px,#89518c 223px,#744992 272px,#5f3f98 288px,#5b3e99 525px)"></i>
<i style="background:linear-gradient(#f79443 11px,#f79243 148px,#ee8150 176px,#e17161 188px,#be637a 201px,#92548a 221px,#85508d 235px,#754992 275px,#5f3f98 288px,#5c3e99 525px)"></i>
<i style="background:linear-gradient(#f79443 11px,#f79243 152px,#f68b45 172px,#e17161 190px,#bf637a 203px,#9d5987 217px,#8b528c 232px,#754992 273px,#5f3f98 286px,#5c3e99 525px)"></i>
<i style="background:linear-gradient(#f79443 11px,#f79243 165px,#f68c45 174px,#e17161 192px,#c16479 205px,#9d5987 220px,#764991 269px,#5f3f98 283px,#5c3e99 525px)"></i>
<i style="background:linear-gradient(#f79542 11px,#f79243 166px,#f68b45 178px,#e07162 195px,#9f5987 222px,#603f98 287px,#5c3e99 525px)"></i>
<i style="background:linear-gradient(#f79542 11px,#f79243 169px,#f68b45 181px,#e17161 197px,#c96773 210px,#9d5987 225px,#603f98 302px,#5d3e99 525px)"></i>
<i style="background:linear-gradient(#f79542 15px,#f79343 158px,#f68c45 182px,#e5765c 198px,#d56c6a 212px,#985789 230px,#7e4d8f 263px,#614098 320px,#5d3e99 525px)"></i>
<i style="background:linear-gradient(#f89542 15px,#f79343 158px,#f68b45 185px,#e2735f 213px,#cd6970 219px,#a05986 228px,#975689 232px,#824e8e 262px,#614098 342px,#5d3e99 525px)"></i>
<i style="background:linear-gradient(#f89642 20px,#f79243 178px,#f68b45 193px,#ed8050 209px,#e27260 216px,#995788 232px,#87508d 258px,#724893 332px,#5f3f98 369px,#5d3e99 525px)"></i>
<i style="background:linear-gradient(#f89642 20px,#f79243 187px,#f68b45 204px,#e07162 219px,#c86774 225px,#9a5888 233px,#8e538b 251px,#734892 351px,#5f3f98 378px,#5d3e99 525px)"></i>
<i style="background:linear-gradient(#f89642 20px,#f79243 196px,#f68c45 206px,#e17161 221px,#ca6872 227px,#a15a86 234px,#955689 243px,#844f8d 285px,#744892 364px,#5f3f98 390px,#5e3e99 525px)"></i>
<i style="background:linear-gradient(#f89742 20px,#f79343 191px,#f68c45 208px,#df7062 224px,#9e5987 241px,#91548a 259px,#744992 374px,#5f3f98 408px,#5e3e99 521px)"></i>
<i style="background:linear-gradient(#f89742 20px,#f79343 185px,#f68c45 210px,#e27260 228px,#9f5987 247px,#94558a 259px,#734892 391px,#5f3f98 424px,#5e3e99 521px)"></i>
<i style="background:linear-gradient(#f89742 20px,#f79443 179px,#f68c45 215px,#e07161 234px,#a35b85 250px,#975689 258px,#744892 407px,#5f3f98 440px,#5e3f99 521px)"></i>
<i style="background:linear-gradient(#f89842 20px,#f79443 175px,#f68c45 221px,#e2725f 237px,#c26478 246px,#a45b85 254px,#995788 262px,#844f8e 328px,#744892 423px,#5f3f98 455px,#5e3f99 521px)"></i>
<i style="background:linear-gradient(#f89842 15px,#f79542 160px,#f68b45 225px,#e4755d 239px,#be637a 250px,#a65b84 259px,#995788 270px,#85508d 330px,#744892 439px,#603f98 466px,#5f3f99 521px)"></i>
<i style="background:linear-gradient(#f89841 15px,#f79542 161px,#f68b45 223px,#e87958 238px,#bd637b 252px,#a85c83 263px,#985788 278px,#87518d 327px,#744992 451px,#614098 488px,#5f3f98 521px)"></i>
<i style="background:linear-gradient(#f89941 15px,#f79542 164px,#f68b45 206px,#e87a58 236px,#c16479 251px,#985789 284px,#8a528c 321px,#694395 521px)"></i>
<i style="background:linear-gradient(#f89941 15px,#f89542 159px,#f68c45 203px,#ea7c56 215px,#e17161 233px,#c26479 247px,#9b5888 281px,#94558a 295px,#774a91 458px,#744892 521px)"></i>
<i style="background:linear-gradient(#f89941 15px,#f89642 155px,#f68c45 201px,#e17260 219px,#c16479 241px,#955689 294px,#7a4b90 456px,#764991 521px)"></i>
<i style="background:linear-gradient(#f89a41 15px,#f89642 151px,#f68c45 199px,#e17161 217px,#c26479 236px,#9b5888 278px,#7c4c90 453px,#784a91 521px)"></i>
<i style="background:linear-gradient(#f89a41 15px,#f89742 144px,#f68d44 197px,#e17161 215px,#c26478 233px,#9a5888 272px,#7a4b90 521px)"></i>
<i style="background:linear-gradient(#f89a41 15px,#f89742 145px,#f68d44 197px,#e17161 214px,#c36578 230px,#9c5887 274px,#7c4c8f 521px)"></i>
<i style="background:linear-gradient(#f89b41 11px,#f89742 146px,#f68d44 198px,#e6775a 211px,#c36577 227px,#a05a86 273px,#834f8e 444px,#7e4d8f 521px)"></i>
<i style="background:linear-gradient(#f89b41 11px,#f89842 139px,#f78f44 198px,#e77958 211px,#c46577 224px,#a45b85 271px,#88518c 422px,#804e8e 521px)"></i>
<i style="background:linear-gradient(#f89b41 11px,#f89842 141px,#f78e44 199px,#e77958 212px,#c36577 223px,#a85c83 268px,#8b528c 417px,#824f8e 521px)"></i>
<i style="background:linear-gradient(#f89c41 11px,#f89842 146px,#f68d45 202px,#e77958 214px,#c26478 224px,#ab5d82 266px,#8d538b 412px,#844f8d 518px)"></i>
<i style="background:linear-gradient(#f89c41 11px,#f89841 147px,#f68c45 203px,#e87a57 214px,#c46577 223px,#ae5e81 266px,#90548b 407px,#86508d 518px)"></i>
<i style="background:linear-gradient(#f99c40 11px,#f89941 145px,#f68c45 197px,#e87958 213px,#c56676 225px,#b05f80 268px,#92548a 403px,#88518c 518px)"></i>
<i style="background:linear-gradient(#f99c40 11px,#f89a41 141px,#f78f44 193px,#e17161 214px,#c56576 231px,#b15f80 272px,#945589 399px,#8a528c 518px)"></i>
<i style="background:linear-gradient(#f99d40 11px,#f89b41 140px,#f78f44 192px,#e17161 213px,#be637a 246px,#975689 394px,#8c528b 518px)"></i>
<i style="background:linear-gradient(#f99d40 15px,#f89b41 142px,#f78f44 192px,#e17161 219px,#c56676 236px,#bf637a 245px,#995788 392px,#8e538b 518px)"></i>
<i style="background:linear-gradient(#f99d40 15px,#f89c41 150px,#f89742 179px,#f68b45 198px,#e87958 215px,#c16479 242px,#9b5888 393px,#90548a 518px)"></i>
<i style="background:linear-gradient(#f99e40 15px,#f9a03f 125px,#f89b41 172px,#f68d44 200px,#e07162 221px,#c76675 235px,#c16479 243px,#9e5987 391px,#92558a 518px)"></i>
<i style="background:linear-gradient(#f9a03f 15px,#faa33f 125px,#f99d40 170px,#f68b45 196px,#e07161 219px,#c26478 242px,#a05a86 391px,#945589 518px)"></i>
<i style="background:linear-gradient(#f9a33f 15px,#faa63e 122px,#f9a03f 167px,#f79143 185px,#e17161 216px,#cb6871 233px,#c46576 245px,#a35b85 390px,#965689 518px)"></i>
<i style="background:linear-gradient(#faa73e 19px,#faa93d 120px,#f9a23f 164px,#f79542 181px,#e97b56 198px,#e17161 214px,#d06a6e 233px,#c16479 267px,#a65c84 390px,#985789 518px)"></i>
<i style="background:linear-gradient(#fbaa3d 19px,#fbae3c 100px,#faa53e 159px,#f99e40 175px,#f68c45 185px,#e3745e 205px,#c36577 265px,#a35b85 423px,#9a5888 521px)"></i>
<i style="background:linear-gradient(#fbad3c 19px,#fab13d 100px,#faa73d 159px,#f99e40 178px,#f58a46 187px,#e5765b 203px,#d96e67 239px,#c46576 269px,#a55b84 425px,#9c5887 521px)"></i>
<i style="background:linear-gradient(#fab13d 19px,#fab53e 100px,#faa93d 161px,#f9a040 182px,#f68c45 193px,#e97b56 205px,#e17161 236px,#c66676 274px,#a65c84 429px,#9e5987 521px)"></i>
<i style="background:linear-gradient(#fab53e 19px,#f9b93f 99px,#fbab3d 164px,#f99f40 193px,#f68c45 203px,#eb7e53 217px,#e17161 243px,#ca6872 273px,#a85c83 427px,#a05a86 521px)"></i>
<i style="background:linear-gradient(#fab83f 19px,#f9bc40 101px,#f9a03f 201px,#f58a46 209px,#ef834e 215px,#d06a6d 268px,#ab5d82 423px,#a25a85 521px)"></i>
<i style="background:linear-gradient(#f9bb40 19px,#f8c041 65px,#f9bb40 81px,#f8c242 99px,#fab43e 132px,#fbb03d 171px,#f9a23f 202px,#f1854b 211px,#ea7c55 217px,#d46c6b 266px,#c16479 325px,#ad5e81 419px,#a45b85 521px)"></i>
<i style="background:linear-gradient(#f9c041 19px,#f8c642 65px,#f9be40 80px,#f8c743 98px,#fab83f 127px,#fab53e 171px,#f9a33f 203px,#f68d45 209px,#e87a57 216px,#dc6f64 255px,#c56676 308px,#af5e80 417px,#a65c84 521px)"></i>
<i style="background:linear-gradient(#f8c442 19px,#f7cb44 33px,#f8c342 79px,#f7cb44 98px,#f9ba3f 125px,#f9ba3f 169px,#f9a23f 206px,#f1854c 217px,#e77859 231px,#e17161 253px,#ca6872 307px,#b25f7f 410px,#a85c83 521px)"></i>
<i style="background:linear-gradient(#f8c642 15px,#f7cd45 33px,#f7c843 77px,#f7cd44 97px,#f9bd40 125px,#f8c041 166px,#fab83f 186px,#f89842 222px,#ea7c55 235px,#e17161 262px,#b4607e 404px,#aa5d82 518px)"></i>
<i style="background:linear-gradient(#f7c843 15px,#f6cf45 36px,#f7ce45 98px,#f8c141 134px,#f8c743 162px,#f9a33f 224px,#ee824f 238px,#e3735f 265px,#c96773 320px,#b7617d 398px,#ac5e81 518px)"></i>
<i style="background:linear-gradient(#f8c743 11px,#f6d145 37px,#f8c743 134px,#f7cb44 161px,#f8c642 180px,#faa43e 228px,#f58a47 238px,#e97b56 253px,#df7062 287px,#c76774 312px,#ae5e80 518px)"></i>
<i style="background:linear-gradient(#f7c943 11px,#f6d246 38px,#f7ca44 177px,#faa53e 232px,#f68b45 244px,#ed8051 256px,#e17161 292px,#c46577 314px,#b15f80 518px)"></i>
<i style="background:linear-gradient(#f7cb44 11px,#f6d346 40px,#f7cc44 177px,#fab33e 225px,#faa43f 239px,#f48947 255px,#e3735f 298px,#c46577 317px,#b35f7f 518px)"></i>
<i style="background:linear-gradient(#f7cd44 11px,#f6d346 42px,#f7cd45 175px,#f9bc40 226px,#fbad3c 238px,#f68b45 269px,#e6775b 306px,#c66675 322px,#b5607e 514px)"></i>
<i style="background:linear-gradient(#f7ce45 11px,#f6d447 90px,#f7cc44 194px,#f8c141 227px,#fbad3c 245px,#f89842 266px,#f68b45 288px,#ea7c55 314px,#c96773 334px,#b7617d 514px)"></i>
<i style="background:linear-gradient(#f6d045 15px,#f5d547 89px,#f7ca44 219px,#f9a03f 264px,#f68b45 306px,#ec7f52 328px,#e07162 338px,#cb6872 356px,#c46577 373px,#b9617c 514px)"></i>
<i style="background:linear-gradient(#f6d045 15px,#f5d547 88px,#f7cd44 218px,#faa83d 260px,#f79143 333px,#e17161 356px,#cd6970 370px,#bb627b 514px)"></i>
<i style="background:linear-gradient(#f6d045 15px,#f5d648 86px,#f7cf45 215px,#fbb03d 257px,#f89c41 344px,#f68b45 352px,#e3735f 365px,#d66d69 375px,#c26478 442px,#bd637b 518px)"></i>
<i style="background:linear-gradient(#f6d045 15px,#f5d648 66px,#f6d045 209px,#f9ba3f 245px,#f99f40 348px,#f48948 357px,#e17161 376px,#d36b6b 423px,#c46577 440px,#bf637a 518px)"></i>
<i style="background:linear-gradient(#f6d045 15px,#f5d748 66px,#f6d246 203px,#fbad3c 298px,#f99f40 349px,#f68b45 366px,#e6785a 386px,#de7063 420px,#c66676 451px,#c16479 518px)"></i>
<i style="background:linear-gradient(#f6d045 15px,#f4d748 71px,#f6d246 202px,#f8c241 274px,#fbad3c 306px,#f79443 397px,#ea7c55 412px,#d66d69 434px,#c66675 467px,#c36578 518px)"></i>
<i style="background:linear-gradient(#f6d045 15px,#f5d648 156px,#f7c943 268px,#fbad3c 313px,#f99d40 406px,#f68b45 415px,#e07162 430px,#cb6872 465px,#c56676 518px)"></i>
<i style="background:linear-gradient(#f6d045 15px,#f4d748 138px,#f7cc44 268px,#faa63e 333px,#f99c40 406px,#f68c45 414px,#ea7c55 420px,#e07161 432px,#cd6970 468px,#c76774 521px)"></i>
<i style="background:linear-gradient(#f6d045 15px,#f4d848 87px,#f7cf45 248px,#f8c743 274px,#fbad3c 316px,#f79542 385px,#f48947 399px,#e77859 415px,#e17161 431px,#cf6a6e 470px,#c96773 521px)"></i>
<i style="background:linear-gradient(#f6d045 15px,#f4d848 90px,#f6d045 243px,#fbad3c 317px,#f99d40 345px,#ed8051 373px,#d36b6b 463px,#cb6871 518px)"></i>
<i style="background:linear-gradient(#f6d045 15px,#f4d849 93px,#f6d246 240px,#fbad3c 319px,#f89542 348px,#e77959 370px,#cd6970 518px)"></i>
<i style="background:linear-gradient(#f6d045 15px,#f4d849 98px,#f6d246 241px,#f8c743 282px,#fbad3c 319px,#f99e40 346px,#f68b45 360px,#e97a57 379px,#cf6a6f 514px)"></i>
<i style="background:linear-gradient(#f6d045 15px,#f4d849 142px,#f7cd44 275px,#fbab3d 324px,#f89b41 365px,#f68c45 379px,#e87a57 399px,#d16a6d 514px)"></i>
<i style="background:linear-gradient(#f6d045 15px,#f4d849 125px,#f7cf45 266px,#faa93d 329px,#f99e40 381px,#f68c45 396px,#e77959 416px,#d36b6c 514px)"></i>
<i style="background:linear-gradient(#f6d145 19px,#f4d849 123px,#f7cf45 264px,#fbab3d 329px,#f99e40 396px,#f68c45 408px,#ed8051 416px,#e7785a 427px,#d46c6a 514px)"></i>
<i style="background:linear-gradient(#f6d145 19px,#f4d849 122px,#f7ce45 258px,#fbac3c 329px,#f99e40 406px,#f68c45 416px,#e77859 431px,#d66d69 514px)"></i>
<i style="background:linear-gradient(#f6d145 19px,#f4d849 109px,#f6d246 236px,#fbad3c 328px,#f99e40 413px,#f2874a 423px,#e77859 435px,#d86d68 514px)"></i>
<i style="background:linear-gradient(#f6d145 19px,#f4d849 106px,#f6d246 236px,#fbae3c 325px,#f99f40 413px,#f48947 422px,#e77859 435px,#d96e67 518px)"></i>
<i style="background:linear-gradient(#f6d246 23px,#f4d849 106px,#f6d145 238px,#f9bb40 278px,#f99f40 411px,#f48848 421px,#e77859 434px,#db6f65 518px)"></i>
<i style="background:linear-gradient(#f6d246 23px,#f4d849 106px,#f6cf45 239px,#f9ba3f 277px,#f99f40 408px,#f58a46 418px,#e77959 432px,#dc6f64 521px)"></i>
<i style="background:linear-gradient(#f6d246 23px,#f4d748 143px,#f7cd45 242px,#fab83f 283px,#f99f40 409px,#f68b45 421px,#e87a58 437px,#de7063 521px)"></i>
<i style="background:linear-gradient(#f6d246 23px,#f5d748 150px,#f7cb44 241px,#fab63e 290px,#f99e40 418px,#f68c45 433px,#e87a58 448px,#e07062 521px)"></i>
<i style="background:linear-gradient(#f6d246 23px,#f4d849 93px,#f6d346 195px,#fab33e 298px,#f99e40 431px,#f68d45 443px,#e97a57 457px,#e17161 518px)"></i>
<i style="background:linear-gradient(#f6d246 23px,#f4d849 91px,#f6d346 196px,#fab63e 285px,#f99f40 440px,#f68b45 453px,#e97a57 467px,#e2725f 518px)"></i>
<i style="background:linear-gradient(#f6d145 19px,#f4d848 88px,#f6d246 197px,#f9bd40 239px,#f99f40 449px,#f68b45 463px,#e97b56 476px,#e3745e 518px)"></i>
<i style="background:linear-gradient(#f6d145 19px,#f4d848 87px,#f6d246 196px,#f7cc44 219px,#f9bb40 241px,#f99e40 459px,#f68b45 473px,#e97b56 486px,#e4745d 518px)"></i>
<i style="background:linear-gradient(#f6d145 19px,#f4d848 86px,#f6d146 196px,#f9ba3f 247px,#f99e40 470px,#f68b45 483px,#ea7c56 493px,#e5755c 518px)"></i>
<i style="background:linear-gradient(#f6d145 19px,#f4d848 85px,#f6d045 197px,#f9b93f 253px,#f99f40 478px,#f89b41 483px,#f68c45 488px,#ea7c55 499px,#e5765b 518px)"></i>
<i style="background:linear-gradient(#f6d045 15px,#f4d848 84px,#f7cf45 199px,#f9bd40 230px,#fab73f 258px,#f99f40 482px,#f68b45 494px,#ea7c56 505px,#e6775a 518px)"></i>
<i style="background:linear-gradient(#f6d045 15px,#f4d848 84px,#f7ce45 201px,#f9bd40 227px,#f9b93f 246px,#f99f40 487px,#f89941 498px,#f68d44 504px,#eb7d54 511px,#e77959 518px)"></i>
<i style="background:linear-gradient(#f6d045 15px,#f5d547 121px,#f7ca44 206px,#f9bc40 226px,#fab53e 268px,#f99e40 501px,#f89a41 507px,#f68b45 512px,#ea7c55 518px)"></i>
<i style="background:linear-gradient(#f6d045 15px,#f5d547 126px,#fab63e 263px,#f99f40 507px,#f89c41 511px,#f79044 514px)"></i>
<i style="background:linear-gradient(#f6d145 19px,#f5d547 122px,#f9bc40 222px,#f99f40 508px,#f89841 514px)"></i>
<i style="width:3px;background:linear-gradient(#f6d145 19px,#f5d547 120px,#f9bd40 195px,#f89c41 514px)"></i>
</div><div class="f" style="left:118px;top:1900px;width:1316px;height:524px">
<i style="background:linear-gradient(#f7c943 2px,#f5d447 56px,#f7ca44 98px,#f9ba3f 129px,#faa43f 140px,#f68e44 145px,#e27260 150px,#9f5987 157px,#4a389a 170px,#36329b 187px,#2e3292 196px,#163070 297px,#0f3067 512px)"></i>
<i style="background:linear-gradient(#f7c943 2px,#f5d547 57px,#f7cb44 101px,#f9bc40 124px,#faa63e 135px,#f78f44 142px,#de7063 149px,#a05a86 156px,#764991 162px,#4a389a 171px,#35329b 189px,#2e3291 198px,#183173 291px,#11306a 512px)"></i>
<i style="background:linear-gradient(#f7c943 2px,#f5d547 57px,#f7cb44 103px,#f9ba3f 122px,#faa73e 131px,#f78f44 137px,#e17260 143px,#a55b84 151px,#804e8f 157px,#634197 164px,#45379a 175px,#35329b 191px,#2e3292 199px,#1a3176 290px,#15306e 512px)"></i>
<i style="background:linear-gradient(#f7c943 2px,#f5d547 57px,#f7ca44 102px,#f9ba40 119px,#faa43e 129px,#f68e44 134px,#e3735f 139px,#a35b85 146px,#824e8e 151px,#694395 157px,#45379a 175px,#35329b 192px,#2e3292 202px,#1c3178 290px,#173072 512px)"></i>
<i style="background:linear-gradient(#f7c943 2px,#f5d547 57px,#f7cc44 94px,#f9bd40 116px,#faa63e 126px,#f79044 131px,#dd6f64 137px,#a35b85 143px,#794b90 149px,#644197 154px,#45379a 174px,#35329b 194px,#2f3292 205px,#1d317a 293px,#183174 512px)"></i>
<i style="background:linear-gradient(#f7c943 5px,#f5d447 56px,#f7cc44 93px,#f9bc40 116px,#faa43e 126px,#f68c45 131px,#dc6f64 136px,#a15a86 142px,#744992 148px,#614098 153px,#45379a 172px,#35329b 197px,#2f3293 208px,#1f317c 294px,#1a3176 512px)"></i>
<i style="background:linear-gradient(#f7c943 5px,#f5d447 55px,#f7cc44 92px,#f9bb40 116px,#faa43e 126px,#f68b45 131px,#dc6f65 136px,#a05a86 142px,#744892 148px,#603f98 153px,#46379a 170px,#35329b 199px,#2f3293 211px,#20317e 302px,#1b3177 512px)"></i>
<i style="background:linear-gradient(#f7c943 5px,#f6d447 55px,#f7cc44 91px,#f9ba40 115px,#faa33f 125px,#f68c45 130px,#de7063 135px,#a35b85 141px,#774a91 147px,#5f3f98 153px,#46379a 169px,#323297 209px,#213180 302px,#1d3179 512px)"></i>
<i style="background:linear-gradient(#f7c943 9px,#f6d447 55px,#f7cc44 90px,#f9ba3f 112px,#faa53e 122px,#f68c45 128px,#e17161 133px,#9e5987 140px,#754992 146px,#614098 151px,#46379a 168px,#38339b 198px,#2b318d 237px,#233182 300px,#1e317b 512px)"></i>
<i style="background:linear-gradient(#f7c943 9px,#f6d447 55px,#f7cb44 90px,#f9ba3f 109px,#faa63e 118px,#f68e44 124px,#df7062 130px,#a15a86 137px,#794b91 143px,#644197 148px,#47389a 166px,#3d359b 186px,#35329b 207px,#2d3290 229px,#253185 291px,#1f317d 512px)"></i>
<i style="background:linear-gradient(#f7c943 9px,#f6d447 56px,#f7cb44 94px,#f9b93f 109px,#f9a23f 118px,#f68b45 123px,#df7062 128px,#b15f80 133px,#8f538b 137px,#6e4694 143px,#5a3d99 151px,#44369a 171px,#35329b 209px,#2f3293 228px,#273188 287px,#21317f 512px)"></i>
<i style="background:linear-gradient(#f7c943 9px,#f6d447 57px,#f7cb44 97px,#f9bd40 109px,#faa43e 119px,#f78e44 124px,#e3745e 129px,#b9627c 134px,#92548a 139px,#6e4694 146px,#583d99 154px,#45379a 168px,#35329b 211px,#28318a 290px,#223181 512px)"></i>
<i style="background:linear-gradient(#f7c943 13px,#f6d447 58px,#f7cc44 101px,#faa83d 120px,#f68b45 128px,#de7063 134px,#a95c83 140px,#6c4594 149px,#4f3a9a 159px,#45379a 167px,#35329b 214px,#2a318b 291px,#243183 512px)"></i>
<i style="background:linear-gradient(#f7c943 13px,#f5d447 60px,#f7cc44 102px,#faa73d 124px,#f68b45 131px,#e3745e 135px,#bf637a 139px,#8f538b 144px,#6e4694 149px,#513a9a 158px,#45379a 166px,#35329b 219px,#2b328e 290px,#253185 512px)"></i>
<i style="background:linear-gradient(#f7c943 13px,#f5d547 63px,#f7cc44 101px,#fab73f 117px,#faa43e 125px,#f68d44 130px,#e07162 135px,#ba627c 139px,#945589 143px,#6d4594 149px,#503a9a 158px,#45379a 166px,#35329b 225px,#2d3290 289px,#263187 512px)"></i>
<i style="background:linear-gradient(#f7c943 13px,#f5d547 63px,#f7cc44 101px,#fbab3d 120px,#f68b45 128px,#df7062 133px,#b9627c 137px,#945589 141px,#6f4693 147px,#563c99 155px,#46379a 165px,#35329b 232px,#2f3292 287px,#283189 512px)"></i>
<i style="background:linear-gradient(#f7c943 13px,#f5d547 63px,#f7cc44 100px,#fbaa3d 118px,#f78f44 125px,#e3745e 130px,#ab5d82 136px,#8a528c 140px,#6e4694 145px,#593d99 152px,#46379a 166px,#303294 283px,#29318b 512px)"></i>
<i style="background:linear-gradient(#f7c943 13px,#f5d447 63px,#f7cc44 99px,#fbaa3d 116px,#f68e44 123px,#e2735f 128px,#aa5d82 134px,#89518c 138px,#6c4594 143px,#593d99 150px,#46379a 166px,#313295 282px,#2b318d 512px)"></i>
<i style="background:linear-gradient(#f7c943 17px,#f5d447 63px,#f7cc44 98px,#faa83d 115px,#f68a46 122px,#dd6f64 127px,#ac5d81 132px,#834f8e 137px,#684396 142px,#563c99 149px,#46379a 164px,#323297 282px,#2c328f 512px)"></i>
<i style="background:linear-gradient(#f7c943 17px,#f5d447 63px,#f7cc44 98px,#faa63e 116px,#f68b45 122px,#e3745e 126px,#bf637a 130px,#8f538b 135px,#6e4694 140px,#523b9a 148px,#46379a 159px,#333298 282px,#2d3291 517px)"></i>
<i style="background:linear-gradient(#f7c943 17px,#f5d447 63px,#f7cc44 98px,#faa83d 116px,#f68d44 122px,#df7062 127px,#9b5888 134px,#503a9a 146px,#47379a 151px,#333299 283px,#2f3292 517px)"></i>
<i style="background:linear-gradient(#f7c943 17px,#f5d447 63px,#f7cc44 99px,#fbaa3d 116px,#f68d45 123px,#df7063 128px,#c36578 131px,#9b5888 135px,#4c399a 147px,#46379a 151px,#343299 291px,#303294 517px)"></i>
<i style="background:linear-gradient(#f7c943 17px,#f5d447 63px,#f7cc44 99px,#fbaa3d 117px,#f68d45 124px,#df7062 129px,#9b5888 136px,#4d399a 148px,#46379a 152px,#34329a 290px,#313295 517px)"></i>
<i style="background:linear-gradient(#f7c943 17px,#f5d547 63px,#f7cc44 100px,#f9be41 110px,#faa53e 120px,#f78e44 125px,#e27260 130px,#9f5987 137px,#4f3a9a 149px,#46379a 153px,#35329b 285px,#323297 517px)"></i>
<i style="background:linear-gradient(#f7c943 17px,#f5d547 64px,#f7cc44 104px,#faa83d 120px,#f78f44 126px,#e2735f 131px,#9f5987 138px,#4d399a 150px,#46379a 154px,#36329b 279px,#333298 517px)"></i>
<i style="background:linear-gradient(#f7c943 13px,#f5d547 64px,#f7cc44 103px,#f8c643 108px,#faa83d 119px,#f79044 125px,#e3745e 130px,#a15a86 137px,#503a9a 149px,#46379a 153px,#37339b 275px,#34329a 517px)"></i>
<i style="background:linear-gradient(#f7c943 13px,#f5d547 63px,#f7cc44 102px,#faa83d 118px,#f68e44 124px,#e17161 129px,#9d5987 136px,#4e399a 148px,#46379a 152px,#38339b 272px,#35329b 517px)"></i>
<i style="background:linear-gradient(#f7c943 13px,#f5d547 62px,#f7cc44 100px,#faa83d 117px,#f68e44 123px,#e07161 128px,#9c5887 135px,#4d399a 147px,#46379a 151px,#39339b 269px,#36329b 517px)"></i>
<i style="background:linear-gradient(#f7c943 13px,#f5d447 60px,#f7cc44 100px,#faa83d 116px,#f78f44 122px,#e3745e 127px,#a15a86 134px,#834f8e 138px,#4f3a9a 147px,#46379a 151px,#39339b 265px,#37339b 517px)"></i>
<i style="background:linear-gradient(#f7c943 13px,#f6d447 59px,#f7cc44 100px,#faa73e 118px,#f68e44 124px,#e3735f 129px,#a25a85 136px,#7f4d8f 141px,#4f3a9a 150px,#46379a 155px,#3a349b 262px,#38339b 517px)"></i>
<i style="background:linear-gradient(#f7c943 13px,#f6d447 57px,#f7cc44 100px,#faa93d 120px,#f68e44 127px,#e2725f 132px,#a05a86 139px,#7c4c8f 144px,#513a9a 152px,#46379a 157px,#3b349b 259px,#39339b 520px)"></i>
<i style="background:linear-gradient(#f7c943 9px,#f6d446 56px,#f7cb44 102px,#fab33e 118px,#faa43e 124px,#f68d45 129px,#df7063 134px,#c36578 137px,#9b5888 141px,#774a91 146px,#533b9a 153px,#46379a 158px,#3c349b 254px,#3a349b 520px)"></i>
<i style="background:linear-gradient(#f7c943 9px,#f6d446 56px,#f8c743 105px,#f9be40 114px,#fbac3c 122px,#f68b45 130px,#dc6f65 135px,#a05a86 141px,#694495 149px,#4e3a9a 155px,#46379a 160px,#3d349b 250px,#3c349b 520px)"></i>
<i style="background:linear-gradient(#f7c943 9px,#f6d446 56px,#f8c442 106px,#fab43e 118px,#f9a13f 125px,#f68e44 129px,#e07162 134px,#ba627c 138px,#94558a 142px,#724893 147px,#533b9a 155px,#47379a 163px,#3e359b 245px,#3d349b 520px)"></i>
<i style="background:linear-gradient(#f7c943 9px,#f6d447 56px,#f8c643 102px,#fab83f 115px,#faa43e 123px,#f68d44 128px,#e07162 133px,#ba627c 137px,#94558a 141px,#6d4594 147px,#553c99 155px,#47379a 167px,#3f359b 241px,#3e359b 520px)"></i>
<i style="background:linear-gradient(#f7c943 9px,#f6d447 56px,#f7cb44 101px,#f9b93f 113px,#faa63e 121px,#f79044 126px,#e3745e 131px,#a15a86 138px,#834f8e 142px,#684396 147px,#573c99 155px,#47389a 172px,#40359a 236px,#3f359b 520px)"></i>
<i style="background:linear-gradient(#f7c943 9px,#f5d447 56px,#f7cc44 101px,#fbaa3d 118px,#f68e44 125px,#e17161 130px,#a75c84 136px,#7f4e8f 141px,#664296 146px,#573c99 155px,#47379a 179px,#40359a 233px,#40359a 520px)"></i>
<i style="background:linear-gradient(#f7c943 9px,#f5d547 58px,#f7cc44 101px,#faa93d 118px,#f79044 124px,#e3745e 129px,#a05a86 136px,#7a4b90 141px,#644197 146px,#47379a 181px,#41369a 520px)"></i>
<i style="background:linear-gradient(#f7c943 9px,#f6d447 56px,#f7cc44 101px,#faa93d 118px,#f68d45 125px,#e17161 130px,#9e5987 137px,#7c4c90 142px,#654297 147px,#47379a 180px,#42369a 520px)"></i>
<i style="background:linear-gradient(#f7c943 9px,#f6d346 53px,#f7cc44 101px,#fbaa3d 120px,#f78f44 127px,#e3735f 132px,#ab5d82 138px,#834f8e 143px,#694395 148px,#5b3d99 154px,#47379a 176px,#43369a 520px)"></i>
<i style="background:linear-gradient(#f7c943 5px,#f6d346 50px,#f7ca44 100px,#f9ba3f 115px,#faa53e 124px,#f78f44 129px,#e2735f 134px,#aa5d82 140px,#824e8e 145px,#684396 150px,#5b3d99 156px,#49389a 175px,#43369a 224px,#44369a 520px)"></i>
<i style="background:linear-gradient(#f7c943 5px,#f6d246 48px,#f7c843 98px,#f9bc40 116px,#faa43e 126px,#f68d45 131px,#e07062 136px,#a55b84 142px,#784a91 148px,#624097 153px,#523b9a 167px,#48389a 188px,#45379a 520px)"></i>
<i style="background:linear-gradient(#f7c843 5px,#f6d145 46px,#f8c342 106px,#fab83f 119px,#faa53e 127px,#f68e44 132px,#e07162 137px,#a65b84 143px,#784a91 149px,#624097 154px,#543b99 167px,#47379a 197px,#46379a 520px)"></i>
<i style="background:linear-gradient(#f7c843 5px,#f7cf45 45px,#f9bf41 113px,#faa93d 126px,#f68b45 133px,#dc6f65 138px,#a05a86 144px,#7a4b90 149px,#634197 154px,#573c99 165px,#48389a 200px,#47379a 520px)"></i>
<i style="background:linear-gradient(#f7c843 5px,#f7cd44 44px,#f9bf41 113px,#fbaa3d 125px,#f68d45 132px,#df7063 137px,#a45b84 143px,#774a91 149px,#624097 154px,#48389a 202px,#47379a 520px)"></i>
<i style="background:linear-gradient(#f7c843 5px,#f7cb44 44px,#f9be41 113px,#faa83d 125px,#f78f44 131px,#e3735f 136px,#a05a86 143px,#744892 149px,#634197 153px,#4b399a 198px,#47379a 520px)"></i>
<i style="background:linear-gradient(#f7c843 5px,#f7c943 58px,#f9be40 114px,#faa83d 126px,#f68e44 132px,#e07162 137px,#a65b84 143px,#784a91 149px,#634197 154px,#4e3a9a 193px,#47379a 520px)"></i>
<i style="background:linear-gradient(#f8c743 5px,#f9be40 115px,#faa73e 127px,#f68b45 133px,#e3745e 137px,#aa5d82 143px,#804e8e 148px,#664296 153px,#5d3e99 158px,#523b9a 187px,#49389a 281px,#47389a 520px)"></i>
<i style="background:linear-gradient(#f8c743 5px,#f9bd40 114px,#faa73e 126px,#f68d45 132px,#df7063 137px,#a45b85 143px,#7d4d8f 148px,#654297 153px,#543b99 182px,#4a389a 269px,#48389a 520px)"></i>
<i style="background:linear-gradient(#f8c743 9px,#f9bd40 112px,#faa83d 124px,#f79044 130px,#e4745d 135px,#a25a85 142px,#834f8e 146px,#684396 151px,#5e3f99 156px,#583c99 173px,#4b399a 268px,#48389a 520px)"></i>
<i style="background:linear-gradient(#f8c643 9px,#f9bd40 110px,#faa83d 122px,#f79044 128px,#dd6f64 134px,#a35b85 140px,#6e4694 148px,#5d3e99 156px,#4e3a9a 232px,#48389a 520px)"></i>
<i style="background:linear-gradient(#f8c643 9px,#f9bd40 107px,#faa93d 119px,#f68e44 126px,#e2735f 131px,#a15a86 138px,#6d4594 146px,#5e3e99 154px,#4e399a 256px,#48389a 520px)"></i>
<i style="background:linear-gradient(#f8c642 9px,#f9bd40 104px,#faa93d 116px,#f68e44 123px,#e3735f 128px,#ac5d82 134px,#794b91 141px,#654197 146px,#5e3e99 152px,#4e3a9a 257px,#49389a 520px)"></i>
<i style="background:linear-gradient(#f8c542 9px,#f9bd40 100px,#faa73e 113px,#f68c45 120px,#e2725f 125px,#bf647a 129px,#9a5788 133px,#794b91 138px,#654297 143px,#5e3e99 149px,#4e3a9a 264px,#49389a 517px)"></i>
<i style="background:linear-gradient(#f8c542 9px,#f9bd40 98px,#faa93d 109px,#f68d44 116px,#dd6f64 122px,#9f5987 129px,#6f4694 137px,#5e3f99 145px,#4f3a9a 263px,#49389a 517px)"></i>
<i style="background:linear-gradient(#f8c542 9px,#f9bd40 97px,#faa83d 108px,#f68e44 114px,#e27260 119px,#a05986 126px,#6d4594 134px,#5e3f99 142px,#4f3a9a 263px,#49389a 517px)"></i>
<i style="background:linear-gradient(#f8c442 9px,#f9bd40 96px,#faa83d 107px,#f79044 113px,#dd7064 119px,#c26578 122px,#9c5887 126px,#6c4594 134px,#5e3f99 141px,#503a9a 263px,#4a389a 517px)"></i>
<i style="background:linear-gradient(#f8c442 9px,#f9bc40 98px,#faa83d 109px,#f68c45 116px,#e2725f 121px,#a25a85 128px,#6f4694 136px,#5e3e99 144px,#503a9a 263px,#4a389a 517px)"></i>
<i style="background:linear-gradient(#f8c442 9px,#f9bd40 100px,#faa83d 112px,#f68c45 119px,#e07162 124px,#9d5987 131px,#6b4495 139px,#5e3f99 146px,#513a9a 264px,#4a389a 517px)"></i>
<i style="background:linear-gradient(#f8c442 9px,#f9bd40 103px,#faa63e 115px,#f68c45 121px,#e07162 126px,#9d5987 133px,#6a4495 141px,#5e3e99 148px,#513a9a 273px,#4b389a 517px)"></i>
<i style="background:linear-gradient(#f8c442 9px,#f9bd40 105px,#faa93d 116px,#f79044 122px,#e3735e 127px,#a05a86 134px,#6f4693 141px,#5e3f99 148px,#513a9a 273px,#4b399a 517px)"></i>
<i style="background:linear-gradient(#f8c342 9px,#f9bd40 106px,#faa83d 117px,#f78f44 123px,#e2735f 128px,#9f5987 135px,#6f4694 142px,#5e3f99 149px,#513b9a 273px,#4b399a 517px)"></i>
<i style="background:linear-gradient(#f8c342 9px,#f9bd40 107px,#faa83d 118px,#f78f44 124px,#e17260 129px,#9e5987 136px,#6e4694 143px,#5e3f99 150px,#523b9a 274px,#4b399a 517px)"></i>
<i style="background:linear-gradient(#f8c342 9px,#f9bd40 108px,#faa73e 119px,#f68c45 125px,#dc6f65 130px,#a15a86 136px,#6e4694 143px,#5e3f99 150px,#523b9a 274px,#4c399a 517px)"></i>
<i style="background:linear-gradient(#f8c342 9px,#f9bd40 108px,#faa73e 119px,#f68c45 125px,#dc6f65 130px,#a15a86 136px,#6e4694 143px,#5e3f99 150px,#523b9a 275px,#4c399a 517px)"></i>
<i style="background:linear-gradient(#f8c342 9px,#f9bd40 108px,#faa73e 119px,#f68c45 125px,#dc6f65 130px,#a15a86 136px,#6e4694 143px,#5e3f99 150px,#533b9a 276px,#4c399a 517px)"></i>
<i style="background:linear-gradient(#f8c342 9px,#f9bd40 108px,#faa73e 119px,#f68c45 125px,#dc6f64 130px,#a15a86 136px,#6f4694 143px,#5f3f99 150px,#523b9a 305px,#4d399a 517px)"></i>
<i style="background:linear-gradient(#f8c342 9px,#f9bd40 108px,#faa83d 119px,#f78f44 125px,#e27260 130px,#9e5987 137px,#6f4694 144px,#5f3f99 151px,#523b9a 306px,#4d399a 517px)"></i>
<i style="background:linear-gradient(#f8c242 9px,#f9bd40 109px,#faa93d 120px,#f79044 126px,#e3745e 131px,#a15a86 138px,#6c4595 146px,#5e3f99 153px,#523b9a 307px,#4d399a 517px)"></i>
<i style="background:linear-gradient(#f8c242 9px,#f9bc40 111px,#faa63e 122px,#f68b45 128px,#db6f65 133px,#a05a86 139px,#6e4694 146px,#5f3f99 153px,#523b9a 307px,#4e399a 517px)"></i>
<i style="background:linear-gradient(#f8c242 9px,#f9bd40 111px,#faa73e 122px,#f68c45 128px,#dc6f65 133px,#a15a86 139px,#6e4694 146px,#5f3f99 153px,#4e399a 517px)"></i>
<i style="background:linear-gradient(#f8c241 9px,#f9bd40 110px,#faa83d 121px,#f78f44 127px,#e2725f 132px,#9f5987 139px,#6e4694 146px,#5f3f99 153px,#4e3a9a 517px)"></i>
<i style="background:linear-gradient(#f8c241 9px,#f9bc40 109px,#faa63e 121px,#f68b45 127px,#dc6f65 132px,#a15a86 138px,#6f4693 145px,#5f3f98 152px,#4f3a9a 517px)"></i>
<i style="background:linear-gradient(#f8c141 9px,#f9bc40 103px,#faa63e 119px,#f68b45 126px,#de7063 131px,#a35b85 137px,#6c4594 145px,#5e3f99 152px,#4f3a9a 517px)"></i>
<i style="background:linear-gradient(#f8c141 9px,#f9bc40 98px,#faa63e 112px,#f68e44 121px,#dd7064 129px,#a05a86 136px,#6c4594 144px,#5f3f99 151px,#4f3a9a 517px)"></i>
<i style="background:linear-gradient(#f8c141 9px,#f9bc40 95px,#faa73e 107px,#f68d44 114px,#e17161 121px,#a25a85 131px,#6e4694 141px,#5f3f99 149px,#4f3a9a 517px)"></i>
<i style="background:linear-gradient(#f8c141 9px,#f9bd40 92px,#faa93d 103px,#f78e44 110px,#df7063 116px,#be637a 120px,#9f5987 124px,#6f4694 135px,#5f3f98 145px,#503a9a 517px)"></i>
<i style="background:linear-gradient(#f8c241 9px,#f9bc40 92px,#faa63e 103px,#f68b45 109px,#de7063 114px,#b9627c 118px,#965689 122px,#784a91 127px,#664296 132px,#5f3f98 138px,#503a9a 517px)"></i>
<i style="background:linear-gradient(#f8c241 9px,#f9bc40 93px,#faa83d 104px,#f79044 110px,#de7063 116px,#9e5987 123px,#6f4694 131px,#5f3f98 139px,#503a9a 517px)"></i>
<i style="background:linear-gradient(#f8c241 9px,#f9bc40 95px,#faa73e 107px,#f68a46 114px,#e17161 119px,#c06479 123px,#9c5888 127px,#6c4594 135px,#5f3f98 142px,#513a9a 517px)"></i>
<i style="background:linear-gradient(#f8c242 9px,#f9bc40 98px,#faa83d 110px,#f68d45 117px,#e17161 122px,#9e5987 129px,#6e4694 136px,#5f3f99 143px,#513a9a 517px)"></i>
<i style="background:linear-gradient(#f8c242 9px,#f9bc40 101px,#faa73e 112px,#f68c45 118px,#dc6f65 123px,#a15a86 129px,#6e4694 136px,#5f3f98 143px,#513b9a 517px)"></i>
<i style="background:linear-gradient(#f8c242 9px,#f9bd40 101px,#faa73e 112px,#f68c45 118px,#dc6f65 123px,#a15a86 129px,#6e4694 136px,#5f3f98 143px,#523b9a 517px)"></i>
<i style="background:linear-gradient(#f8c342 9px,#f9bd40 100px,#faa83d 111px,#f78f44 117px,#e17260 122px,#9e5987 129px,#6e4694 136px,#5f3f98 143px,#523b9a 517px)"></i>
<i style="background:linear-gradient(#f8c342 9px,#f9bc40 100px,#faa83d 110px,#f79044 116px,#e2735f 121px,#9f5987 128px,#6f4694 135px,#5f3f98 142px,#523b9a 517px)"></i>
<i style="background:linear-gradient(#f8c342 9px,#f9bd40 99px,#faa73e 110px,#f68c45 116px,#dd6f64 121px,#a15a86 127px,#704693 134px,#5f3f98 141px,#533b9a 517px)"></i>
<i style="background:linear-gradient(#f8c342 9px,#f9bc40 99px,#faa93d 109px,#f79044 115px,#e3735e 120px,#a05a86 127px,#724793 134px,#694396 140px,#684396 160px,#5f3f99 172px,#5a3d99 245px,#533b99 517px)"></i>
<i style="background:linear-gradient(#f8c442 5px,#f9bd40 99px,#faa73e 110px,#f68e44 116px,#e2735f 121px,#be637a 125px,#995788 129px,#85508d 133px,#7c4c90 140px,#764992 161px,#5f3f98 174px,#533b99 517px)"></i>
<i style="background:linear-gradient(#f8c442 5px,#f9bc40 101px,#faa83d 112px,#f79044 118px,#e4755d 123px,#c26478 127px,#9f5987 131px,#92548a 134px,#7b4c90 162px,#5f3f98 177px,#543b99 517px)"></i>
<i style="background:linear-gradient(#f8c442 5px,#f9bd40 103px,#faa63e 115px,#f68d44 121px,#e3745e 126px,#bc637b 131px,#995788 137px,#7f4d8f 162px,#5f3f98 177px,#543b99 517px)"></i>
<i style="background:linear-gradient(#f8c442 5px,#f9bd40 105px,#faa93d 117px,#f68d44 125px,#e27260 131px,#c36578 136px,#a45b85 142px,#7d4d8f 165px,#5f3f98 178px,#543b99 517px)"></i>
<i style="background:linear-gradient(#f8c542 5px,#f9bc40 109px,#faa83d 122px,#f68d45 131px,#e27260 139px,#a65c84 150px,#5f3f98 177px,#553c99 517px)"></i>
<i style="background:linear-gradient(#f8c542 5px,#f9bd40 113px,#faa63e 130px,#f68c45 140px,#de7063 148px,#a05a86 156px,#694395 171px,#5f3f98 177px,#553c99 517px)"></i>
<i style="background:linear-gradient(#f8c542 5px,#f9bd40 119px,#faa83d 137px,#f78f44 145px,#e3735e 150px,#bf637a 154px,#a35b85 157px,#92548a 160px,#684396 175px,#5f3f98 182px,#553c99 517px)"></i>
<i style="background:linear-gradient(#f8c643 5px,#f9bd40 127px,#fbb03d 136px,#f89742 144px,#f68c45 146px,#e4745e 150px,#c06479 154px,#a45b85 157px,#945589 160px,#6e4694 178px,#5f3f98 193px,#563c99 517px)"></i>
<i style="background:linear-gradient(#f8c643 5px,#f9bd40 128px,#fab13d 136px,#f89742 144px,#f68c45 146px,#e4745d 150px,#c16479 154px,#a65b84 157px,#975689 160px,#5f3f98 196px,#563c99 517px)"></i>
<i style="background:linear-gradient(#f8c743 5px,#f9bd40 129px,#faa83d 140px,#f68b45 147px,#e3735f 152px,#be637a 157px,#985788 164px,#7b4c90 185px,#5f3f98 199px,#563c99 517px)"></i>
<i style="background:linear-gradient(#f8c743 5px,#f9bd40 130px,#faa83d 143px,#f78f44 151px,#e17161 158px,#be637a 163px,#9f5987 168px,#5f3f98 201px,#573c99 517px)"></i>
<i style="background:linear-gradient(#f8c743 5px,#f9bd40 134px,#faa73e 149px,#f68d44 157px,#e3735f 163px,#bb627b 168px,#9a5788 173px,#5f3f98 203px,#573c99 517px)"></i>
<i style="background:linear-gradient(#f7c843 9px,#f9bd40 136px,#faa73e 149px,#f68d44 157px,#e17161 163px,#bf637a 167px,#a65b84 170px,#985788 173px,#5f3f98 204px,#573c99 517px)"></i>
<i style="background:linear-gradient(#f7c843 9px,#f8c743 83px,#f9be40 133px,#fbaa3d 145px,#f79044 152px,#e27260 158px,#be637a 163px,#9b5888 169px,#624098 207px,#583c99 517px)"></i>
<i style="background:linear-gradient(#f7c943 9px,#f7c843 82px,#f9be41 130px,#fab63e 138px,#f89941 148px,#f48947 151px,#e2735f 155px,#bf637a 159px,#a65b84 162px,#975689 166px,#5f3f98 225px,#583c99 517px)"></i>
<i style="background:linear-gradient(#f7c943 9px,#f7c943 80px,#f8c141 123px,#f9bb40 134px,#f99d40 146px,#f68d45 149px,#e5765c 153px,#b9617c 158px,#a15a86 161px,#965689 164px,#7f4e8f 188px,#744892 215px,#5f3f98 228px,#583d99 517px)"></i>
<i style="background:linear-gradient(#f7c943 9px,#f7cb44 79px,#f8c342 118px,#f9bb40 134px,#f99c40 146px,#f68c45 149px,#e4745d 153px,#c06479 157px,#a55b84 160px,#955689 164px,#7c4c90 186px,#724893 215px,#5f3f98 227px,#593d99 513px)"></i>
<i style="background:linear-gradient(#f7c943 9px,#f7ce45 40px,#f8c642 114px,#f9bc40 134px,#f89a41 147px,#f68a46 150px,#e4755d 154px,#ba627c 159px,#a35a85 162px,#945589 166px,#6f4693 191px,#5f3f98 223px,#593d99 513px)"></i>
<i style="background:linear-gradient(#f7c943 9px,#f6d045 42px,#f8c141 128px,#fab63e 139px,#faa43e 147px,#f78f44 152px,#e07162 158px,#be637a 162px,#a15a86 166px,#694495 187px,#604098 195px,#593d99 513px)"></i>
<i style="background:linear-gradient(#f7c943 5px,#f6d145 44px,#f8c342 129px,#fab73f 142px,#faa53e 150px,#f68e44 156px,#e17161 162px,#ba627c 167px,#9f5987 171px,#90548b 175px,#704793 188px,#604098 208px,#5a3d99 513px)"></i>
<i style="background:linear-gradient(#f7c943 5px,#f6d246 49px,#f8c743 130px,#f9ba3f 144px,#faa33f 155px,#f68c45 161px,#e17161 167px,#bc627b 172px,#995788 177px,#8a518c 182px,#774a91 197px,#603f98 229px,#5a3d99 513px)"></i>
<i style="background:linear-gradient(#f7c943 5px,#f6d346 52px,#f7ca44 132px,#f9bf41 146px,#fbae3c 155px,#f79143 165px,#e5755c 171px,#bd637b 176px,#a35b85 179px,#90548b 184px,#5f3f98 237px,#5a3d99 513px)"></i>
<i style="background:linear-gradient(#f7c943 5px,#f6d346 55px,#f7cc44 139px,#f9b93f 154px,#f89b41 166px,#f68b45 169px,#e3745e 173px,#bf647a 177px,#a45b84 180px,#93558a 184px,#7d4c8f 202px,#714793 225px,#5f3f98 236px,#5b3d99 513px)"></i>
<i style="background:linear-gradient(#f7c943 5px,#f6d446 59px,#f7cd44 139px,#f7c843 145px,#fbad3c 159px,#f89941 166px,#f58947 169px,#e2735f 173px,#be637a 177px,#a45b85 180px,#93558a 184px,#6e4694 208px,#5f3f98 232px,#5b3d99 513px)"></i>
<i style="background:linear-gradient(#f7c943 5px,#f5d547 64px,#f7cc44 137px,#fbae3c 151px,#f68c45 165px,#df7063 171px,#bd637b 175px,#9b5888 180px,#603f98 210px,#5b3d99 513px)"></i>
<i style="background:linear-gradient(#f7c943 5px,#f5d547 65px,#f7cc44 123px,#f8c241 138px,#fbac3c 147px,#f68d45 157px,#e17161 165px,#a05986 176px,#8b528c 190px,#614098 209px,#5b3e99 513px)"></i>
<i style="background:linear-gradient(#f7c943 5px,#f6d447 60px,#f7ce45 119px,#f9be41 136px,#fbac3c 144px,#f79542 151px,#f68b45 153px,#e17161 159px,#ce6970 163px,#c26478 168px,#b3607f 182px,#91548a 190px,#744892 204px,#5f3f98 230px,#5c3e99 513px)"></i>
<i style="background:linear-gradient(#f7c943 5px,#f6d446 56px,#f7ce45 118px,#f9bf41 135px,#fbae3c 143px,#f89842 150px,#e07062 160px,#c96773 181px,#9b5888 189px,#85508d 200px,#764991 220px,#5f3f98 237px,#5c3e99 513px)"></i>
<i style="background:linear-gradient(#f7c943 5px,#f6d346 54px,#f7cd45 121px,#f9bb40 139px,#fbad3c 146px,#f79243 155px,#e87a57 163px,#d06a6e 181px,#9e5987 194px,#8e538b 202px,#603f98 243px,#5c3e99 513px)"></i>
<i style="background:linear-gradient(#f7c943 5px,#f6d246 55px,#f7cd44 123px,#f9bb40 143px,#fbac3c 151px,#f68c45 166px,#e07161 178px,#c86774 191px,#94558a 203px,#624097 255px,#5d3e99 513px)"></i>
<i style="background:linear-gradient(#f7c943 5px,#f6d045 56px,#f7cd45 117px,#f9bd40 146px,#f89a41 169px,#f58a46 173px,#e3735e 180px,#c96773 194px,#9d5987 202px,#94558a 206px,#834f8e 224px,#624097 291px,#5d3e99 513px)"></i>
<i style="background:linear-gradient(#f7c943 5px,#f7cc44 116px,#f9bc40 151px,#f89a41 168px,#f58a46 172px,#e17161 180px,#c66675 193px,#9b5888 202px,#8e538b 214px,#6b4495 309px,#603f98 377px,#5d3e99 509px)"></i>
<i style="background:linear-gradient(#f7c943 5px,#f7cb44 113px,#f9be40 147px,#f9a040 162px,#f68b45 167px,#e27260 175px,#c16479 187px,#9d5887 197px,#965689 201px,#8f538b 242px,#7b4c90 289px,#714793 365px,#5f3f98 401px,#5e3e99 509px)"></i>
<i style="background:linear-gradient(#f7c943 5px,#f7c843 118px,#f9bd40 145px,#f9a13f 158px,#f68b45 163px,#e27260 171px,#ca6773 180px,#a65b84 187px,#9b5888 193px,#995788 241px,#824e8e 287px,#754992 380px,#5f3f98 415px,#5e3e99 509px)"></i>
<i style="background:linear-gradient(#f7c943 5px,#f7c843 110px,#f9be41 143px,#f99d40 158px,#ec7f52 164px,#e17260 169px,#c16479 185px,#b05f80 195px,#8a528c 279px,#764992 399px,#603f98 422px,#5e3e99 509px)"></i>
<i style="background:linear-gradient(#f7c943 5px,#f8c743 109px,#f9be40 143px,#fab63e 149px,#f99c40 158px,#e97b56 165px,#e17161 170px,#ae5e81 216px,#86508d 308px,#784a91 405px,#603f98 450px,#5e3f99 509px)"></i>
<i style="background:linear-gradient(#f7c843 5px,#f8c442 120px,#f9bd40 145px,#fbab3c 154px,#f68b45 162px,#e27260 171px,#c86774 203px,#b4607e 217px,#8b528c 307px,#744992 436px,#5f3f98 466px,#5f3f98 509px)"></i>
<i style="background:linear-gradient(#f7c843 5px,#f8c342 124px,#f9bd40 146px,#fbac3c 155px,#f68d44 163px,#e6775b 169px,#ce696f 185px,#c86774 201px,#b25f7f 225px,#90548a 303px,#764991 448px,#5f3f98 478px,#654197 509px)"></i>
<i style="background:linear-gradient(#f7c843 5px,#f9bd40 147px,#faa63e 159px,#f68c45 165px,#e07161 173px,#c56676 187px,#955689 301px,#764992 461px,#634197 484px,#724793 509px)"></i>
<i style="background:linear-gradient(#f8c743 5px,#f9bd40 149px,#faa83d 161px,#f68c45 168px,#e17161 175px,#cd6970 182px,#c36578 190px,#9a5788 298px,#8b528c 394px,#704793 484px,#764992 509px)"></i>
<i style="background:linear-gradient(#f8c743 5px,#f9bd40 152px,#fab33e 159px,#f89b41 168px,#f2874a 173px,#e17161 182px,#ce696f 192px,#c26578 207px,#9e5987 293px,#8e538b 400px,#764a91 480px,#774a91 509px)"></i>
<i style="background:linear-gradient(#f8c843 5px,#f8c642 74px,#fab63e 155px,#faa33f 170px,#f68c45 180px,#e17161 192px,#c36578 215px,#a15a86 290px,#93558a 400px,#7a4b90 475px,#794b90 509px)"></i>
<i style="background:linear-gradient(#f7c843 5px,#f9be40 119px,#f99d40 178px,#f68c45 187px,#e27260 196px,#c36577 216px,#a35b85 288px,#975689 400px,#7d4d8f 470px,#7b4b90 509px)"></i>
<i style="background:linear-gradient(#f7c843 5px,#f7c943 62px,#f9bd40 114px,#fbad3c 128px,#f89642 145px,#f0834e 181px,#dc6f65 194px,#c46577 208px,#a65b84 286px,#9a5888 400px,#814e8e 463px,#7c4c90 509px)"></i>
<i style="background:linear-gradient(#f7c843 5px,#f7cb44 50px,#f9bd40 110px,#fbac3c 121px,#f79343 132px,#e97b57 141px,#db6f65 156px,#d36b6b 182px,#c16479 205px,#a95c83 281px,#9b5888 400px,#824f8e 463px,#7d4d8f 509px)"></i>
<i style="background:linear-gradient(#f7c843 5px,#f7ce45 50px,#f9be40 106px,#faa73e 119px,#f68d44 126px,#de7063 135px,#cf6a6f 139px,#c76674 145px,#a15a86 328px,#9b5888 402px,#844f8e 464px,#7f4d8f 509px)"></i>
<i style="background:linear-gradient(#f7c843 5px,#f6d045 46px,#f9be41 102px,#faa83d 115px,#f68d44 122px,#e17161 129px,#ca6872 135px,#c36578 140px,#9f5987 332px,#9a5888 394px,#844f8d 466px,#804e8f 509px)"></i>
<i style="background:linear-gradient(#f7c943 5px,#f6d145 41px,#f7cc44 78px,#f9bf41 98px,#faa63e 112px,#f68a46 119px,#e17160 125px,#cb6872 131px,#c36577 136px,#804e8e 513px)"></i>
<i style="background:linear-gradient(#f7c943 5px,#f6d145 39px,#f7c943 82px,#f9bb40 98px,#f89a41 112px,#f68c45 115px,#e07161 121px,#cb6872 126px,#c36577 131px,#814e8e 513px)"></i>
<i style="background:linear-gradient(#f7c943 5px,#f6d145 40px,#f8c241 89px,#faa93d 103px,#f68c45 111px,#e07162 117px,#cb6871 121px,#c36578 126px,#b7617d 159px,#a75c83 289px,#985788 340px,#824e8e 513px)"></i>
<i style="background:linear-gradient(#f7c943 5px,#f6d145 40px,#f9bf41 90px,#faa73e 102px,#f68d45 108px,#df7062 114px,#c86774 119px,#c26578 123px,#b35f7f 170px,#834f8e 513px)"></i>
<i style="background:linear-gradient(#f7c943 5px,#f6d145 40px,#f9bf41 89px,#faa63e 101px,#f68b45 107px,#de7064 113px,#ca6872 117px,#c26578 122px,#aa5d82 204px,#834f8e 513px)"></i>
<i style="background:linear-gradient(#f7c943 5px,#f6d146 41px,#f9bf41 89px,#faa73e 101px,#f58a46 108px,#e07161 114px,#cb6872 119px,#c36577 124px,#a65c84 206px,#a05a86 305px,#844f8e 513px)"></i>
<i style="background:linear-gradient(#f7c943 5px,#f6d246 42px,#f8c342 88px,#fab63e 97px,#f89a41 108px,#f68c45 111px,#e07162 118px,#ce696f 126px,#c16479 139px,#a35a85 210px,#9d5987 329px,#844f8d 513px)"></i>
<i style="background:linear-gradient(#f7c943 5px,#f6d246 42px,#f7c843 86px,#fab53e 101px,#f68b45 116px,#e07062 129px,#c16479 144px,#9f5986 211px,#9c5888 330px,#85508d 513px)"></i>
<i style="background:linear-gradient(#f7c943 5px,#f6d346 43px,#f7cb44 86px,#f9ba3f 102px,#fbac3c 110px,#f68c45 126px,#e17161 134px,#c96773 142px,#c16479 148px,#9c5888 211px,#9a5888 332px,#86508d 517px)"></i>
<i style="background:linear-gradient(#f7ca44 5px,#f6d346 45px,#f7cc44 84px,#f9bc40 106px,#f89941 123px,#f68b45 127px,#e4755d 135px,#d36b6c 142px,#c16479 156px,#9d5987 195px,#87508d 517px)"></i>
<i style="background:linear-gradient(#f7ca44 5px,#f6d446 47px,#f7cd44 83px,#f8c041 105px,#f9a23f 118px,#f68b45 123px,#eb7d54 127px,#e17161 135px,#c06479 162px,#9d5887 191px,#88518c 517px)"></i>
<i style="background:linear-gradient(#f7ca44 5px,#f5d447 50px,#f7cb44 97px,#f8c342 106px,#f9a23f 119px,#f58a46 124px,#eb7e53 127px,#e3745e 132px,#d26b6c 154px,#9c5887 185px,#8a518c 517px)"></i>
<i style="background:linear-gradient(#f7ca44 5px,#f5d547 50px,#f7cb44 104px,#faa93d 118px,#f68d45 125px,#e97b57 131px,#da6e66 153px,#c16479 164px,#9a5888 183px,#8b528c 517px)"></i>
<i style="background:linear-gradient(#f7ca44 5px,#f5d547 50px,#f7cc44 107px,#fbad3c 119px,#f79343 129px,#e97b57 149px,#c26478 166px,#9b5888 183px,#8c528c 517px)"></i>
<i style="background:linear-gradient(#f7ca44 5px,#f5d547 51px,#f7cd44 109px,#fbac3c 129px,#f79243 147px,#e07162 157px,#c06479 170px,#9a5888 185px,#8d538b 517px)"></i>
<i style="background:linear-gradient(#f7ca44 5px,#f5d547 54px,#f7c943 125px,#faa83d 144px,#f68b45 151px,#e17161 159px,#9a5888 187px,#8e538b 517px)"></i>
<i style="background:linear-gradient(#f7ca44 5px,#f5d647 56px,#f7cc44 128px,#faa83d 146px,#f68b45 153px,#e17161 161px,#9a5888 187px,#8f538b 517px)"></i>
<i style="background:linear-gradient(#f7ca44 5px,#f5d648 59px,#f7cc44 129px,#faa83d 148px,#f68b45 155px,#e17161 163px,#be637a 176px,#a25a85 184px,#9d5887 188px,#90548a 517px)"></i>
<i style="background:linear-gradient(#f7ca44 5px,#f5d648 63px,#f7cc44 129px,#fab63e 144px,#f9a33f 152px,#f68d44 157px,#e17260 166px,#c26478 178px,#ad5e81 186px,#a15a86 196px,#995788 233px,#91548a 517px)"></i>
<i style="background:linear-gradient(#f7ca44 5px,#f5d648 66px,#f7cb44 130px,#fab63e 147px,#f9a23f 156px,#f68b45 162px,#e07162 171px,#c26478 183px,#a65c84 203px,#9a5888 238px,#92558a 517px)"></i>
<i style="background:linear-gradient(#f7ca44 5px,#f5d748 68px,#f7cb44 133px,#fab73f 150px,#faa33f 160px,#f68e44 166px,#e27260 174px,#c46577 187px,#ab5d82 207px,#9f5987 231px,#9b5888 259px,#94558a 517px)"></i>
<i style="background:linear-gradient(#f7ca44 5px,#f5d748 69px,#f7cc44 134px,#f9a13f 163px,#f68b45 168px,#e07162 176px,#c16479 193px,#ae5e81 211px,#a25a85 235px,#9c5887 276px,#955689 517px)"></i>
<i style="background:linear-gradient(#f7ca44 5px,#f5d748 70px,#f7cc44 133px,#fbac3c 145px,#f68c45 163px,#e17161 175px,#c26478 193px,#b25f7f 210px,#9f5987 275px,#965689 517px)"></i>
<i style="background:linear-gradient(#f7ca44 5px,#f5d748 68px,#f7cd44 132px,#f7c843 135px,#fbad3c 141px,#f0834d 155px,#e07161 172px,#c76675 185px,#be637a 194px,#ab5d82 228px,#a15a86 274px,#975689 513px)"></i>
<i style="background:linear-gradient(#f7ca44 5px,#f5d748 66px,#f7cd44 131px,#f8c743 135px,#fbaa3d 141px,#f68d45 148px,#ea7c55 154px,#e07162 171px,#be637a 193px,#ad5e81 228px,#a35b85 274px,#985788 513px)"></i>
<i style="background:linear-gradient(#f7ca44 5px,#f5d648 64px,#f7cd44 132px,#fbac3c 143px,#f68c45 154px,#ee8150 166px,#e17161 174px,#c56676 187px,#bf637a 194px,#af5e80 226px,#a55b84 275px,#995788 513px)"></i>
<i style="background:linear-gradient(#f7ca44 5px,#f5d648 63px,#f7cd44 135px,#f8c643 140px,#fbad3c 148px,#f68d45 165px,#e27260 175px,#c16479 193px,#a65b84 284px,#9b5888 513px)"></i>
<i style="background:linear-gradient(#f7ca44 5px,#f5d648 62px,#f7cd44 140px,#f8c642 145px,#fbad3c 152px,#f68e44 160px,#ea7d55 166px,#c26478 193px,#a75c83 285px,#9c5887 513px)"></i>
<i style="background:linear-gradient(#f7ca44 5px,#f5d647 61px,#f7cc44 142px,#f7c843 145px,#faa93d 152px,#f78f44 158px,#e77859 164px,#c46577 196px,#a95c83 286px,#9e5987 513px)"></i>
<i style="background:linear-gradient(#f7ca44 2px,#f5d647 61px,#f7cc44 135px,#f8c141 142px,#f89b41 153px,#f68a46 157px,#e4755d 164px,#c36578 203px,#b35f7f 243px,#a95c83 298px,#9f5987 513px)"></i>
<i style="background:linear-gradient(#f7c943 2px,#f5d647 61px,#f7cc44 123px,#f8c542 129px,#fbad3c 137px,#f68a46 149px,#e27260 163px,#c36578 203px,#aa5d82 299px,#a15a86 513px)"></i>
<i style="background:linear-gradient(#f7c943 2px,#f5d647 61px,#f7cd44 106px,#f8c141 119px,#fbab3c 127px,#f68b45 137px,#e5765b 148px,#ce696f 174px,#b8617d 229px,#ac5d81 285px,#a25a85 513px)"></i>
<i style="background:linear-gradient(#f7c943 2px,#f5d647 61px,#f7cd44 106px,#faa73d 120px,#f58a46 129px,#e5765c 137px,#ca6872 159px,#ab5d82 299px,#a45b85 513px)"></i>
<i style="background:linear-gradient(#f7c943 2px,#f5d547 59px,#f7cc44 107px,#f8c743 110px,#fbad3c 115px,#f58a46 123px,#e97b56 128px,#c56676 149px,#ac5d81 299px,#a65b84 513px)"></i>
<i style="background:linear-gradient(#f7c943 2px,#f5d547 56px,#f7cd44 108px,#f8c743 111px,#faa93d 115px,#f68b45 120px,#e87958 125px,#c46577 149px,#ae5e81 294px,#a75c83 513px)"></i>
<i style="background:linear-gradient(#f7c943 2px,#f5d447 53px,#f7cd44 108px,#f8c743 111px,#fbab3d 114px,#f68e44 117px,#e97b57 122px,#e07162 129px,#c46577 152px,#af5e80 285px,#a95c83 513px)"></i>
<i style="background:linear-gradient(#f7c943 2px,#f6d447 51px,#f7cc44 107px,#f8c442 111px,#faa43e 114px,#f38849 117px,#e77958 121px,#c66675 155px,#b15f80 277px,#aa5d82 513px)"></i>
<i style="background:linear-gradient(#f7c943 2px,#f6d446 49px,#f7cc44 99px,#f8c141 106px,#faa83d 111px,#f38749 116px,#e87958 120px,#c96773 156px,#b25f7f 265px,#ac5d81 513px)"></i>
<i style="background:linear-gradient(#f7c943 2px,#f6d346 47px,#f7cc44 94px,#fbaa3d 107px,#f58a46 114px,#e6785a 120px,#c56676 171px,#b4607e 256px,#ae5e81 513px)"></i>
<i style="background:linear-gradient(#f7c943 5px,#f6d346 47px,#f7c943 91px,#faa43e 107px,#f68d44 112px,#e6775a 119px,#c76675 166px,#b6607e 243px,#af5e80 513px)"></i>
<i style="background:linear-gradient(#f7c943 5px,#f6d346 47px,#f8c542 89px,#faa63e 105px,#f68b45 111px,#e77959 117px,#c76674 159px,#b7617d 234px,#b15f7f 513px)"></i>
<i style="background:linear-gradient(#f7c943 5px,#f6d346 48px,#f8c141 91px,#faa73e 105px,#f58a46 113px,#e97b56 120px,#c66675 153px,#b8617c 226px,#b25f7f 513px)"></i>
<i style="background:linear-gradient(#f7c943 2px,#f6d346 47px,#f8c342 92px,#fbae3c 106px,#f68b45 121px,#e17260 132px,#c56576 149px,#ba627c 219px,#b4607e 513px)"></i>
<i style="background:linear-gradient(#f7c943 2px,#f6d346 47px,#f8c643 97px,#faa93d 117px,#f89941 123px,#e17161 134px,#c46577 147px,#bc627b 211px,#b6607e 513px)"></i>
<i style="background:linear-gradient(#f7c943 2px,#f6d346 47px,#f7c943 104px,#f9bd40 112px,#f89b41 125px,#f68b45 128px,#e17160 134px,#c46577 145px,#bd637a 197px,#b7617d 513px)"></i>
<i style="background:linear-gradient(#f7ca44 2px,#f6d446 47px,#f7cc44 107px,#fbae3c 119px,#f89742 126px,#e07162 134px,#c96773 140px,#c46577 144px,#b9617c 513px)"></i>
<i style="background:linear-gradient(#f7ca44 2px,#f6d447 48px,#f7cc44 108px,#fbae3c 119px,#f78f44 127px,#e07162 134px,#cc6871 139px,#c46577 143px,#ba627c 513px)"></i>
<i style="background:linear-gradient(#f7ca44 2px,#f5d547 49px,#f7cc44 111px,#fbad3c 121px,#f68d45 129px,#df7063 136px,#cb6872 141px,#c46576 145px,#bc627b 513px)"></i>
<i style="background:linear-gradient(#f7cb44 2px,#f5d547 51px,#f7cd44 113px,#f8c643 117px,#f99e40 128px,#f58a46 132px,#e17260 138px,#ce696f 144px,#c76675 152px,#be637a 513px)"></i>
<i style="background:linear-gradient(#f7cd44 5px,#f5d647 53px,#f7cc44 117px,#f8c241 123px,#fbac3c 128px,#f68c45 135px,#e17161 143px,#ca6872 163px,#c46577 208px,#bf637a 513px)"></i>
<i style="background:linear-gradient(#f7cf45 5px,#f5d648 56px,#f7cc44 123px,#f8c542 128px,#faa93d 133px,#f68d44 139px,#ea7c55 145px,#e17161 152px,#cf6a6e 170px,#c56676 229px,#c16479 513px)"></i>
<i style="background:linear-gradient(#f6d045 5px,#f5d648 60px,#f7cc44 127px,#f8c743 130px,#fbad3c 135px,#f79343 145px,#e6775b 154px,#d36b6b 174px,#c86774 229px,#c26478 513px)"></i>
<i style="background:linear-gradient(#f6d246 2px,#f5d748 60px,#f7cb44 126px,#faa43e 145px,#f58a46 151px,#e6775b 157px,#d76d69 176px,#ca6872 241px,#c46577 513px)"></i>
<i style="background:linear-gradient(#f6d346 2px,#f5d647 69px,#f8c743 126px,#f9bd40 136px,#faa73e 146px,#f68d45 152px,#e87a57 157px,#dc6f65 173px,#cd6970 239px,#c56676 513px)"></i>
<i style="background:linear-gradient(#f6d446 2px,#f5d547 78px,#f8c442 131px,#f9bc40 138px,#faa73e 147px,#f68d44 153px,#e97b56 158px,#e17161 172px,#d06a6e 236px,#c66675 513px)"></i>
<i style="background:linear-gradient(#f5d547 2px,#f5d547 76px,#f8c642 134px,#faa73e 149px,#f68b45 157px,#ea7c55 163px,#e17161 181px,#d26b6c 232px,#c76675 513px)"></i>
<i style="background:linear-gradient(#f5d547 2px,#f5d648 66px,#f7cb44 136px,#faaa3d 153px,#f68b45 163px,#ea7c55 169px,#e17161 188px,#d56c6a 229px,#c76774 513px)"></i>
<i style="background:linear-gradient(#f5d648 2px,#f7cc44 141px,#faaa3d 159px,#f68b45 169px,#ea7c56 175px,#e17161 194px,#d86d68 225px,#c86774 513px)"></i>
<i style="background:linear-gradient(#f5d748 2px,#f7cc44 144px,#fbab3d 164px,#f68d45 173px,#e97a57 179px,#e17161 198px,#c96773 513px)"></i>
<i style="background:linear-gradient(#f4d748 2px,#f7cc44 146px,#fbac3c 165px,#f68d45 174px,#e97b56 180px,#e17161 200px,#ca6872 513px)"></i>
<i style="background:linear-gradient(#f4d748 2px,#f7cc44 147px,#fbab3c 164px,#f68b45 174px,#e97b56 180px,#e17161 202px,#ca6872 513px)"></i>
<i style="background:linear-gradient(#f4d748 2px,#f6d447 113px,#f7cc44 147px,#fbab3d 163px,#f68d44 173px,#ea7d54 180px,#e3745e 199px,#cb6871 513px)"></i>
<i style="background:linear-gradient(#f4d748 2px,#f5d547 105px,#f7cc44 146px,#fbad3c 161px,#ee824f 179px,#e5765c 195px,#cc6871 510px)"></i>
<i style="background:linear-gradient(#f5d748 5px,#f5d648 98px,#f7cc44 145px,#fbac3c 161px,#f68b45 175px,#e77859 194px,#cd6970 510px)"></i>
<i style="background:linear-gradient(#f5d648 5px,#f5d648 93px,#f7cc44 145px,#fbac3c 162px,#f68e44 176px,#e97b56 198px,#d76d68 357px,#cd6970 510px)"></i>
<i style="background:linear-gradient(#f5d647 5px,#f5d748 91px,#f7cc44 146px,#fbac3c 163px,#f89941 173px,#f1854b 194px,#eb7e53 214px,#dd6f64 323px,#ce696f 510px)"></i>
<i style="background:linear-gradient(#f5d547 5px,#f5d748 89px,#f7cd44 146px,#fbad3c 166px,#f68b45 195px,#ee8150 222px,#e07062 313px,#ce696f 510px)"></i>
<i style="background:linear-gradient(#f5d447 5px,#f5d748 92px,#f7cd45 146px,#fbad3c 179px,#f68c45 202px,#eb7e53 244px,#e07062 316px,#cf6a6f 510px)"></i>
<i style="background:linear-gradient(#f6d446 5px,#f5d648 97px,#f7cd44 148px,#f9bb40 176px,#f89b41 191px,#f68b45 204px,#e97b57 246px,#de7063 328px,#d06a6e 505px)"></i>
<i style="background:linear-gradient(#f6d246 5px,#f5d647 104px,#f7cb44 157px,#f9be40 176px,#fbac3c 184px,#f68b45 202px,#e87a57 237px,#d06a6e 505px)"></i>
<i style="background:linear-gradient(#f6d146 5px,#f5d547 110px,#f7cb44 164px,#f9be41 176px,#fbac3c 184px,#f68b45 200px,#e87a57 222px,#d16a6d 505px)"></i>
<i style="background:linear-gradient(#f6d045 5px,#f5d447 112px,#f7cc44 166px,#fbad3c 184px,#f68b45 199px,#e77958 216px,#d16a6d 505px)"></i>
<i style="background:linear-gradient(#f7ce45 5px,#f6d447 68px,#f7cc44 166px,#f8c241 176px,#fbac3c 186px,#f68b45 200px,#e77859 216px,#d16b6d 505px)"></i>
<i style="background:linear-gradient(#f7cc44 5px,#f6d346 48px,#f7cc44 162px,#f9bf41 178px,#fbad3c 187px,#f68b45 202px,#e77959 218px,#d26b6c 505px)"></i>
<i style="background:linear-gradient(#f7ca44 5px,#f6d246 47px,#f7cc44 158px,#fbad3c 188px,#f2864a 208px,#e77859 225px,#d26b6c 500px)"></i>
<i style="background:linear-gradient(#f7c843 2px,#f6d145 46px,#f7cc44 153px,#fbae3c 175px,#f9a23f 190px,#f68b45 205px,#eb7d54 217px,#e77859 228px,#d36b6c 500px)"></i>
<i style="background:linear-gradient(#f8c743 2px,#f6cf45 46px,#f7c943 150px,#f9c041 161px,#fbac3c 171px,#f99d40 179px,#f68b45 198px,#e77959 222px,#d36b6b 500px)"></i>
<i style="background:linear-gradient(#f8c542 2px,#f7cd44 46px,#f8c643 146px,#f9bf41 158px,#fbac3c 168px,#f79443 181px,#e87958 213px,#d46c6b 496px)"></i>
<i style="background:linear-gradient(#f8c342 2px,#f7ca44 44px,#f8c442 146px,#f9bd40 158px,#fbac3c 166px,#f89742 177px,#e87a57 211px,#d46c6b 496px)"></i>
<i style="background:linear-gradient(#f8c141 2px,#f8c241 149px,#f9bc40 159px,#f99e40 175px,#f68b45 198px,#ee814f 209px,#e87a58 234px,#d46c6b 496px)"></i>
<i style="background:linear-gradient(#f9be40 2px,#f9c041 154px,#fbac3c 173px,#f48848 210px,#e77958 246px,#d56c6a 491px)"></i>
<i style="background:linear-gradient(#f9b93f 2px,#f9be40 162px,#faa63e 194px,#f68b45 211px,#e87958 246px,#d56c6a 491px)"></i>
<i style="background:linear-gradient(#fab23d 2px,#f9be40 173px,#f9ba3f 181px,#f68b45 207px,#ea7d55 231px,#e17161 314px,#d56c6a 486px)"></i>
<i style="background:linear-gradient(#fbaa3d 2px,#fbaf3d 139px,#f9be41 171px,#f9b93f 180px,#f58a46 200px,#e97b56 222px,#d66c69 481px)"></i>
<i style="background:linear-gradient(#faa63e 2px,#faa93d 150px,#fbac3c 157px,#f9bd40 164px,#f9be41 170px,#f9bb40 177px,#fbad3c 184px,#f2864b 198px,#e87a57 209px,#d66d69 476px)"></i>
<i style="width:2px;background:linear-gradient(#faa63e 2px,#faa63e 155px,#faa83d 158px,#f9bd40 164px,#f9be40 170px,#f9bb40 177px,#faa63e 186px,#ef824e 198px,#e87958 205px,#d66d69 476px)"></i>
</div>
<svg width="1561" height="2500" viewBox="0 0 1561 2500">
<mask id="mk" maskUnits="userSpaceOnUse" x="0" y="0" width="1561" height="2500"><rect width="1561" height="2500" fill="#fff"/><rect x="178.7" y="81.6" width="24.2" height="15" transform="rotate(-20 190.8 89.1)"/><rect x="247.1" y="213.2" width="24.2" height="15" transform="rotate(20 259.2 220.7)"/><rect x="274.8" y="246.8" width="24.2" height="15" transform="rotate(-5 286.9 254.3)"/><rect x="398.9" y="196.2" width="24.2" height="15" transform="rotate(10 411.0 203.7)"/><rect x="504.1" y="279.5" width="39.8" height="15" transform="rotate(15 524.0 287.0)"/><rect x="268.9" y="388.2" width="24.2" height="15"/><rect x="575.0" y="280.1" width="39.8" height="15" transform="rotate(5 594.9 287.6)"/><rect x="676.8" y="290.8" width="39.8" height="15" transform="rotate(-5 696.7 298.3)"/><rect x="769.4" y="129.2" width="24.2" height="15" transform="rotate(5 781.5 136.7)"/><rect x="958.4" y="62.3" width="24.2" height="15" transform="rotate(60 970.5 69.8)"/><rect x="1135.3" y="72.2" width="39.8" height="15" transform="rotate(-10 1155.2 79.7)"/><rect x="1385.4" y="59.5" width="24.2" height="15" transform="rotate(5 1397.5 67.0)"/><rect x="1136.9" y="253.1" width="39.8" height="15" transform="rotate(-25 1156.8 260.6)"/><rect x="1065.4" y="343.6" width="24.2" height="15" transform="rotate(15 1077.5 351.1)"/><rect x="1222.6" y="338.8" width="39.8" height="15" transform="rotate(85 1242.5 346.3)"/><rect x="1236.2" y="448.4" width="24.2" height="15" transform="rotate(75 1248.3 455.9)"/><rect x="178.9" y="749.0" width="24.2" height="15" transform="rotate(5 191.0 756.5)"/><rect x="363.9" y="763.0" width="39.8" height="15" transform="rotate(25 383.8 770.5)"/><rect x="474.4" y="803.2" width="24.2" height="15" transform="rotate(20 486.5 810.7)"/><rect x="502.1" y="890.1" width="24.2" height="15" transform="rotate(35 514.2 897.6)"/><rect x="642.1" y="828.5" width="39.8" height="15" transform="rotate(5 662.0 836.0)"/><rect x="747.5" y="831.5" width="24.2" height="15" transform="rotate(-5 759.6 839.0)"/><rect x="802.8" y="781.8" width="39.8" height="15" transform="rotate(-20 822.7 789.3)"/><rect x="747.5" y="1163.9" width="24.2" height="15" transform="rotate(-3 759.6 1171.4)"/><rect x="999.0" y="814.4" width="39.8" height="15"/><rect x="1119.4" y="904.1" width="24.2" height="15" transform="rotate(65 1131.5 911.6)"/><rect x="1271.3" y="1069.9" width="39.8" height="15"/><rect x="123.6" y="1294.1" width="24.2" height="15" transform="rotate(-5 135.7 1301.6)"/><rect x="365.2" y="1291.7" width="24.2" height="15" transform="rotate(-5 377.3 1299.2)"/><rect x="258.1" y="1376.5" width="24.2" height="15" transform="rotate(-10 270.2 1384.0)"/><rect x="437.2" y="1531.3" width="39.8" height="15" transform="rotate(-15 457.1 1538.8)"/><rect x="420.3" y="1557.5" width="24.2" height="15" transform="rotate(75 432.4 1565.0)"/><rect x="111.3" y="1692.0" width="39.8" height="15" transform="rotate(65 131.2 1699.5)"/><rect x="611.6" y="1296.8" width="24.2" height="15" transform="rotate(5 623.7 1304.3)"/><rect x="545.2" y="1446.5" width="24.2" height="15"/><rect x="733.3" y="1422.7" width="39.8" height="15" transform="rotate(5 753.2 1430.2)"/><rect x="853.3" y="1362.3" width="24.2" height="15" transform="rotate(-45 865.4 1369.8)"/><rect x="943.7" y="1486.7" width="39.8" height="15"/><rect x="1041.4" y="1478.1" width="24.2" height="15"/><rect x="1251.3" y="1484.1" width="24.2" height="15" transform="rotate(10 1263.4 1491.6)"/><rect x="1223.7" y="1580.0" width="39.8" height="15" transform="rotate(55 1243.6 1587.5)"/><rect x="1257.8" y="1653.0" width="39.8" height="15" transform="rotate(-80 1277.7 1660.5)"/><rect x="1012.3" y="1759.5" width="39.8" height="15" transform="rotate(-90 1032.2 1767.0)"/><rect x="322.1" y="2002.1" width="24.2" height="15" transform="rotate(5 334.2 2009.6)"/><rect x="129.7" y="2049.2" width="39.8" height="15" transform="rotate(15 149.6 2056.7)"/><rect x="103.6" y="2253.0" width="39.8" height="15" transform="rotate(85 123.5 2260.5)"/><rect x="392.0" y="2400.4" width="24.2" height="15" transform="rotate(-35 404.1 2407.9)"/><rect x="534.1" y="2021.8" width="24.2" height="15"/><rect x="788.7" y="1918.8" width="24.2" height="15" transform="rotate(5 800.8 1926.3)"/><rect x="755.6" y="2058.7" width="39.8" height="15" transform="rotate(25 775.5 2066.2)"/><rect x="882.7" y="2099.8" width="39.8" height="15" transform="rotate(-25 902.6 2107.3)"/><rect x="903.9" y="2299.2" width="24.2" height="15" transform="rotate(-5 916.0 2306.7)"/><rect x="1010.9" y="2031.5" width="24.2" height="15" transform="rotate(5 1023.0 2039.0)"/><rect x="1167.6" y="2027.9" width="24.2" height="15" transform="rotate(5 1179.7 2035.4)"/><rect x="1377.5" y="1985.9" width="24.2" height="15" transform="rotate(-70 1389.6 1993.4)"/></mask><path class="s" d="M133.3 79L130.1 568M134.3 82L136.7 566M159.8 77L156.6 565M160.8 80L163.2 563M186.2 79L183.0 566M187.2 82L189.6 564M212.6 76L209.4 567M213.6 79L216.0 565M239.1 74L235.9 568M240.1 77L242.5 566M265.5 75L262.3 565M266.5 78L268.9 563M292.0 77L288.8 563M293.0 80L295.4 561M318.4 75L315.2 564M319.4 78L321.8 562M344.9 76L341.7 568M345.9 79L348.3 566M371.3 78L368.1 565M372.3 81L374.7 563M397.8 75L394.6 566M398.8 78L401.2 564M424.2 77L421.0 567M425.2 80L427.6 565M450.7 72L447.5 568M451.7 75L454.1 566M477.1 64L473.9 565M478.1 67L480.5 563M503.6 66L500.4 566M504.6 69L507.0 564M530.0 59L526.8 567M531.0 62L533.4 565M556.5 61L553.3 568M557.5 64L559.9 566M582.9 63L579.7 565M583.9 66L586.3 563M609.4 63L606.2 566M610.4 66L612.8 564M635.9 65L632.6 567M636.9 68L639.2 565M662.3 66L659.1 568M663.3 69L665.7 566M688.8 64L685.6 565M689.8 67L692.2 563M715.2 74L712.0 570M716.2 77L718.6 568M741.7 71L738.5 571M742.7 74L745.1 569M768.1 73L764.9 568M769.1 76L771.5 566M794.6 70L791.4 565M795.6 73L798.0 563M821.0 72L817.8 566M822.0 75L824.4 564M847.5 74L844.3 567M848.5 77L850.9 565M873.9 75L870.7 570M874.9 78L877.3 568M900.4 77L897.2 567M901.4 80L903.8 565M926.8 74L923.6 571M927.8 77L930.2 569M953.3 72L950.1 575M954.3 75L956.7 573M979.7 74L976.5 572M980.7 77L983.1 570M1006.2 71L1003.0 569M1007.2 74L1009.6 567M1032.6 69L1029.4 567M1033.6 72L1036.0 565M1059.1 62L1055.9 568M1060.1 65L1062.5 566M1085.5 64L1082.3 572M1086.5 67L1088.9 570M1112.0 70L1108.8 566M1113.0 73L1115.4 564M1138.4 63L1135.2 567M1139.4 66L1141.8 565M1164.9 65L1161.7 566M1165.9 68L1168.3 564M1191.3 66L1188.1 567M1192.3 69L1194.7 565M1217.8 64L1214.6 566M1218.8 67L1221.2 564M1244.2 66L1241.0 567M1245.2 69L1247.6 565M1270.7 60L1267.5 568M1271.7 63L1274.1 566M1297.1 62L1293.9 569M1298.1 65L1300.5 567M1323.6 66L1320.4 568M1324.6 69L1327.0 566M1350.0 68L1346.8 569M1351.0 71L1353.4 567M1376.5 74L1373.3 570M1377.5 77L1379.9 568M1402.9 71L1399.7 573M1403.9 74L1406.3 571"/><path d="M113 46 L113 79 L118 79 L118 76 L124 76 L124 73 L133 73 L133 69 L141 69 L141 66 L156 66 L156 65 L231 65 L231 61 L258 61 L258 65 L315 65 L315 61 L328 61 L328 65 L425 65 L425 61 L444 61 L444 58 L466 58 L466 53 L524 53 L524 49 L584 49 L584 52 L639 52 L639 56 L682 56 L682 52 L692 52 L692 56 L713 56 L713 60 L851 60 L851 64 L947 64 L947 60 L1022 60 L1022 56 L1042 56 L1042 52 L1094 52 L1094 56 L1128 56 L1128 52 L1184 52 L1184 56 L1215 56 L1215 52 L1262 52 L1262 49 L1300 49 L1300 52 L1318 52 L1318 56 L1367 56 L1367 60 L1417 60 L1417 64 L1424 64 L1424 70 L1430 70 L1430 46Z" fill="#fff"/>
<path d="M113 592 L113 573 L266 573 L266 570 L322 570 L322 573 L591 573 L591 577 L601 577 L601 573 L707 573 L707 577 L744 577 L744 573 L774 573 L774 569 L786 569 L786 573 L850 573 L850 575 L902 575 L902 578 L927 578 L927 581 L960 581 L960 577 L1028 577 L1028 574 L1060 574 L1060 577 L1086 577 L1086 574 L1150 574 L1150 572 L1210 572 L1210 574 L1250 574 L1250 578 L1262 578 L1262 574 L1300 574 L1300 576 L1390 576 L1390 578 L1403 578 L1403 574 L1430 574 L1430 592Z" fill="#fff"/>
<path class="c" mask="url(#mk)" d="M791.0,572.5L794.5,569.1L796.9,565.5L800.6,558.5L801.2,555.5L799.0,538.5L793.9,516.5L790.8,488.5L791.4,455.5L787.7,427.5L785.4,393.5L782.7,368.5L780.9,360.5L772.2,342.5L770.2,336.5L767.7,314.5L766.7,313.5L761.5,312.0L758.5,310.1L746.5,297.3L744.5,297.5L735.5,301.7L726.5,302.0L721.5,301.2L713.5,296.9L711.5,296.5L701.5,301.1L698.5,301.5L693.5,300.2L682.5,294.7L680.5,294.3L667.5,300.4L664.5,300.8L658.5,300.1L647.5,308.0L641.5,310.1L637.5,309.0L628.4,302.5L621.5,300.2L615.5,297.2L608.5,292.4L604.5,287.6L602.5,287.2L600.5,288.9L595.1,298.5L591.4,302.5L575.5,318.0L564.5,324.8L561.5,325.4L557.5,325.0L544.5,319.9L538.5,316.2L535.5,315.8L533.4,316.5L525.5,328.1L520.5,343.7L514.5,349.3L510.5,351.8L506.5,351.1L498.5,345.8L489.5,336.2L487.5,336.7L483.5,340.0L480.5,341.2L478.4,340.5L472.1,334.5L468.5,333.2L460.5,344.9L452.5,349.0L448.5,350.0L445.5,348.5L437.5,340.3L429.5,336.3L425.5,335.8L405.5,341.9L386.5,342.4L381.3,343.5L377.4,345.5L368.5,356.1L365.5,357.2L356.6,357.5L354.5,358.3L352.5,361.1L349.6,367.5L346.9,381.5L344.5,384.5L340.5,386.8L337.5,386.9L335.5,385.7L322.5,372.3L320.5,370.7L318.5,370.2L316.4,371.5L314.2,382.5L311.5,385.7L309.5,386.3L307.5,386.0L303.8,382.5L302.5,382.2L294.5,388.1L277.5,389.7L274.5,388.6L273.0,386.5L269.2,368.5L265.7,339.5L263.7,294.5L262.5,289.6L261.5,289.3L260.0,294.5L255.1,339.5L248.7,376.5L246.9,381.5L244.5,382.5L242.5,381.1L239.8,377.5L233.0,365.5L225.2,347.5L217.2,321.5L214.5,316.7L209.0,309.5L207.2,308.5L198.5,307.3L195.5,307.6L190.4,309.5L188.4,311.5L189.4,318.5L188.2,321.5L183.5,325.1L180.5,326.1L178.5,325.8L166.5,320.0L156.5,313.0L151.4,308.5L144.7,293.5L138.5,271.6L133.8,263.5L131.5,263.2L126.4,264.5L123.7,266.5L117.5,273.3L113.5,275.6M257.5,216.8L255.5,220.6L247.1,246.5L249.1,254.5L252.5,257.7L254.5,258.6L258.5,253.8L259.3,250.5L258.5,218.6L257.5,216.8M198.5,247.4L198.5,253.8L199.5,256.5L200.5,257.0L202.5,254.5L202.5,249.2L201.5,247.3L198.5,247.4M918.6,577.5L915.3,540.5L911.1,524.5L908.5,520.6L899.5,512.9L891.3,501.5L886.9,475.5L884.3,468.5L879.2,460.5L876.5,450.3L871.1,418.5L869.5,414.5L864.5,406.5L864.9,403.5L871.5,388.5L871.8,386.5L871.0,383.5L868.8,379.5L865.5,376.7L858.5,372.1L846.7,366.5L840.9,348.5L838.5,344.0L835.4,342.5L815.5,337.3L805.5,332.5L802.8,330.5L794.7,319.5L791.2,303.5L789.8,300.5L788.5,299.4L783.5,298.5L774.5,300.3L768.5,306.3L765.5,307.3L761.5,305.4L750.5,292.7L746.5,290.8L743.5,291.2L737.5,295.2L733.5,296.3L723.5,295.9L715.5,291.2L712.5,290.6L707.5,291.6L701.5,295.0L698.5,295.7L694.5,294.7L683.2,288.5L680.5,288.0L666.5,294.9L663.5,295.0L658.5,293.8L656.5,294.2L645.5,303.1L641.5,304.4L638.5,303.3L630.5,297.1L619.5,293.1L612.5,288.3L607.5,282.2L602.5,280.7L600.0,281.5L597.4,283.5L590.3,295.5L574.6,311.5L570.5,315.1L563.5,319.5L560.5,320.1L556.5,319.1L550.5,316.7L540.5,310.7L528.5,308.0L525.1,309.5L512.5,319.0L508.5,319.8L504.5,317.6L496.6,309.5L479.5,278.8L470.5,275.1L461.7,266.5L450.5,242.8L446.5,237.4L444.5,236.6L442.5,237.0L434.5,242.1L429.5,243.1L426.5,241.8L423.0,238.5L418.7,232.5L414.5,224.5L408.5,224.2L397.5,226.9L387.5,223.5L377.5,225.8L373.5,229.4L367.5,238.7L361.8,258.5L359.5,261.6L353.5,267.2L350.5,268.2L347.5,266.7L342.2,258.5L337.5,249.1L336.5,248.5L335.5,248.9L333.5,251.2L319.0,276.5L316.5,279.5L312.5,282.0L310.5,282.4L301.5,277.9L298.5,278.5L296.1,281.5L290.7,293.5L289.5,294.9L287.5,295.7L286.3,294.5L281.0,274.5L269.0,239.5L263.5,209.8L259.5,195.7L257.5,193.5L255.5,193.8L253.5,195.2L249.5,200.4L242.3,230.5L233.5,237.3L224.5,241.5L222.5,241.9L219.5,240.9L200.5,229.5L191.5,225.0L186.5,225.0L176.5,233.2L172.5,235.0L168.5,235.5L164.5,234.9L160.5,233.0L153.5,225.6L148.5,222.9L145.5,223.4L141.5,225.3L126.5,236.0L118.5,240.7L113.5,242.5M1217.6,573.5L1220.3,549.5L1220.4,535.5L1221.2,527.5L1221.0,514.5L1218.0,485.5L1218.7,431.5L1225.0,404.5L1225.7,373.5L1223.7,365.5L1222.8,364.5L1221.5,364.4L1218.5,367.9L1214.5,378.7L1213.5,379.6L1211.5,379.7L1208.9,376.5L1207.2,371.5L1206.0,364.5L1199.5,317.0L1190.9,296.5L1187.5,294.5L1180.5,292.1L1173.5,288.1L1170.1,285.5L1164.5,277.8L1162.5,276.6L1160.5,276.5L1158.5,278.4L1154.5,285.1L1149.3,300.5L1142.9,313.5L1140.5,317.5L1137.5,320.1L1127.5,325.3L1111.6,331.5L1087.5,345.8L1082.5,347.7L1076.5,347.7L1071.5,346.6L1069.2,344.5L1064.9,337.5L1061.5,336.7L1059.5,338.2L1056.6,344.5L1054.5,346.8L1052.5,347.3L1047.5,345.8L1046.5,346.1L1037.3,363.5L1035.5,365.2L1032.5,365.1L1028.5,362.1L1026.6,358.5L1023.9,345.5L1022.1,328.5L1020.5,320.5L1013.5,309.4L1006.3,301.5L993.5,302.5L982.5,296.7L979.2,293.5L970.8,279.5L967.8,271.5L963.5,247.5L959.3,233.5L959.8,228.5L958.9,226.5L941.1,208.5L916.6,197.5L913.2,197.5L907.5,199.5L901.4,211.5L897.5,215.0L890.5,218.6L887.5,219.3L875.0,215.5L872.4,215.5L866.2,219.5L856.5,229.2L853.5,231.1L850.5,230.6L845.5,227.0L843.0,223.5L840.5,217.7L839.5,217.6L834.5,223.9L818.5,252.4L808.3,276.5L805.7,280.5L792.1,291.5L773.5,296.4L766.5,304.3L764.5,304.4L762.5,303.2L751.5,290.5L747.5,288.5L743.5,288.6L737.5,292.7L733.5,293.9L723.5,293.5L716.5,289.1L713.5,288.1L706.5,289.5L700.5,292.9L698.5,293.3L693.5,291.8L681.5,285.4L678.5,286.1L666.5,292.5L656.5,291.5L645.5,300.4L641.5,301.9L639.5,301.1L631.5,295.0L620.5,291.2L613.9,286.5L609.2,280.5L602.5,278.2L599.5,279.1L595.5,282.3L588.3,294.5L571.5,311.4L564.5,316.5L560.5,317.7L552.5,315.2L541.5,308.6L528.5,304.6L524.3,306.5L511.5,315.7L509.5,316.0L507.5,315.3L499.1,306.5L482.6,275.5L480.5,274.0L472.5,271.1L465.7,264.5L454.5,240.6L450.5,234.7L447.5,232.1L444.5,231.4L439.5,233.0L432.5,237.7L429.5,237.8L427.5,236.4L423.7,231.5L419.2,221.5L416.5,219.4L408.5,219.1L398.5,221.7L385.5,217.6L378.5,218.1L374.7,219.5L368.1,225.5L363.0,232.5L360.1,238.5L356.5,253.1L354.5,255.8L351.5,257.6L349.5,256.4L347.5,253.3L341.9,236.5L339.5,232.4L337.5,231.0L334.5,231.7L328.5,235.5L319.5,252.0L315.5,257.3L313.5,258.8L310.5,259.0L285.5,255.1L277.5,248.3L272.5,239.1L269.1,226.5L263.3,195.5L261.5,191.2L258.5,188.9L256.5,188.9L253.5,190.2L247.2,196.5L245.3,200.5L241.5,212.7L237.5,218.9L235.5,220.3L210.5,222.5L201.5,219.0L184.5,208.8L180.5,207.8L178.5,209.2L177.3,211.5L175.2,223.5L173.5,226.5L171.4,228.5L167.5,229.2L164.5,228.3L159.5,223.7L152.5,214.9L147.5,213.0L143.5,212.8L139.5,213.5L136.5,215.1L132.5,218.4L124.8,227.5L113.5,233.0M1315.3,575.5L1307.1,526.5L1308.7,501.5L1307.4,480.5L1306.5,477.2L1296.8,457.5L1296.1,442.5L1295.1,439.5L1291.5,436.9L1288.5,437.4L1278.8,444.5L1276.5,447.6L1273.0,456.5L1266.4,480.5L1264.0,502.5L1262.5,506.6L1260.5,508.9L1258.5,509.3L1256.5,506.9L1253.3,499.5L1246.4,471.5L1241.4,437.5L1237.6,398.5L1234.6,349.5L1232.7,330.5L1230.5,325.3L1228.5,324.3L1226.5,325.9L1219.5,336.4L1217.5,337.3L1215.9,336.5L1214.5,334.1L1213.2,329.5L1210.3,309.5L1210.5,306.5L1211.9,304.5L1222.5,297.0L1225.8,295.5L1216.5,296.4L1210.5,292.7L1207.6,289.5L1199.5,274.9L1191.5,268.4L1177.5,267.3L1167.5,265.1L1163.5,265.6L1155.5,268.5L1152.3,271.5L1147.2,280.5L1137.8,306.5L1134.4,311.5L1124.5,318.3L1108.1,325.5L1085.5,338.8L1081.5,339.5L1078.8,337.5L1067.5,324.4L1055.5,320.4L1048.4,312.5L1045.6,310.5L1039.5,308.7L1029.5,309.9L1026.5,309.5L1023.5,307.8L1016.5,301.9L1007.5,292.3L996.5,293.5L990.5,291.7L987.5,289.6L979.7,278.5L977.3,273.5L972.8,248.5L971.1,231.5L966.5,221.5L958.0,210.5L949.5,202.0L939.5,194.5L926.5,187.8L909.5,167.5L899.5,160.7L896.5,160.6L888.5,162.7L880.6,167.5L876.5,171.1L870.5,179.0L868.7,182.5L861.9,207.5L859.9,210.5L856.5,213.1L853.5,214.2L851.5,213.5L847.2,207.5L841.5,196.5L840.5,196.2L838.5,197.5L829.5,210.8L815.5,224.5L811.5,229.9L803.5,246.3L794.1,276.5L789.5,281.0L777.5,289.2L772.5,294.0L767.5,300.4L765.5,301.8L762.5,300.4L752.3,288.5L747.5,286.4L743.5,286.4L736.5,291.0L733.5,291.9L723.5,291.4L716.5,286.8L713.5,286.0L706.5,287.3L700.5,290.7L698.5,291.2L693.5,289.7L681.5,283.2L678.5,283.9L666.5,290.4L663.5,290.5L657.5,289.1L655.5,289.6L645.5,298.1L641.5,299.6L631.5,292.7L623.5,290.5L618.5,287.6L615.5,285.4L611.5,279.8L609.5,278.2L602.5,276.0L599.5,276.8L594.5,280.6L585.9,294.5L570.5,309.9L562.5,315.3L559.5,315.5L553.5,313.5L543.5,307.4L530.5,301.6L525.5,303.3L512.4,312.5L509.5,313.5L506.5,311.6L501.5,306.1L484.1,273.5L481.5,271.8L473.5,269.0L467.8,263.5L455.4,237.5L452.3,233.5L447.5,229.3L444.5,228.9L440.5,230.0L432.5,235.0L430.5,235.3L428.5,234.0L425.8,230.5L420.9,219.5L418.5,217.1L408.5,216.3L397.5,218.7L385.5,214.2L378.5,212.4L370.5,214.5L360.1,220.5L350.5,222.9L345.5,222.6L330.5,218.5L327.5,218.5L321.5,221.9L313.5,228.2L311.5,228.2L304.5,225.2L301.5,225.4L295.5,228.2L287.7,235.5L284.5,236.5L282.5,236.3L278.5,232.1L276.5,227.7L268.8,195.5L265.2,184.5L262.5,179.6L259.5,178.1L255.5,178.9L249.9,182.5L237.5,197.1L232.5,201.0L229.5,201.9L197.5,201.5L186.5,196.8L182.5,196.3L160.5,202.4L156.5,201.6L145.5,197.1L140.5,197.0L138.5,198.6L134.5,204.1L124.5,220.3L120.5,223.3L113.5,226.4M1429.5,489.1L1427.3,485.5L1423.1,465.5L1418.3,429.5L1414.3,406.5L1411.8,366.5L1404.9,347.5L1396.8,317.5L1393.3,302.5L1388.5,271.4L1386.5,265.6L1385.5,265.3L1383.5,266.8L1374.5,278.9L1371.5,278.6L1365.5,273.6L1363.2,274.5L1360.5,283.8L1356.0,305.5L1348.0,319.5L1342.9,349.5L1341.4,352.5L1338.5,355.5L1336.5,356.5L1333.5,356.1L1330.5,354.0L1328.8,351.5L1325.8,342.5L1321.5,321.6L1316.5,310.8L1313.5,307.2L1312.5,307.3L1310.5,310.4L1309.2,316.5L1309.7,319.5L1314.1,329.5L1313.9,333.5L1310.5,336.8L1300.5,344.0L1296.5,345.0L1286.5,345.2L1284.8,346.5L1283.9,350.5L1286.2,363.5L1286.1,377.5L1285.0,383.5L1272.9,431.5L1270.9,435.5L1265.4,442.5L1262.2,456.5L1259.5,461.9L1257.5,463.4L1255.5,460.7L1253.5,452.5L1248.0,416.5L1242.9,390.5L1239.7,357.5L1239.2,338.5L1237.6,316.5L1235.3,298.5L1236.0,292.5L1235.5,290.5L1233.9,288.5L1230.5,286.4L1227.5,285.9L1219.5,290.0L1217.5,290.2L1215.5,289.5L1211.6,285.5L1203.8,271.5L1199.5,267.3L1192.5,262.0L1178.5,261.5L1167.5,259.2L1162.5,259.9L1152.5,263.9L1148.3,267.5L1142.0,278.5L1133.5,302.3L1130.5,307.5L1121.7,313.5L1105.5,320.8L1085.6,332.5L1083.5,333.1L1080.5,330.6L1070.5,319.1L1058.5,314.7L1052.5,307.5L1049.5,305.2L1039.5,302.3L1027.5,303.9L1019.5,298.3L1011.8,289.5L1009.5,287.7L1006.5,287.0L997.5,288.6L991.5,286.5L983.5,275.9L981.6,271.5L974.9,240.5L974.7,237.5L975.9,233.5L975.7,231.5L967.8,217.5L960.9,208.5L950.5,198.7L941.5,191.9L928.5,184.7L923.7,179.5L914.3,165.5L911.6,162.5L903.5,157.3L899.5,155.6L893.5,155.8L885.5,157.9L875.5,164.3L872.2,167.5L865.9,175.5L863.1,180.5L857.5,203.4L855.5,207.2L853.5,207.5L851.5,205.2L844.5,190.5L841.5,189.2L838.5,190.9L826.4,208.5L811.8,222.5L808.1,227.5L799.1,246.5L792.0,272.5L790.7,275.5L787.4,278.5L775.9,286.5L765.5,298.6L762.5,297.3L752.5,285.9L746.5,283.9L742.5,284.4L736.5,288.7L733.5,289.6L724.5,289.5L716.5,284.4L713.5,283.7L705.5,285.4L698.5,288.9L693.7,287.5L684.5,282.0L681.5,280.9L677.5,282.0L666.5,288.1L663.5,288.3L657.5,286.8L655.5,287.1L645.6,295.5L641.5,297.2L632.5,290.9L624.3,288.5L620.4,286.5L616.6,283.5L613.2,278.5L610.5,276.3L604.5,274.1L601.5,273.8L598.5,275.0L592.7,279.5L584.2,293.5L569.5,308.2L562.5,312.9L559.5,313.2L554.0,311.5L540.0,303.5L538.3,301.5L538.2,298.5L536.5,297.3L527.5,299.7L518.5,304.2L511.5,308.9L509.5,309.3L504.5,304.3L486.9,270.5L483.5,268.0L475.5,265.4L472.5,263.1L470.5,260.2L466.0,249.5L458.8,235.5L453.5,229.4L448.5,225.0L445.5,224.5L439.5,225.8L431.5,230.0L430.3,229.5L428.5,227.0L424.0,215.5L421.5,212.7L410.5,210.7L397.5,212.0L392.6,210.5L387.5,206.0L377.5,187.2L374.5,185.0L368.5,182.8L364.5,182.7L356.5,184.0L347.5,186.6L345.5,185.9L342.5,181.2L340.5,180.6L331.5,184.0L328.5,184.3L324.4,182.5L318.5,176.6L313.5,175.2L311.0,176.5L309.5,178.8L307.8,184.5L305.9,195.5L304.5,198.0L300.5,198.8L292.5,197.0L285.5,197.7L281.5,197.1L277.7,194.5L273.5,187.0L268.3,172.5L264.5,165.0L262.5,162.2L259.5,160.5L256.5,161.0L253.5,163.1L246.5,173.0L243.5,174.8L241.5,173.6L240.5,171.8L236.7,160.5L235.5,159.3L233.5,159.1L230.9,163.5L229.8,173.5L227.5,179.5L225.0,183.5L221.5,185.8L218.5,185.6L207.5,180.4L201.5,180.5L183.5,185.3L173.3,192.5L167.5,194.9L163.5,195.6L160.5,194.9L157.5,193.2L149.5,185.7L144.5,184.7L140.5,185.5L135.8,188.5L133.6,191.5L126.0,210.5L123.8,214.5L120.5,217.3L113.5,220.5M1221.5,305.3L1223.5,305.5L1224.2,307.5L1223.9,316.5L1221.5,322.5L1219.5,325.1L1218.5,325.2L1217.3,321.5L1216.0,309.5L1217.3,307.5L1221.5,305.3M1429.5,351.3L1422.0,314.5L1411.8,290.5L1406.5,270.5L1403.3,246.5L1397.5,230.9L1393.0,207.5L1391.0,181.5L1389.6,179.5L1388.5,179.7L1383.3,190.5L1375.5,201.9L1368.8,217.5L1357.1,232.5L1356.1,235.5L1354.3,248.5L1352.7,251.5L1339.9,262.5L1336.5,264.7L1333.5,264.4L1327.5,260.5L1323.5,258.9L1318.5,258.0L1308.5,260.9L1303.5,267.9L1302.1,271.5L1300.8,279.5L1298.7,302.5L1294.9,323.5L1294.2,324.5L1292.5,325.1L1281.5,322.7L1278.5,322.7L1274.5,326.3L1271.5,331.5L1269.3,349.5L1269.0,367.5L1266.5,396.3L1263.7,417.5L1263.5,418.8L1262.5,419.5L1258.1,398.5L1252.5,381.3L1250.5,371.5L1248.4,355.5L1245.7,323.5L1244.3,292.5L1241.2,280.5L1239.3,277.5L1231.6,269.5L1225.3,260.5L1212.8,231.5L1201.5,210.5L1196.9,196.5L1192.5,174.5L1188.5,164.7L1186.5,163.4L1184.5,164.2L1180.9,175.5L1178.5,178.9L1176.5,179.8L1174.5,179.5L1166.5,175.2L1155.1,166.5L1154.3,162.5L1157.7,143.5L1156.1,135.5L1154.5,133.3L1152.5,132.7L1145.5,137.2L1137.5,139.9L1127.5,139.8L1115.5,135.1L1112.7,135.5L1110.5,136.7L1108.5,139.4L1102.5,151.5L1099.2,163.5L1094.2,171.5L1090.4,192.5L1083.6,205.5L1071.5,215.2L1060.5,225.9L1057.5,229.5L1052.3,238.5L1041.5,247.5L1033.3,256.5L1030.5,257.6L1026.5,256.3L1023.5,256.5L1013.5,262.6L1011.5,261.9L1009.5,259.3L1000.5,243.5L998.5,241.6L995.5,242.3L986.5,247.9L984.1,247.5L982.5,243.8L979.9,229.5L972.3,213.5L964.5,203.9L946.5,190.2L935.0,183.5L928.8,178.5L926.5,174.1L921.8,159.5L919.5,156.2L913.5,152.3L902.5,150.6L891.5,145.1L888.5,144.9L880.5,146.8L853.5,162.5L845.3,169.5L838.5,177.7L834.6,183.5L827.5,197.8L821.5,204.6L807.5,217.7L803.9,222.5L792.9,246.5L789.5,265.0L787.3,272.5L784.3,275.5L773.5,283.0L766.5,291.2L764.5,292.5L762.5,291.1L755.5,283.0L752.5,281.3L746.5,279.6L742.5,279.8L735.5,284.5L732.5,285.6L725.5,285.4L718.5,280.8L714.5,279.5L705.5,281.0L697.5,284.4L692.7,282.5L684.5,277.3L681.5,276.5L676.5,278.0L665.5,283.9L657.5,282.5L654.5,282.9L651.5,284.8L645.5,290.5L641.5,292.1L633.5,286.7L625.3,284.5L621.6,282.5L619.3,280.5L615.5,274.9L612.5,272.7L605.5,270.1L601.5,269.5L597.5,270.8L589.5,276.9L581.6,290.5L566.5,305.6L560.5,308.9L555.1,307.5L544.5,300.6L542.5,295.5L539.5,292.9L535.5,292.6L528.5,294.2L526.9,293.5L525.4,287.5L521.3,281.5L519.8,277.5L517.0,253.5L515.3,248.5L509.8,238.5L494.5,223.0L491.0,218.5L486.8,211.5L481.6,198.5L476.5,190.8L467.5,185.6L452.5,183.3L442.5,178.8L436.5,174.0L433.7,170.5L427.5,158.5L422.7,146.5L420.5,143.2L417.5,141.5L408.5,142.2L403.5,141.1L400.4,137.5L394.9,128.5L388.5,124.3L380.5,123.3L376.0,124.5L372.3,127.5L368.1,135.5L363.5,138.8L356.5,139.4L351.5,137.4L347.2,133.5L345.5,127.5L346.4,122.5L351.6,105.5L351.7,102.5L349.5,99.1L342.9,96.5L335.5,97.4L330.0,101.5L327.4,104.5L320.8,119.5L318.8,132.5L316.2,140.5L312.8,147.5L308.4,154.5L288.6,170.5L283.5,173.6L281.5,174.6L279.5,174.5L276.5,169.8L273.5,159.7L268.0,131.5L264.5,127.0L262.5,126.0L260.5,126.0L256.5,127.5L253.9,129.5L249.5,138.5L246.5,142.9L244.5,143.3L239.5,140.9L235.5,140.2L230.5,140.2L227.5,141.8L222.1,146.5L216.5,156.4L211.0,162.5L198.5,163.1L188.5,161.2L181.2,162.5L176.0,169.5L170.5,183.2L168.5,186.3L166.5,187.8L164.5,188.3L162.1,187.5L160.5,185.8L156.5,178.8L150.5,175.7L144.5,176.8L135.5,180.8L133.5,182.4L131.7,185.5L129.1,193.5L122.5,209.0L118.1,213.5L113.5,216.4M962.6,60.5L975.7,84.5L976.3,88.5L975.1,97.5L973.5,101.4L969.5,107.1L960.4,115.5L955.6,126.5L948.3,133.5L943.8,136.5L936.5,138.0L934.5,136.5L927.0,125.5L923.5,122.0L920.5,121.2L916.5,121.2L907.5,125.0L904.5,123.1L899.3,114.5L896.5,112.0L888.5,110.3L879.5,113.1L874.4,116.5L864.6,129.5L859.4,134.5L844.2,147.5L829.9,157.5L822.8,169.5L819.5,185.9L817.5,190.7L815.5,193.1L809.6,191.5L808.2,190.5L804.5,183.6L803.6,180.5L804.1,156.5L802.1,140.5L800.6,112.5L798.0,96.5L795.5,93.0L791.5,90.1L780.5,89.6L777.5,88.7L773.9,85.5L772.7,82.5L773.5,79.6L775.1,78.5L784.5,77.8L797.0,73.5L799.9,70.5L806.5,60.5M182.0,65.5L196.5,72.4L199.9,76.5L199.7,79.5L192.4,89.5L182.0,100.5L181.0,103.5L181.3,110.5L180.2,113.5L172.4,127.5L160.5,144.8L157.5,147.0L145.5,149.9L138.5,155.1L135.3,158.5L134.1,161.5L133.7,169.5L128.2,179.5L127.5,189.5L126.7,192.5L119.8,205.5L115.8,211.5L113.5,213.6M1377.5,72.1L1409.5,72.0L1412.5,73.5L1415.5,78.6L1416.9,91.5L1416.6,98.5L1411.5,119.0L1405.0,133.5L1404.7,136.5L1405.9,142.5L1403.5,145.5L1393.5,144.5L1386.5,140.5L1384.5,138.1L1380.9,123.5L1374.5,109.6L1369.2,92.5L1369.0,84.5L1369.6,81.5L1374.5,74.5L1377.5,72.1M777.5,144.2L780.5,143.5L786.5,144.1L789.5,147.1L791.2,150.5L791.4,152.5L790.4,158.5L788.5,161.6L784.5,163.4L782.5,163.5L776.5,159.0L775.0,154.5L774.3,147.5L775.2,145.5L777.5,144.2M1368.5,167.8L1369.5,169.0L1370.5,172.9L1370.7,176.5L1369.7,180.5L1367.5,181.6L1366.5,181.5L1365.5,180.1L1364.5,175.5L1365.5,172.3L1368.5,167.8M113.5,174.4L118.3,181.5L120.3,190.5L117.5,200.4L113.5,207.1"/><path d="M112.8 91.8H1429.3M112.8 182.7H1429.3M112.8 273.5H1429.3M112.8 364.4H1429.3M112.8 455.2H1429.3M112.8 546.1H1429.3M467.7 46.3V591.7M841.4 46.3V591.7M1214.4 46.3V591.7" stroke="#000" stroke-opacity="0.55" stroke-width="0.7" fill="none"/><path class="s" d="M125.3 672L122.1 1173M126.3 675L128.7 1171M151.7 678L148.5 1175M152.7 681L155.1 1173M178.1 680L174.9 1176M179.1 683L181.5 1174M204.5 677L201.3 1180M205.5 680L207.9 1178M230.9 679L227.7 1181M231.9 682L234.3 1179M257.3 681L254.1 1175M258.3 684L260.7 1173M283.7 683L280.5 1176M284.7 686L287.1 1174M310.1 685L306.9 1177M311.1 688L313.5 1175M336.5 686L333.3 1178M337.5 689L339.9 1176M362.9 692L359.7 1175M363.9 695L366.3 1173M389.3 693L386.1 1179M390.3 696L392.7 1177M415.7 695L412.5 1180M416.7 698L419.1 1178M442.1 693L438.9 1181M443.1 696L445.5 1179M468.5 690L465.3 1178M469.5 693L471.9 1176M494.9 692L491.7 1176M495.9 695L498.3 1174M521.3 689L518.1 1177M522.3 692L524.7 1175M547.7 687L544.5 1181M548.7 690L551.1 1179M574.1 689L570.9 1178M575.1 692L577.5 1176M600.5 686L597.3 1179M601.5 689L603.9 1177M626.9 688L623.7 1180M627.9 691L630.3 1178M653.3 685L650.1 1181M654.3 688L656.7 1179M679.7 687L676.5 1178M680.7 690L683.1 1176M706.1 689L702.9 1179M707.1 692L709.5 1177M732.5 686L729.3 1180M733.5 689L735.9 1178M758.9 688L755.7 1181M759.9 691L762.3 1179M785.3 685L782.1 1178M786.3 688L788.7 1176M811.7 687L808.5 1179M812.7 690L815.1 1177M838.1 693L834.9 1180M839.1 696L841.5 1178M864.5 690L861.3 1181M865.5 693L867.9 1179M890.9 688L887.7 1175M891.9 691L894.3 1173M917.3 681L914.1 1176M918.3 684L920.7 1174M943.7 683L940.5 1180M944.7 686L947.1 1178M970.1 685L966.9 1181M971.1 688L973.5 1179M996.5 686L993.3 1178M997.5 689L999.9 1176M1022.9 688L1019.7 1179M1023.9 691L1026.3 1177M1049.3 681L1046.1 1180M1050.3 684L1052.7 1178M1075.7 683L1072.5 1177M1076.7 686L1079.1 1175M1102.1 685L1098.9 1178M1103.1 688L1105.5 1176M1128.5 686L1125.3 1179M1129.5 689L1131.9 1177M1154.9 688L1151.7 1180M1155.9 691L1158.3 1178M1181.3 685L1178.1 1181M1182.3 688L1184.7 1179M1207.7 687L1204.5 1182M1208.7 690L1211.1 1180M1234.1 689L1230.9 1179M1235.1 692L1237.5 1177M1260.5 686L1257.3 1176M1261.5 689L1263.9 1174M1286.9 688L1283.7 1177M1287.9 691L1290.3 1175M1313.3 685L1310.1 1178M1314.3 688L1316.7 1176M1339.7 687L1336.5 1179M1340.7 690L1343.1 1177M1366.1 685L1362.9 1177M1367.1 688L1369.5 1175M1392.5 686L1389.3 1164M1393.5 689L1395.9 1162M1418.9 688L1415.7 1144M1419.9 691L1422.3 1142"/><path d="M123 659 L123 662 L143 662 L143 666 L254 666 L254 671 L318 671 L318 675 L357 675 L357 679 L379 679 L379 683 L431 683 L431 679 L540 679 L540 675 L823 675 L823 679 L876 679 L876 675 L897 675 L897 671 L985 671 L985 675 L1031 675 L1031 671 L1115 671 L1115 675 L1350 675 L1350 671 L1391 671 L1391 675 L1439 675 L1439 659Z" fill="#fff"/>
<path d="M123 1204 L123 1178 L129 1178 L129 1183 L198 1183 L198 1186 L248 1186 L248 1183 L387 1183 L387 1186 L475 1186 L475 1183 L543 1183 L543 1186 L830 1186 L830 1183 L838 1183 L838 1186 L876 1186 L876 1183 L927 1183 L927 1186 L1060 1186 L1060 1182 L1090 1182 L1090 1186 L1200 1186 L1200 1190 L1217 1190 L1217 1186 L1247 1186 L1247 1182 L1299 1182 L1299 1186 L1361 1186 L1361 1183 L1371 1183 L1371 1179 L1381 1179 L1381 1174 L1391 1174 L1391 1169 L1400 1169 L1400 1164 L1408 1164 L1408 1158 L1415 1158 L1415 1152 L1421 1152 L1421 1146 L1427 1146 L1427 1140 L1432 1140 L1432 1134 L1439 1134 L1439 1204Z" fill="#fff"/>
<path class="c" mask="url(#mk)" d="M327.8,1182.5L324.9,1167.5L318.5,1148.5L313.3,1127.5L304.4,1074.5L300.4,1043.5L288.8,995.5L280.1,974.5L275.2,942.5L269.7,921.5L264.5,907.0L237.4,885.5L229.5,871.4L217.4,859.5L206.8,846.5L204.8,842.5L200.5,828.9L196.5,821.5L191.7,815.5L186.5,812.6L180.5,815.5L171.1,822.5L158.5,836.4L156.5,836.8L154.5,836.1L145.5,830.9L142.1,831.5L139.5,833.2L123.5,881.2M602.5,1024.2L600.5,1026.5L600.2,1031.5L598.5,1033.8L595.5,1034.6L589.5,1034.7L586.5,1034.3L582.5,1032.4L579.5,1032.4L572.5,1035.8L565.7,1041.5L563.5,1044.9L558.9,1066.5L558.7,1096.5L556.4,1111.5L554.4,1121.5L547.2,1141.5L548.6,1151.5L547.1,1165.5L547.8,1167.5L550.5,1170.5L553.5,1172.1L572.5,1175.2L595.5,1175.2L603.5,1176.1L625.5,1176.1L633.5,1177.0L659.5,1177.4L685.5,1176.9L715.5,1174.8L741.5,1171.0L762.5,1170.7L765.5,1169.5L767.8,1164.5L767.5,1162.5L765.5,1160.0L741.5,1154.9L738.7,1153.5L737.0,1151.5L731.8,1140.5L728.5,1123.0L722.7,1106.5L714.1,1094.5L696.5,1065.2L677.5,1042.2L674.5,1041.0L662.5,1040.7L649.5,1036.8L639.5,1032.1L633.5,1025.0L631.5,1023.6L622.5,1027.5L615.5,1034.0L609.5,1034.2L607.1,1032.5L607.1,1027.5L606.5,1026.0L604.5,1024.2L602.5,1024.2M952.5,1185.5L955.4,1165.5L954.1,1149.5L952.9,1143.5L948.1,1122.5L937.5,1083.4L932.7,1059.5L923.7,1032.5L918.1,1021.5L914.5,1017.2L911.5,1016.2L897.5,1021.2L894.5,1023.4L888.2,1030.5L878.5,1043.3L876.5,1044.1L875.4,1043.5L872.5,1040.5L867.5,1032.6L862.9,1018.5L855.9,1004.5L842.3,980.5L824.5,961.8L811.8,937.5L806.8,930.5L803.5,927.6L796.5,923.2L788.5,921.6L783.5,918.9L782.0,916.5L779.8,909.5L777.3,905.5L764.2,888.5L755.5,880.9L731.5,868.6L719.4,860.5L715.5,859.6L702.5,859.4L688.5,857.2L684.0,857.5L674.5,862.5L662.7,871.5L655.4,879.5L645.1,892.5L640.5,895.8L634.5,897.6L623.5,897.9L616.5,901.0L614.5,900.6L609.5,897.2L607.5,897.0L598.5,901.2L586.5,902.0L583.5,903.0L579.3,905.5L576.7,908.5L572.5,917.5L568.8,928.5L566.5,930.6L563.5,930.8L554.5,929.4L543.5,924.8L539.5,920.8L536.5,919.9L531.5,921.0L522.5,926.7L516.5,927.8L513.5,926.0L508.3,916.5L503.7,903.5L501.3,894.5L498.0,875.5L496.9,863.5L494.6,818.5L493.5,814.7L490.5,809.5L488.5,808.4L477.5,807.4L469.5,805.2L456.5,796.8L429.5,786.3L426.3,786.5L421.1,788.5L419.5,790.5L416.5,799.1L411.5,802.6L408.5,802.5L405.9,800.5L404.5,798.1L401.4,782.5L399.8,779.5L388.5,767.7L378.9,760.5L374.5,758.6L365.5,757.0L362.5,758.2L357.6,761.5L335.5,782.3L329.5,787.0L318.5,793.9L305.5,809.4L303.5,811.0L301.5,811.2L299.0,809.5L295.2,801.5L293.6,799.5L288.5,797.6L285.5,797.6L265.5,808.0L242.0,814.5L239.5,816.5L231.5,826.3L226.5,829.8L222.5,829.0L219.5,826.5L210.5,812.4L203.5,803.4L192.9,795.5L177.5,787.5L165.7,787.5L140.5,801.1L133.5,802.8L123.5,804.2M1132.7,1185.5L1134.8,1165.5L1132.5,1150.5L1123.5,1113.4L1117.9,1098.5L1111.5,1073.3L1107.5,1063.4L1094.7,1038.5L1089.4,1026.5L1083.5,1005.8L1079.9,997.5L1073.5,992.9L1071.5,992.3L1069.5,992.7L1067.3,995.5L1057.9,1020.5L1050.5,1029.5L1046.5,1032.5L1036.5,1036.9L1029.5,1045.6L1027.7,1045.5L1026.5,1044.5L1022.9,1038.5L1006.0,980.5L1001.3,955.5L1001.0,942.5L1001.7,935.5L1001.7,923.5L1005.6,907.5L1002.5,887.3L1000.5,879.7L999.5,878.2L990.5,874.6L988.0,871.5L977.5,814.1L976.5,812.0L974.3,810.5L970.5,809.4L962.5,809.1L955.5,810.5L923.5,828.4L921.5,830.4L917.5,836.9L911.5,841.0L906.5,843.2L897.5,844.7L892.5,844.1L880.5,836.4L860.5,830.1L854.0,824.5L843.7,812.5L836.3,809.5L830.5,808.8L828.5,809.1L826.8,810.5L822.3,820.5L820.5,822.9L818.5,824.1L800.9,829.5L799.2,831.5L796.0,840.5L791.1,846.5L787.5,849.5L780.5,851.8L777.5,851.8L774.4,850.5L772.3,848.5L769.5,842.7L765.7,841.5L718.5,842.3L694.5,848.3L687.5,848.6L680.5,847.6L671.8,850.5L665.5,854.1L662.5,854.9L658.5,853.5L648.5,846.3L645.5,845.5L638.6,848.5L630.5,856.3L620.6,863.5L603.5,879.8L598.1,886.5L595.5,888.6L583.5,892.3L575.1,896.5L558.5,908.0L553.5,908.1L542.5,903.3L537.5,906.1L527.5,908.3L521.5,907.1L516.5,904.8L513.5,902.6L511.1,898.5L506.9,885.5L505.2,875.5L504.1,862.5L502.8,827.5L500.7,812.5L498.5,806.2L494.5,801.2L484.5,797.8L473.2,787.5L464.6,781.5L451.9,774.5L437.5,768.1L428.5,760.4L423.3,761.5L411.5,768.9L406.5,769.0L400.5,766.6L386.7,755.5L377.5,749.1L374.5,748.2L366.5,747.9L361.7,748.5L357.5,750.3L350.5,756.1L331.5,776.5L319.5,783.9L308.5,787.2L293.5,787.4L286.5,789.3L275.5,795.8L265.5,799.9L241.5,806.5L235.9,810.5L229.5,816.7L226.5,818.4L223.5,817.9L219.5,815.1L209.5,801.5L203.5,794.5L193.7,788.5L177.5,780.3L165.5,780.2L139.5,794.2L123.5,797.0M1214.0,1189.5L1209.9,1179.5L1202.5,1173.2L1194.5,1164.5L1187.4,1147.5L1179.8,1134.5L1166.5,1123.1L1160.5,1116.9L1158.3,1113.5L1153.5,1098.6L1132.8,1018.5L1124.4,1000.5L1121.4,981.5L1117.3,970.5L1107.1,952.5L1095.7,925.5L1090.4,915.5L1087.5,911.7L1078.5,904.4L1073.7,895.5L1072.5,894.6L1070.5,895.0L1067.5,900.0L1055.5,937.5L1052.5,942.1L1050.5,944.0L1048.5,944.2L1045.5,942.5L1032.4,918.5L1023.1,907.5L1019.0,895.5L1014.3,875.5L1004.5,864.5L1002.5,861.5L999.3,845.5L997.5,842.5L991.6,835.5L989.5,830.7L984.9,807.5L980.5,789.4L979.5,785.9L977.5,784.2L967.5,783.0L952.5,785.1L948.6,786.5L927.5,800.3L916.3,805.5L903.5,821.0L897.5,824.6L892.5,825.5L880.5,825.0L872.5,823.0L867.5,821.1L860.5,817.0L851.5,810.2L842.7,801.5L836.5,792.6L831.5,789.3L828.5,789.9L819.5,795.4L814.5,800.0L809.4,808.5L806.5,810.3L803.5,810.5L800.2,807.5L789.5,788.2L783.5,784.0L781.5,783.6L778.5,784.3L775.0,786.5L763.3,801.5L756.5,808.7L746.7,830.5L745.0,832.5L741.5,834.7L736.5,836.4L728.5,835.0L725.5,835.1L693.5,844.2L679.5,844.6L670.5,847.5L663.5,851.1L659.5,849.9L647.5,841.3L645.5,841.3L640.5,842.8L637.4,844.5L628.5,852.9L618.5,860.2L600.5,878.1L594.5,885.1L583.5,888.9L575.5,892.8L560.5,903.0L556.5,904.6L552.5,903.8L541.5,898.8L535.5,903.0L527.5,904.8L521.5,903.2L515.5,899.9L513.7,896.5L509.3,882.5L507.1,861.5L505.9,827.5L503.5,811.5L501.5,805.5L497.5,799.4L495.5,797.5L486.5,794.8L475.5,783.8L470.5,780.0L461.5,774.1L439.5,763.9L432.5,756.5L429.5,754.8L426.5,754.9L422.5,756.2L411.5,763.8L409.5,764.5L406.8,764.5L401.5,762.3L388.5,752.0L378.5,745.0L373.5,744.1L362.5,744.3L357.5,746.6L349.5,753.1L339.1,763.5L329.6,774.5L319.5,780.6L308.5,783.8L293.5,783.9L287.5,785.7L275.5,792.7L264.5,797.2L240.5,803.6L234.5,808.1L228.5,813.7L225.5,815.0L223.5,814.5L220.5,812.2L209.0,796.5L204.5,791.7L182.5,779.3L177.5,777.3L165.5,777.1L139.5,791.1L123.5,794.0M1420.5,1149.5L1410.5,1150.2L1399.5,1148.1L1389.5,1143.0L1374.5,1132.8L1350.5,1121.9L1343.5,1115.4L1340.5,1114.7L1336.5,1115.5L1332.5,1120.3L1330.8,1121.5L1321.5,1125.0L1308.5,1127.5L1291.5,1127.4L1285.5,1129.5L1282.2,1132.5L1278.5,1143.9L1272.9,1153.5L1266.5,1157.2L1262.5,1156.8L1259.5,1155.2L1252.4,1147.5L1246.5,1131.4L1237.1,1098.5L1230.7,1082.5L1226.2,1068.5L1223.5,1052.0L1216.1,1045.5L1209.1,1036.5L1204.8,1029.5L1196.5,1012.5L1194.5,1011.0L1180.5,1006.0L1177.2,1003.5L1173.7,996.5L1173.8,994.5L1175.5,990.5L1174.7,987.5L1142.5,954.5L1140.3,951.5L1139.8,948.5L1141.0,933.5L1140.5,930.6L1131.6,912.5L1123.5,886.5L1105.4,844.5L1098.7,824.5L1096.5,822.9L1093.5,822.7L1090.5,823.6L1087.8,826.5L1078.0,846.5L1068.5,862.0L1064.5,874.4L1061.1,891.5L1059.0,895.5L1054.5,899.7L1051.5,901.5L1037.2,903.5L1033.5,903.3L1030.4,901.5L1028.1,898.5L1024.3,883.5L1020.9,873.5L1018.3,868.5L1011.5,858.6L1009.5,843.5L1005.1,832.5L1002.5,829.0L995.5,827.2L993.8,825.5L984.9,785.5L982.7,781.5L979.5,779.8L967.5,778.6L951.5,780.7L947.5,782.0L939.5,786.4L925.5,796.1L913.5,802.1L902.0,816.5L898.5,819.4L894.5,821.1L886.5,821.6L880.5,821.1L871.5,818.7L857.2,810.5L847.2,801.5L839.5,789.1L832.5,783.8L828.5,784.2L818.5,790.2L811.5,795.8L806.5,803.0L805.5,803.6L803.5,801.8L795.0,787.5L791.5,783.4L783.5,778.4L777.5,779.0L774.5,780.3L771.5,783.0L759.5,799.5L753.0,806.5L747.8,817.5L743.8,828.5L742.2,830.5L739.5,832.3L735.5,833.3L728.5,831.6L725.5,831.6L704.5,838.7L692.5,841.6L678.5,842.3L669.5,844.8L663.5,847.6L660.5,846.9L648.5,838.6L645.5,838.4L639.5,840.2L635.5,842.5L627.5,849.9L617.5,857.4L592.5,882.4L582.5,886.0L574.5,890.0L558.5,900.5L555.5,901.2L550.2,899.5L541.5,895.2L538.5,895.8L534.2,899.5L528.5,900.8L524.5,900.4L518.4,897.5L512.7,883.5L511.4,875.5L508.6,827.5L506.2,811.5L504.8,806.5L500.0,796.5L497.5,794.1L488.4,790.5L477.9,776.5L471.5,769.4L468.5,767.8L450.2,761.5L446.5,759.5L434.5,744.5L426.5,739.0L423.5,739.2L419.5,740.8L417.2,743.5L412.2,752.5L409.6,754.5L407.5,754.8L383.5,738.9L369.5,736.5L361.5,738.2L357.6,740.5L354.9,744.5L341.5,756.9L328.8,771.5L323.3,775.5L317.3,778.5L308.7,780.5L293.5,780.3L287.5,782.0L283.5,783.8L274.9,789.5L263.5,794.3L239.5,800.4L225.5,810.5L222.5,808.6L215.0,798.5L207.5,789.9L182.5,776.2L177.5,774.3L165.5,774.0L139.5,787.8L133.2,789.5L123.5,790.9M1001.1,675.5L1000.8,708.5L999.6,717.5L989.3,760.5L986.4,770.5L984.5,773.6L981.5,774.1L968.5,773.6L952.5,774.4L935.5,778.3L932.5,780.4L926.6,786.5L909.1,797.5L896.5,813.9L893.5,815.2L886.5,816.0L883.1,815.5L870.5,810.5L861.0,805.5L853.6,799.5L851.8,796.5L849.2,782.5L842.3,772.5L839.5,769.9L833.5,769.1L827.5,769.9L808.0,780.5L801.5,782.7L798.5,781.9L791.5,775.2L784.5,771.9L780.5,771.2L774.5,771.8L771.1,773.5L766.8,778.5L759.5,792.3L749.8,803.5L747.0,808.5L740.5,824.9L738.5,827.5L735.5,828.3L726.5,826.1L723.5,826.1L707.1,833.5L691.5,837.5L663.5,838.4L647.5,832.1L632.5,836.1L628.5,838.2L618.5,846.1L593.2,870.5L573.8,881.5L561.8,887.5L554.5,890.4L551.5,890.1L544.5,887.7L540.5,883.8L534.5,880.5L531.5,880.1L524.5,881.2L522.5,880.3L521.1,878.5L519.5,869.5L517.1,841.5L513.2,819.5L507.1,792.5L502.1,780.5L494.2,766.5L490.7,754.5L488.1,749.5L484.1,744.5L481.5,743.0L472.5,742.4L463.5,744.0L459.5,743.1L453.4,738.5L446.5,727.0L439.5,722.0L436.5,720.7L409.5,716.3L398.5,712.6L389.5,713.3L379.5,720.5L366.5,724.2L354.5,731.9L347.0,739.5L335.5,748.7L325.5,764.5L320.2,770.5L316.5,771.4L311.5,771.4L292.5,766.5L287.5,766.4L277.5,772.8L269.3,781.5L265.6,784.5L253.5,789.2L249.5,789.2L242.0,787.5L229.5,780.0L220.5,776.7L216.5,776.1L205.5,776.8L196.5,775.4L191.5,773.5L179.5,767.2L168.5,765.6L163.5,766.7L141.5,781.1L138.5,781.9L123.5,782.8M1414.4,675.5L1422.3,686.5L1423.7,689.5L1425.2,706.5L1425.1,713.5L1421.4,754.5L1424.9,776.5L1424.2,779.5L1420.5,786.5L1419.6,789.5L1420.5,792.4L1424.1,798.5L1425.1,802.5L1424.5,804.5L1418.5,813.7L1420.0,851.5L1417.7,886.5L1414.0,901.5L1408.6,911.5L1410.9,923.5L1405.5,936.5L1406.6,939.5L1412.9,948.5L1415.0,956.5L1415.2,960.5L1413.5,962.6L1404.5,966.1L1399.5,969.6L1398.6,971.5L1398.9,976.5L1398.2,979.5L1388.5,995.9L1379.5,1001.8L1368.5,1005.2L1365.5,1004.8L1358.6,1001.5L1356.4,997.5L1355.6,993.5L1356.5,991.8L1358.5,990.5L1371.1,985.5L1372.2,983.5L1371.7,981.5L1355.5,973.8L1351.0,967.5L1345.3,963.5L1340.5,961.6L1338.5,961.9L1336.5,963.3L1329.5,970.6L1326.5,976.3L1325.7,979.5L1327.5,985.3L1333.3,993.5L1333.7,995.5L1333.1,997.5L1327.5,1006.3L1316.7,1028.5L1312.1,1042.5L1307.5,1047.4L1300.5,1050.7L1298.2,1052.5L1295.4,1067.5L1293.8,1069.5L1291.5,1070.5L1288.5,1069.6L1284.5,1066.6L1277.3,1058.5L1271.1,1049.5L1265.0,1036.5L1262.0,1024.5L1260.3,1010.5L1258.9,1007.5L1255.5,1005.7L1250.5,1005.7L1248.0,1006.5L1241.5,1010.7L1235.5,1011.6L1233.5,1010.6L1225.1,986.5L1216.6,974.5L1209.2,962.5L1204.5,947.5L1198.5,936.4L1195.5,933.6L1191.5,931.9L1181.5,930.9L1179.5,930.1L1169.5,921.7L1166.5,918.0L1162.1,909.5L1160.0,903.5L1154.9,883.5L1151.1,860.5L1144.1,840.5L1140.0,819.5L1138.5,815.2L1136.5,812.7L1117.5,803.6L1103.5,801.8L1094.5,795.6L1090.5,795.6L1082.5,798.9L1076.2,805.5L1073.3,810.5L1069.5,828.3L1063.8,840.5L1059.7,857.5L1054.7,868.5L1051.5,889.1L1050.5,890.5L1048.5,891.1L1044.5,888.4L1041.7,878.5L1044.2,862.5L1040.2,845.5L1040.8,835.5L1039.6,783.5L1038.7,776.5L1038.4,749.5L1036.3,717.5L1037.3,689.5L1038.5,679.5L1040.9,671.5M190.3,666.5L208.5,669.9L217.5,674.1L230.5,681.6L236.5,688.6L239.5,693.2L239.2,698.5L236.0,707.5L219.5,722.9L218.0,728.5L218.5,735.7L216.3,737.5L207.1,741.5L202.5,747.3L199.8,748.5L191.5,750.1L169.5,749.1L152.5,752.7L150.5,754.0L148.7,756.5L143.5,773.1L142.4,774.5L139.5,776.1L136.5,775.8L134.7,774.5L128.4,759.5L126.5,757.5L123.5,756.8"/><path d="M122.4 704.3H1439.2M122.4 795.3H1439.2M122.4 886.3H1439.2M122.4 977.3H1439.2M122.4 1068.3H1439.2M122.4 1159.3H1439.2M410.1 658.6V1204.5M787.5 658.6V1204.5M1165.2 658.6V1204.5" stroke="#000" stroke-opacity="0.55" stroke-width="0.7" fill="none"/><path class="s" d="M130.3 1301L127.1 1786M131.3 1304L133.7 1784M155.6 1303L152.4 1793M156.6 1306L159.0 1791M180.9 1305L177.7 1794M181.9 1308L184.3 1792M206.2 1302L203.0 1795M207.2 1305L209.6 1793M231.5 1304L228.3 1796M232.5 1307L234.9 1794M256.8 1306L253.6 1793M257.8 1309L260.2 1791M282.1 1308L278.9 1794M283.1 1311L285.5 1792M307.4 1313L304.2 1795M308.4 1316L310.8 1793M332.7 1310L329.5 1796M333.7 1313L336.1 1794M358.0 1309L354.8 1793M359.0 1312L361.4 1791M383.3 1306L380.1 1794M384.3 1309L386.7 1792M408.6 1303L405.4 1795M409.6 1306L412.0 1793M433.9 1305L430.7 1796M434.9 1308L437.3 1794M459.2 1307L456.0 1793M460.2 1310L462.6 1791M484.5 1312L481.3 1794M485.5 1315L487.9 1792M509.8 1306L506.6 1795M510.8 1309L513.2 1793M535.1 1303L531.9 1796M536.1 1306L538.5 1794M560.4 1305L557.2 1793M561.4 1308L563.8 1791M585.7 1307L582.5 1794M586.7 1310L589.1 1792M611.0 1309L607.8 1795M612.0 1312L614.4 1793M636.3 1306L633.1 1796M637.3 1309L639.7 1794M661.6 1303L658.4 1793M662.6 1306L665.0 1791M686.9 1310L683.7 1794M687.9 1313L690.3 1792M712.2 1310L709.0 1795M713.2 1313L715.6 1793M737.5 1312L734.3 1796M738.5 1315L740.9 1794M762.8 1301L759.6 1793M763.8 1304L766.2 1791M788.1 1303L784.9 1794M789.1 1306L791.5 1792M813.4 1313L810.2 1795M814.4 1316L816.8 1793M838.7 1310L835.5 1799M839.7 1313L842.1 1797M864.0 1312L860.8 1793M865.0 1315L867.4 1791M889.3 1301L886.1 1794M890.3 1304L892.7 1792M914.6 1299L911.4 1795M915.6 1302L918.0 1793M939.9 1301L936.7 1796M940.9 1304L943.3 1794M965.2 1302L962.0 1793M966.2 1305L968.6 1791M990.5 1309L987.3 1790M991.5 1312L993.9 1788M1015.8 1301L1012.6 1791M1016.8 1304L1019.2 1789M1041.1 1303L1037.9 1792M1042.1 1306L1044.5 1790M1066.4 1301L1063.2 1789M1067.4 1304L1069.8 1787M1091.7 1298L1088.5 1787M1092.7 1301L1095.1 1785M1117.0 1304L1113.8 1788M1118.0 1307L1120.4 1786M1142.3 1305L1139.1 1789M1143.3 1308L1145.7 1787M1167.6 1307L1164.4 1789M1168.6 1310L1171.0 1787M1192.9 1305L1189.7 1787M1193.9 1308L1196.3 1785M1218.2 1298L1215.0 1788M1219.2 1301L1221.6 1786M1243.5 1304L1240.3 1785M1244.5 1307L1246.9 1783M1268.8 1301L1265.6 1786M1269.8 1304L1272.2 1784M1294.1 1303L1290.9 1787M1295.1 1306L1297.5 1785M1319.4 1309L1316.2 1784M1320.4 1312L1322.8 1782M1344.7 1310L1341.5 1789M1345.7 1313L1348.1 1787M1370.0 1312L1366.8 1786M1371.0 1315L1373.4 1784M1395.3 1305L1392.1 1787M1396.3 1308L1398.7 1785M1420.6 1303L1417.4 1784M1421.6 1306L1424.0 1782"/><path d="M118 1276 L118 1291 L245 1291 L245 1296 L304 1296 L304 1299 L355 1299 L355 1296 L403 1296 L403 1291 L444 1291 L444 1296 L462 1296 L462 1299 L498 1299 L498 1296 L529 1296 L529 1291 L574 1291 L574 1296 L587 1296 L587 1299 L609 1299 L609 1296 L647 1296 L647 1287 L654 1287 L654 1291 L678 1291 L678 1296 L688 1296 L688 1299 L740 1299 L740 1296 L754 1296 L754 1291 L795 1291 L795 1296 L812 1296 L812 1299 L839 1299 L839 1303 L859 1303 L859 1299 L876 1299 L876 1296 L889 1296 L889 1291 L900 1291 L900 1287 L955 1287 L955 1291 L967 1291 L967 1296 L1014 1296 L1014 1291 L1064 1291 L1064 1287 L1104 1287 L1104 1291 L1137 1291 L1137 1295 L1192 1295 L1192 1291 L1207 1291 L1207 1287 L1233 1287 L1233 1291 L1317 1291 L1317 1295 L1338 1295 L1338 1299 L1381 1299 L1381 1295 L1405 1295 L1405 1291 L1425 1291 L1425 1295 L1435 1295 L1435 1276Z" fill="#fff"/>
<path d="M118 1825 L118 1784 L122 1784 L122 1788 L126 1788 L126 1791 L131 1791 L131 1794 L136 1794 L136 1797 L142 1797 L142 1801 L815 1801 L815 1804 L846 1804 L846 1801 L985 1801 L985 1797 L1076 1797 L1076 1794 L1149 1794 L1149 1797 L1189 1797 L1189 1794 L1219 1794 L1219 1790 L1251 1790 L1251 1794 L1276 1794 L1276 1797 L1283 1797 L1283 1794 L1298 1794 L1298 1790 L1336 1790 L1336 1794 L1349 1794 L1349 1797 L1365 1797 L1365 1794 L1420 1794 L1420 1790 L1435 1790 L1435 1825Z" fill="#fff"/>
<path class="c" mask="url(#mk)" d="M136.5,1794.9L139.5,1794.4L141.9,1792.5L145.9,1787.5L146.7,1784.5L142.8,1774.5L138.1,1759.5L141.0,1734.5L134.9,1699.5L132.7,1673.5L127.7,1630.5L126.4,1624.5L123.9,1617.5L124.6,1615.5L127.5,1612.5L128.3,1610.5L127.6,1608.5L121.1,1600.5L122.0,1589.5L120.5,1586.1L118.5,1583.9M361.0,1800.5L373.0,1785.5L373.3,1782.5L371.6,1766.5L375.2,1751.5L375.7,1746.5L370.8,1730.5L369.5,1723.5L368.1,1710.5L364.4,1688.5L364.9,1665.5L354.3,1609.5L349.2,1563.5L350.4,1537.5L347.3,1523.5L341.5,1503.8L337.5,1482.5L331.5,1469.1L315.5,1456.4L285.5,1453.9L256.5,1449.5L254.5,1450.2L253.6,1451.5L250.9,1461.5L249.8,1463.5L248.5,1464.5L245.5,1465.0L199.5,1461.5L185.5,1462.0L168.9,1458.5L149.5,1457.1L146.4,1457.5L137.5,1461.3L132.5,1462.0L125.5,1459.9L118.5,1455.9M321.5,1437.5L316.6,1438.5L315.1,1439.5L313.5,1443.2L313.1,1446.5L317.5,1455.5L323.5,1456.9L325.8,1454.5L327.0,1447.5L324.6,1439.5L321.5,1437.5M1031.9,1796.5L1030.6,1765.5L1025.0,1740.5L1014.5,1717.8L993.1,1658.5L981.5,1636.4L976.5,1621.2L964.8,1578.5L953.9,1551.5L952.5,1549.2L950.5,1547.6L945.5,1547.1L933.7,1552.5L928.5,1554.1L926.5,1553.0L923.5,1548.7L921.5,1542.7L919.3,1530.5L917.2,1511.5L912.7,1498.5L910.3,1488.5L908.2,1485.5L901.3,1482.5L896.3,1474.5L892.3,1456.5L885.5,1447.1L883.9,1443.5L881.5,1432.2L879.3,1412.5L873.5,1403.6L865.5,1397.3L859.5,1393.9L849.5,1390.7L842.5,1389.9L837.5,1390.1L832.5,1391.7L829.5,1393.5L827.9,1395.5L821.5,1410.7L818.5,1414.3L813.5,1417.2L810.5,1417.5L803.3,1414.5L797.5,1409.7L795.5,1409.6L791.5,1410.9L782.5,1416.9L776.4,1423.5L768.2,1438.5L764.5,1442.1L755.5,1444.7L740.5,1445.0L733.5,1446.3L724.5,1453.7L718.5,1457.6L708.5,1460.7L694.1,1461.5L682.5,1468.2L676.5,1470.5L655.5,1470.5L618.5,1461.3L608.5,1456.5L598.5,1456.7L588.5,1454.3L581.5,1451.6L579.5,1451.8L572.2,1462.5L564.0,1470.5L557.6,1474.5L554.5,1482.9L545.5,1488.9L535.5,1500.5L514.4,1513.5L506.4,1523.5L499.5,1538.5L493.5,1543.9L491.5,1545.0L489.5,1544.8L483.5,1541.5L481.4,1538.5L478.5,1530.2L477.5,1528.4L476.5,1528.6L474.5,1534.2L470.1,1554.5L467.1,1564.5L463.5,1568.5L457.5,1570.6L453.5,1570.2L449.5,1568.5L446.8,1565.5L444.7,1560.5L441.2,1539.5L438.9,1503.5L435.4,1485.5L433.6,1483.5L431.5,1483.1L421.5,1485.7L410.5,1485.8L405.5,1484.6L400.5,1481.9L395.1,1477.5L392.9,1474.5L390.7,1468.5L387.5,1454.1L386.0,1450.5L384.5,1449.3L375.5,1449.0L362.5,1450.9L356.5,1450.3L348.5,1447.9L344.5,1445.9L338.5,1441.1L328.7,1431.5L325.5,1429.4L321.5,1428.8L310.5,1430.8L303.5,1430.7L298.5,1429.1L291.5,1424.9L289.5,1425.9L284.0,1432.5L280.5,1435.2L271.5,1438.9L266.5,1439.9L258.5,1439.7L253.5,1438.1L250.0,1435.5L243.5,1427.7L240.5,1427.1L238.5,1428.8L233.0,1437.5L223.5,1444.2L211.5,1448.4L200.5,1447.2L192.5,1452.2L187.5,1454.0L183.5,1453.5L180.5,1451.7L174.5,1443.7L171.5,1441.3L169.5,1442.1L165.5,1445.6L161.5,1447.2L158.5,1447.6L151.5,1446.1L147.5,1446.7L138.5,1452.6L134.5,1454.0L129.5,1453.1L121.5,1448.2L118.5,1447.1M1148.0,1793.5L1145.8,1775.5L1140.1,1746.5L1132.2,1727.5L1126.5,1705.5L1121.0,1690.5L1116.5,1670.0L1109.1,1658.5L1106.5,1656.6L1093.5,1650.6L1084.5,1639.6L1081.3,1634.5L1073.5,1618.3L1066.7,1589.5L1055.2,1551.5L1052.5,1548.2L1050.5,1547.3L1048.5,1548.8L1044.5,1555.7L1042.5,1557.8L1039.5,1558.7L1034.5,1558.7L1029.5,1557.6L1017.9,1548.5L1007.5,1533.5L995.8,1524.5L983.7,1511.5L979.3,1509.5L950.5,1501.3L931.5,1492.4L921.9,1485.5L916.9,1474.5L912.5,1456.9L909.6,1448.5L900.8,1436.5L895.6,1421.5L893.5,1400.7L885.5,1359.1L883.5,1352.4L881.5,1349.5L880.0,1348.5L876.5,1348.4L874.2,1349.5L868.1,1353.5L863.5,1357.7L860.5,1361.2L854.0,1372.5L846.5,1381.7L827.5,1388.5L819.7,1392.5L806.5,1401.2L802.5,1402.8L791.5,1405.4L778.6,1413.5L772.5,1419.7L764.8,1434.5L762.4,1437.5L755.5,1439.8L739.5,1440.1L730.9,1441.5L718.5,1452.0L711.5,1455.0L707.5,1455.9L693.5,1456.5L688.5,1458.6L679.5,1464.3L675.5,1465.7L658.5,1466.0L620.5,1456.9L609.5,1451.4L598.5,1451.8L588.5,1449.2L580.5,1445.4L577.5,1445.9L575.0,1448.5L569.5,1458.1L559.5,1467.6L538.5,1474.7L535.5,1474.4L530.5,1472.7L521.5,1483.1L514.5,1488.2L509.5,1490.8L496.9,1494.5L486.5,1500.3L480.5,1506.9L473.2,1516.5L469.4,1530.5L463.9,1559.5L461.5,1563.8L457.5,1565.7L454.5,1565.4L452.5,1564.4L450.5,1562.0L449.2,1558.5L446.1,1539.5L443.7,1502.5L440.9,1486.5L439.0,1481.5L436.5,1478.6L433.5,1477.9L418.5,1481.0L409.5,1480.7L404.2,1478.5L398.5,1473.8L396.8,1471.5L390.8,1448.5L389.5,1446.1L386.5,1444.2L374.5,1444.1L362.5,1446.0L356.5,1445.3L347.5,1442.0L341.5,1437.1L331.7,1427.5L328.5,1425.5L322.5,1423.9L310.5,1425.9L303.5,1425.7L300.3,1424.5L294.5,1419.8L291.5,1418.7L289.5,1419.0L287.5,1420.3L278.5,1430.7L270.5,1434.2L266.5,1435.0L259.5,1434.9L255.5,1433.6L253.0,1431.5L245.5,1422.3L242.5,1420.5L240.5,1420.5L238.5,1421.5L235.4,1424.5L229.0,1434.5L220.5,1440.3L210.5,1443.6L200.5,1441.6L187.5,1448.9L185.5,1448.8L183.5,1447.5L175.4,1436.5L173.5,1434.7L171.5,1434.1L168.5,1435.2L163.8,1440.5L161.5,1442.1L158.5,1442.6L151.5,1441.1L148.5,1441.2L142.9,1443.5L134.5,1448.9L130.5,1448.2L123.5,1443.6L118.5,1441.8M1271.8,1793.5L1272.5,1776.5L1267.6,1753.5L1261.5,1732.5L1255.5,1715.9L1253.5,1713.0L1246.5,1707.9L1245.1,1705.5L1243.7,1696.5L1242.3,1673.5L1238.8,1648.5L1233.2,1628.5L1229.5,1610.6L1225.5,1600.0L1223.1,1595.5L1215.3,1589.5L1211.5,1589.0L1208.8,1590.5L1205.5,1599.5L1203.7,1616.5L1202.0,1625.5L1198.5,1631.8L1196.5,1633.1L1194.5,1632.9L1192.5,1631.5L1191.0,1628.5L1185.8,1597.5L1182.4,1584.5L1180.7,1582.5L1179.5,1582.8L1177.6,1588.5L1174.5,1591.4L1172.5,1591.0L1171.0,1589.5L1169.8,1586.5L1169.8,1578.5L1164.2,1568.5L1158.5,1552.0L1151.5,1543.3L1141.2,1533.5L1133.5,1517.1L1130.5,1513.6L1107.5,1512.5L1098.5,1507.2L1090.5,1499.5L1073.5,1498.6L1046.5,1509.0L1038.5,1515.6L1028.5,1525.5L1025.5,1526.3L1018.5,1526.0L1011.5,1523.2L1001.5,1517.4L985.5,1504.7L971.9,1499.5L961.5,1494.5L951.5,1485.3L943.5,1480.2L926.7,1473.5L924.5,1470.3L919.1,1451.5L916.2,1444.5L911.9,1437.5L905.5,1431.5L902.4,1425.5L900.4,1418.5L899.0,1400.5L890.8,1354.5L889.5,1350.4L886.7,1345.5L884.5,1342.7L882.5,1341.5L878.5,1341.0L874.5,1341.6L863.5,1348.7L855.9,1356.5L849.5,1367.9L842.5,1377.2L820.5,1386.0L801.5,1397.4L789.5,1401.2L775.5,1410.3L768.2,1417.5L761.5,1431.6L758.8,1434.5L754.5,1435.8L740.5,1436.0L729.5,1437.4L727.4,1438.5L719.5,1446.6L715.5,1449.4L711.5,1451.0L706.5,1451.9L694.5,1452.1L687.5,1454.9L678.5,1460.5L675.5,1461.7L658.5,1461.9L620.5,1452.8L609.5,1447.1L598.5,1447.7L589.5,1445.5L580.5,1441.1L576.5,1441.8L573.0,1444.5L566.5,1455.8L557.5,1464.3L539.5,1468.8L537.5,1468.2L535.5,1464.5L532.5,1464.6L527.5,1467.6L518.5,1478.9L512.3,1483.5L508.5,1485.5L495.5,1489.3L486.5,1493.9L483.5,1496.1L476.4,1504.5L469.4,1515.5L465.4,1530.5L461.0,1554.5L459.1,1559.5L456.5,1560.9L454.5,1559.9L453.6,1558.5L451.4,1549.5L449.1,1527.5L447.8,1502.5L444.8,1485.5L441.2,1477.5L438.5,1474.6L434.5,1473.9L430.5,1474.1L419.5,1476.9L410.5,1476.9L406.5,1475.5L401.7,1471.5L399.8,1468.5L396.9,1455.5L393.4,1444.5L391.5,1442.3L387.5,1440.4L384.5,1439.8L375.5,1440.0L362.5,1441.9L356.5,1441.3L349.5,1438.7L343.5,1433.9L333.5,1424.1L329.5,1421.7L322.5,1419.8L310.5,1421.9L304.5,1421.8L301.5,1420.6L295.5,1415.9L290.5,1414.3L288.5,1414.7L285.5,1417.0L276.5,1427.5L270.5,1430.1L266.5,1430.9L260.5,1430.9L257.5,1430.2L245.7,1417.5L242.5,1416.2L239.5,1416.4L236.5,1418.1L232.5,1422.1L226.5,1431.7L219.5,1436.6L210.5,1439.6L201.5,1437.3L199.5,1437.5L187.5,1444.3L184.5,1442.5L175.5,1430.7L172.5,1429.4L166.7,1431.5L161.5,1437.2L159.5,1438.4L148.5,1437.1L141.5,1439.9L136.5,1443.5L133.5,1444.7L131.5,1444.3L124.5,1439.9L118.5,1437.6M1413.7,1793.5L1406.3,1784.5L1394.8,1774.5L1387.9,1765.5L1366.1,1729.5L1354.3,1707.5L1351.5,1706.4L1342.5,1708.9L1334.5,1709.7L1328.5,1706.3L1321.6,1700.5L1312.1,1683.5L1306.2,1666.5L1301.5,1650.2L1297.5,1643.5L1296.5,1643.2L1295.5,1643.8L1293.5,1648.4L1290.1,1670.5L1287.0,1683.5L1284.2,1690.5L1279.9,1697.5L1277.5,1699.6L1273.5,1699.4L1269.5,1696.7L1267.3,1691.5L1263.2,1677.5L1261.8,1661.5L1258.5,1649.8L1248.5,1636.9L1243.6,1628.5L1232.9,1597.5L1226.5,1583.5L1218.0,1561.5L1210.5,1537.3L1190.0,1506.5L1183.5,1492.6L1181.5,1492.3L1179.4,1493.5L1178.1,1496.5L1175.4,1507.5L1173.5,1510.5L1172.5,1511.2L1170.5,1511.1L1167.7,1508.5L1166.1,1505.5L1162.0,1494.5L1157.5,1479.1L1152.5,1474.6L1148.5,1473.7L1141.5,1475.6L1133.8,1485.5L1125.5,1490.2L1121.5,1491.6L1118.5,1491.6L1114.5,1490.4L1112.5,1488.6L1109.3,1483.5L1106.5,1482.1L1100.5,1482.8L1093.0,1489.5L1085.5,1490.7L1081.5,1490.5L1072.5,1487.5L1057.5,1485.8L1050.5,1486.3L1034.5,1491.5L1033.3,1493.5L1030.8,1506.5L1028.1,1511.5L1026.1,1513.5L1022.5,1514.3L1016.5,1514.1L1008.7,1510.5L1003.5,1507.0L992.5,1497.0L972.4,1489.5L968.7,1487.5L965.0,1477.5L962.5,1472.8L960.5,1470.7L949.5,1467.2L940.5,1462.2L933.5,1462.2L929.5,1458.2L922.0,1439.5L916.5,1433.3L909.1,1426.5L907.5,1423.5L903.8,1389.5L898.5,1364.9L894.3,1340.5L890.9,1329.5L888.5,1327.6L884.5,1326.2L878.5,1325.9L872.5,1327.1L869.3,1328.5L850.5,1342.2L843.3,1351.5L835.5,1358.5L830.5,1362.1L819.1,1367.5L804.5,1381.9L783.5,1391.3L780.7,1393.5L772.5,1402.2L764.5,1404.2L757.8,1408.5L755.8,1410.5L755.0,1412.5L754.1,1426.5L753.7,1428.5L752.5,1429.9L727.5,1432.5L724.2,1434.5L717.5,1441.8L711.6,1445.5L707.5,1446.6L693.5,1447.0L686.5,1450.2L678.5,1455.8L674.6,1457.5L658.5,1457.7L621.5,1448.8L610.5,1442.8L601.5,1443.6L597.5,1443.3L590.5,1441.5L582.5,1437.4L579.5,1436.7L575.5,1437.8L571.0,1440.5L563.5,1453.2L555.5,1460.5L543.5,1463.3L541.9,1462.5L538.5,1458.4L536.5,1457.8L533.5,1458.6L524.5,1464.7L516.0,1475.5L512.5,1478.5L507.5,1481.4L493.5,1485.8L483.5,1491.0L479.5,1494.5L472.9,1502.5L465.9,1513.5L457.5,1541.8L456.5,1541.8L455.5,1539.4L453.6,1528.5L452.2,1503.5L449.1,1485.5L447.2,1480.5L442.5,1472.1L439.5,1470.2L433.5,1469.5L420.5,1472.6L411.5,1472.6L408.5,1471.8L405.5,1469.3L403.7,1466.5L398.3,1445.5L396.5,1441.5L394.5,1439.2L388.5,1436.5L384.5,1435.5L374.5,1435.8L362.5,1437.7L354.9,1436.5L351.5,1435.0L346.8,1431.5L334.5,1419.7L326.5,1416.4L321.5,1415.6L311.3,1417.5L305.5,1417.5L303.5,1416.8L296.5,1411.9L291.5,1410.0L288.5,1409.8L284.4,1412.5L273.5,1424.5L268.5,1426.4L262.5,1426.7L258.5,1425.4L247.5,1413.7L244.5,1412.2L240.5,1411.9L236.5,1413.1L232.4,1416.5L228.7,1420.5L222.8,1429.5L216.6,1433.5L211.5,1435.2L208.5,1435.2L202.5,1433.0L199.5,1432.8L190.5,1438.0L187.5,1438.5L185.5,1436.8L177.5,1426.6L173.5,1424.7L165.4,1427.5L158.5,1433.5L148.5,1432.7L140.5,1435.9L133.5,1439.7L118.5,1433.3M713.0,1299.5L727.2,1311.5L729.3,1314.5L729.0,1317.5L724.7,1325.5L726.1,1332.5L725.7,1340.5L728.5,1344.5L730.5,1345.5L736.5,1345.4L738.5,1343.6L740.5,1339.5L742.6,1328.5L740.4,1315.5L743.0,1309.5L746.5,1306.2L750.5,1303.8L753.5,1303.0L761.5,1303.2L765.5,1304.1L768.6,1305.5L770.7,1307.5L773.3,1316.5L771.2,1329.5L759.6,1344.5L758.7,1347.5L758.9,1353.5L756.2,1358.5L753.5,1360.0L747.5,1360.3L744.5,1359.7L737.5,1356.4L729.5,1356.1L725.5,1357.2L722.3,1360.5L721.6,1363.5L722.5,1366.5L724.5,1369.1L731.5,1372.7L742.4,1375.5L743.6,1376.5L744.3,1378.5L743.2,1380.5L737.5,1384.2L720.5,1388.4L716.7,1391.5L716.4,1393.5L720.8,1401.5L721.6,1405.5L721.3,1407.5L713.6,1414.5L708.4,1423.5L705.8,1426.5L693.5,1433.1L681.5,1441.0L679.2,1443.5L677.3,1449.5L674.5,1451.5L670.5,1452.2L659.5,1452.3L654.5,1451.6L624.5,1444.0L611.5,1437.3L598.5,1438.0L592.6,1436.5L581.5,1431.3L578.5,1431.1L575.5,1432.0L569.5,1434.9L566.5,1437.1L559.5,1449.5L553.0,1455.5L546.5,1457.0L541.5,1453.5L538.5,1452.3L535.5,1452.1L532.5,1453.0L520.5,1460.9L512.2,1471.5L508.7,1474.5L504.5,1476.7L493.5,1479.9L479.5,1487.1L468.7,1498.5L459.5,1511.0L458.5,1508.7L458.0,1502.5L453.8,1482.5L448.1,1470.5L445.5,1467.2L440.5,1464.9L433.5,1464.1L420.5,1467.1L411.5,1466.7L409.9,1465.5L408.5,1463.0L402.1,1440.5L399.8,1436.5L397.5,1434.5L389.5,1431.2L384.5,1430.0L374.5,1430.4L362.5,1432.2L356.7,1431.5L350.5,1427.5L337.5,1415.1L324.5,1410.3L321.5,1410.1L311.5,1412.0L307.5,1412.1L298.5,1406.9L291.5,1404.3L288.5,1404.2L285.5,1405.3L282.5,1407.6L271.5,1420.5L268.5,1421.9L264.5,1422.3L260.5,1420.7L249.5,1408.9L245.5,1407.0L240.5,1406.5L235.5,1407.6L231.5,1409.8L224.8,1416.5L219.5,1425.0L214.5,1428.5L211.5,1429.6L208.5,1429.6L202.5,1427.3L199.5,1427.1L189.5,1431.2L187.5,1430.1L179.5,1421.1L173.5,1419.1L169.5,1419.9L162.5,1422.9L156.5,1427.4L147.5,1427.3L133.5,1433.0L118.5,1427.7M1434.5,1788.8L1425.1,1786.5L1420.2,1784.5L1414.5,1777.1L1411.2,1767.5L1409.4,1764.5L1398.1,1756.5L1381.0,1728.5L1370.5,1712.8L1362.0,1694.5L1357.5,1687.5L1354.5,1685.6L1351.5,1685.7L1341.5,1690.4L1334.5,1691.5L1332.5,1690.6L1328.5,1686.2L1324.5,1680.7L1317.5,1666.7L1311.5,1649.2L1308.0,1634.5L1305.9,1628.5L1303.2,1623.5L1299.5,1619.7L1296.5,1619.0L1292.5,1619.7L1289.9,1622.5L1286.9,1628.5L1279.5,1680.1L1276.5,1686.4L1275.5,1686.7L1274.5,1685.8L1269.3,1674.5L1266.9,1644.5L1264.0,1630.5L1262.5,1628.0L1260.5,1626.7L1254.5,1626.6L1252.7,1625.5L1249.7,1621.5L1248.5,1618.1L1245.7,1606.5L1246.2,1591.5L1242.0,1564.5L1240.6,1556.5L1236.2,1542.5L1233.6,1539.5L1227.7,1535.5L1222.0,1523.5L1215.3,1514.5L1197.5,1500.9L1193.3,1489.5L1189.0,1484.5L1185.5,1482.3L1173.5,1480.6L1171.2,1479.5L1167.5,1476.2L1161.1,1463.5L1155.5,1456.7L1141.5,1449.2L1130.9,1446.5L1129.1,1444.5L1129.3,1437.5L1123.8,1423.5L1118.6,1403.5L1116.9,1383.5L1116.7,1359.5L1117.6,1351.5L1117.5,1310.5L1119.8,1298.5L1123.1,1291.5M1434.5,1440.4L1428.5,1441.3L1425.6,1443.5L1421.5,1450.5L1422.3,1456.5L1421.9,1458.5L1416.5,1461.5L1414.8,1463.5L1415.2,1466.5L1418.1,1475.5L1416.4,1483.5L1413.3,1485.5L1401.5,1490.1L1388.5,1497.0L1378.5,1498.5L1368.5,1497.2L1365.5,1497.9L1364.1,1499.5L1363.2,1502.5L1365.5,1509.8L1365.7,1512.5L1362.1,1522.5L1350.5,1530.7L1337.5,1535.5L1327.5,1547.9L1317.5,1556.8L1313.5,1558.2L1308.4,1557.5L1298.4,1541.5L1295.5,1538.2L1291.5,1536.5L1288.5,1536.4L1286.5,1537.7L1281.5,1548.0L1279.5,1548.5L1277.5,1547.6L1275.8,1545.5L1274.8,1541.5L1272.7,1526.5L1272.5,1510.5L1271.4,1507.5L1266.5,1502.2L1263.5,1500.1L1260.5,1499.8L1247.5,1502.3L1244.5,1501.4L1239.7,1497.5L1237.9,1494.5L1236.8,1483.5L1229.5,1472.2L1225.6,1460.5L1223.5,1458.3L1215.0,1454.5L1213.5,1453.1L1213.4,1451.5L1216.9,1446.5L1217.1,1444.5L1214.9,1442.5L1206.9,1438.5L1205.9,1436.5L1211.4,1412.5L1208.0,1394.5L1205.8,1390.5L1201.5,1386.0L1188.0,1374.5L1188.4,1372.5L1194.9,1364.5L1198.0,1355.5L1198.7,1351.5L1197.1,1348.5L1190.5,1342.5L1190.7,1340.5L1196.5,1336.3L1197.9,1333.5L1190.5,1320.6L1188.5,1311.2L1188.6,1307.5L1197.5,1296.4L1217.2,1287.5M266.5,1392.2L269.5,1392.0L273.5,1393.5L274.9,1401.5L274.3,1404.5L270.5,1412.0L268.5,1414.5L266.5,1415.3L264.5,1414.6L261.9,1411.5L259.4,1403.5L261.0,1397.5L266.5,1392.2M122.9,1309.6L121.4,1321.5L125.8,1329.0L140.7,1334.9L131.8,1342.4L122.9,1351.3L128.8,1355.8L140.7,1360.2L146.7,1370.7L149.6,1367.7L158.6,1354.3L172.0,1351.3L179.4,1345.4L183.9,1329.0L174.9,1320.1L172.0,1312.6L179.4,1305.2L158.6,1301.3M180.0,1384.9L178.6,1387.3L174.7,1389.1L169.1,1390.2L162.9,1390.2L157.3,1389.1L153.4,1387.3L152.0,1384.9L153.4,1382.6L157.3,1380.8L162.9,1379.7L169.1,1379.7L174.7,1380.8L178.6,1382.6L180.0,1384.9M118.4,1369.2L128.8,1368.6L134.8,1373.6L128.8,1379.6L118.4,1382.6M355.0,1302.2L305.9,1309.6L307.4,1324.5L310.4,1342.4L313.3,1357.3L331.2,1372.1L340.1,1382.6L340.1,1394.5L347.6,1398.9L358.0,1390.0L356.5,1379.6L363.9,1372.1L366.9,1354.3L390.7,1342.4L392.2,1306.7M392.2,1364.7L391.4,1367.3L389.2,1369.4L386.0,1370.5L382.4,1370.5L379.2,1369.4L376.9,1367.3L376.1,1364.7L376.9,1362.1L379.2,1360.0L382.4,1358.9L386.0,1358.9L389.2,1360.0L391.4,1362.1L392.2,1364.7M392.2,1384.0L391.6,1386.2L390.0,1388.0L387.6,1389.0L384.9,1389.0L382.5,1388.0L380.9,1386.2L380.3,1384.0L380.9,1381.9L382.5,1380.1L384.9,1379.1L387.6,1379.1L390.0,1380.1L391.6,1381.9L392.2,1384.0M395.5,1397.4L395.2,1398.7L394.6,1399.8L393.6,1400.3L392.6,1400.3L391.6,1399.8L391.0,1398.7L390.7,1397.4L391.0,1396.1L391.6,1395.1L392.6,1394.5L393.6,1394.5L394.6,1395.1L395.2,1396.1L395.5,1397.4M603.5,1308.2L579.6,1306.7L563.3,1299.2L546.9,1303.7L546.9,1324.5L548.4,1342.4L552.9,1357.3L548.4,1369.2L546.9,1387.0L560.3,1393.0L564.8,1398.9L549.9,1407.9L545.4,1419.8L552.9,1428.7L560.3,1430.2L563.3,1416.8L573.7,1410.8L587.1,1404.9L590.1,1391.5L604.9,1391.5L607.9,1400.4L613.9,1404.3L624.3,1398.9L625.8,1387.0L621.3,1378.1L622.8,1363.2L633.2,1351.3L637.7,1327.5L634.7,1309.6M609.4,1424.2L608.9,1426.0L607.4,1427.5L605.2,1428.3L602.9,1428.3L600.7,1427.5L599.2,1426.0L598.7,1424.2L599.2,1422.4L600.7,1421.0L602.9,1420.2L605.2,1420.2L607.4,1421.0L608.9,1422.4L609.4,1424.2M409.8,1500.7L409.3,1502.9L407.9,1504.7L405.8,1505.6L403.6,1505.6L401.5,1504.7L400.1,1502.9L399.6,1500.7L400.1,1498.5L401.5,1496.8L403.6,1495.8L405.8,1495.8L407.9,1496.8L409.3,1498.5L409.8,1500.7M447.3,1462.3L446.7,1464.3L445.0,1465.8L442.6,1466.7L440.0,1466.7L437.6,1465.8L435.9,1464.3L435.4,1462.3L435.9,1460.4L437.6,1458.8L440.0,1458.0L442.6,1458.0L445.0,1458.8L446.7,1460.4L447.3,1462.3M461.5,1512.0L461.3,1518.2L460.7,1523.2L459.7,1526.0L458.6,1526.0L457.7,1523.2L457.0,1518.2L456.8,1512.0L457.0,1505.8L457.7,1500.9L458.6,1498.1L459.7,1498.1L460.7,1500.9L461.3,1505.8L461.5,1512.0M462.1,1488.2L469.6,1476.3L474.0,1473.3L476.4,1482.3L474.0,1488.2L466.6,1491.2L462.1,1488.2"/><path d="M117.5 1321.4H1434.5M117.5 1412.8H1434.5M117.5 1504.2H1434.5M117.5 1595.6H1434.5M117.5 1687.0H1434.5M117.5 1778.4H1434.5M403.2 1275.4V1824.6M775.1 1275.4V1824.6M1146.7 1275.4V1824.6" stroke="#000" stroke-opacity="0.55" stroke-width="0.7" fill="none"/><path class="s" d="M125.8 1912L122.6 2407M126.8 1915L129.2 2405M150.0 1917L146.8 2404M151.0 1920L153.4 2402M174.2 1923L171.0 2405M175.2 1926L177.6 2403M198.4 1924L195.2 2406M199.4 1927L201.8 2404M222.6 1926L219.4 2407M223.6 1929L226.0 2405M246.8 1927L243.6 2409M247.8 1930L250.2 2407M271.0 1929L267.8 2410M272.0 1932L274.4 2408M295.2 1927L292.0 2411M296.2 1930L298.6 2409M319.4 1920L316.2 2415M320.4 1923L322.8 2413M343.6 1922L340.4 2412M344.6 1925L347.0 2410M367.8 1915L364.6 2413M368.8 1918L371.2 2411M392.0 1917L388.8 2414M393.0 1920L395.4 2412M416.2 1923L413.0 2415M417.2 1926L419.6 2413M440.4 1920L437.2 2409M441.4 1923L443.8 2407M464.6 1922L461.4 2410M465.6 1925L468.0 2408M488.8 1919L485.6 2411M489.8 1922L492.2 2409M513.0 1921L509.8 2412M514.0 1924L516.4 2410M537.2 1923L534.0 2409M538.2 1926L540.6 2407M561.4 1920L558.2 2410M562.4 1923L564.8 2408M585.6 1922L582.4 2411M586.6 1925L589.0 2409M609.8 1919L606.6 2412M610.8 1922L613.2 2410M634.0 1921L630.8 2409M635.0 1924L637.4 2407M658.2 1919L655.0 2410M659.2 1922L661.6 2408M682.4 1916L679.2 2411M683.4 1919L685.8 2409M706.6 1918L703.4 2412M707.6 1921L710.0 2410M730.8 1919L727.6 2409M731.8 1922L734.2 2407M755.0 1917L751.8 2406M756.0 1920L758.4 2404M779.2 1919L776.0 2407M780.2 1922L782.6 2405M803.4 1916L800.2 2408M804.4 1919L806.8 2406M827.6 1918L824.4 2401M828.6 1921L831.0 2399M851.8 1915L848.6 2402M852.8 1918L855.2 2400M876.0 1917L872.8 2403M877.0 1920L879.4 2401M900.2 1919L897.0 2404M901.2 1922L903.6 2402M924.4 1916L921.2 2405M925.4 1919L927.8 2403M948.6 1918L945.4 2406M949.6 1921L952.0 2404M972.8 1915L969.6 2411M973.8 1918L976.2 2409M997.0 1917L993.8 2412M998.0 1920L1000.4 2410M1021.2 1919L1018.0 2409M1022.2 1922L1024.6 2407M1045.4 1916L1042.2 2410M1046.4 1919L1048.8 2408M1069.6 1918L1066.4 2407M1070.6 1921L1073.0 2405M1093.8 1915L1090.6 2408M1094.8 1918L1097.2 2406M1118.0 1914L1114.8 2405M1119.0 1917L1121.4 2403M1142.2 1916L1139.0 2406M1143.2 1919L1145.6 2404M1166.4 1916L1163.2 2407M1167.4 1919L1169.8 2405M1190.6 1915L1187.4 2408M1191.6 1918L1194.0 2406M1214.8 1915L1211.6 2405M1215.8 1918L1218.2 2403M1239.0 1914L1235.8 2406M1240.0 1917L1242.4 2404M1263.2 1916L1260.0 2407M1264.2 1919L1266.6 2405M1287.4 1913L1284.2 2408M1288.4 1916L1290.8 2406M1311.6 1918L1308.4 2402M1312.6 1921L1315.0 2400M1335.8 1915L1332.6 2398M1336.8 1918L1339.2 2396M1360.0 1917L1356.8 2399M1361.0 1920L1363.4 2397M1384.2 1916L1381.0 2391M1385.2 1919L1387.6 2389M1408.4 1913L1405.2 2383M1409.4 1916L1411.8 2381"/><path d="M118 1900 L118 1902 L147 1902 L147 1905 L166 1905 L166 1909 L187 1909 L187 1913 L224 1913 L224 1917 L272 1917 L272 1913 L306 1913 L306 1909 L361 1909 L361 1905 L409 1905 L409 1909 L644 1909 L644 1905 L712 1905 L712 1909 L755 1909 L755 1905 L1098 1905 L1098 1902 L1154 1902 L1154 1905 L1175 1905 L1175 1902 L1212 1902 L1212 1905 L1239 1905 L1239 1902 L1298 1902 L1298 1905 L1373 1905 L1373 1902 L1434 1902 L1434 1900Z" fill="#fff"/>
<path d="M118 2424 L118 2412 L233 2412 L233 2417 L303 2417 L303 2420 L432 2420 L432 2417 L736 2417 L736 2413 L825 2413 L825 2409 L922 2409 L922 2413 L972 2413 L972 2417 L1060 2417 L1060 2413 L1294 2413 L1294 2410 L1329 2410 L1329 2405 L1362 2405 L1362 2400 L1384 2400 L1384 2396 L1397 2396 L1397 2391 L1409 2391 L1409 2386 L1418 2386 L1418 2381 L1425 2381 L1425 2376 L1434 2376 L1434 2424Z" fill="#fff"/>
<path class="c" mask="url(#mk)" d="M135.5,2411.5L132.8,2332.5L129.8,2286.5L123.7,2216.5L121.2,2198.5L120.0,2194.5L118.5,2193.1M382.4,2419.5L387.5,2416.5L404.5,2409.9L408.0,2404.5L410.9,2398.5L411.6,2395.5L408.5,2386.5L406.7,2377.5L411.1,2345.5L402.9,2322.5L402.4,2318.5L403.1,2306.5L398.0,2292.5L398.1,2289.5L401.8,2276.5L393.7,2245.5L396.3,2232.5L388.1,2210.5L389.7,2185.5L387.5,2162.5L384.5,2143.5L386.1,2126.5L384.7,2112.5L383.1,2106.5L368.3,2095.5L361.3,2086.5L356.5,2077.7L345.5,2081.8L342.5,2081.9L338.5,2080.8L334.4,2078.5L326.2,2068.5L318.4,2062.5L313.1,2059.5L297.5,2055.3L289.1,2050.5L286.5,2049.8L265.5,2052.8L259.5,2052.3L247.0,2049.5L242.5,2049.4L235.5,2058.1L228.5,2063.1L223.5,2065.1L210.5,2063.5L196.5,2063.8L158.5,2069.2L135.5,2074.6L118.5,2070.9M871.8,2408.5L876.8,2392.5L878.2,2383.5L862.5,2351.0L857.7,2336.5L854.8,2318.5L848.4,2308.5L844.5,2299.5L842.5,2294.0L837.5,2274.0L835.6,2264.5L833.5,2248.3L832.1,2210.5L830.9,2199.5L822.2,2150.5L816.8,2136.5L807.5,2126.5L802.5,2119.6L799.2,2105.5L797.5,2102.9L794.5,2100.8L791.5,2099.9L787.5,2099.8L785.2,2100.5L782.5,2103.0L779.1,2108.5L775.5,2123.9L774.3,2125.5L772.5,2126.2L770.5,2124.5L768.5,2120.0L762.0,2099.5L757.4,2087.5L754.5,2084.4L749.5,2084.1L746.5,2086.2L743.7,2091.5L739.5,2114.5L737.5,2116.9L734.5,2117.9L732.5,2116.6L729.5,2112.4L726.6,2101.5L724.5,2098.1L721.5,2096.8L701.5,2091.9L692.5,2087.5L689.5,2084.9L685.3,2076.5L676.5,2069.6L672.5,2068.4L662.5,2069.8L650.5,2068.1L647.5,2067.0L642.9,2063.5L641.3,2061.5L640.9,2059.5L639.9,2038.5L639.5,2036.3L638.2,2034.5L632.5,2033.7L618.5,2035.6L599.5,2035.5L595.5,2034.3L587.5,2029.5L583.5,2028.2L580.5,2029.6L574.9,2036.5L569.5,2041.2L565.5,2043.1L557.5,2044.4L547.5,2045.6L533.5,2045.6L517.5,2042.7L492.5,2042.5L476.5,2040.1L454.5,2032.3L450.5,2033.3L427.5,2045.2L415.5,2049.1L405.5,2050.6L390.5,2049.6L381.5,2050.6L372.5,2050.4L361.5,2048.2L344.5,2042.7L339.5,2043.0L319.5,2047.3L310.5,2047.6L300.5,2046.1L288.5,2040.9L280.5,2041.8L269.5,2044.3L264.5,2044.5L235.5,2039.6L227.7,2040.5L206.5,2048.3L196.5,2048.6L190.5,2047.3L183.6,2042.5L181.5,2041.9L171.5,2046.1L163.5,2048.2L150.5,2048.7L147.5,2049.5L140.5,2053.2L133.5,2059.8L129.5,2062.3L125.5,2063.4L118.5,2063.6M1080.7,2412.5L1080.7,2402.5L1079.3,2387.5L1075.0,2369.5L1070.2,2342.5L1064.2,2323.5L1058.3,2299.5L1053.1,2271.5L1052.8,2258.5L1051.8,2251.5L1051.6,2235.5L1048.2,2189.5L1046.9,2177.5L1040.5,2139.0L1027.5,2094.4L1025.5,2089.1L1023.5,2087.7L1015.5,2087.1L1001.5,2083.5L996.0,2083.5L993.5,2085.4L986.9,2093.5L981.5,2098.1L979.8,2100.5L975.7,2111.5L975.0,2115.5L974.6,2131.5L973.6,2141.5L973.4,2175.5L974.3,2183.5L974.2,2205.5L973.0,2222.5L971.5,2232.5L964.2,2244.5L960.6,2253.5L958.5,2255.1L956.0,2254.5L954.1,2252.5L950.1,2236.5L947.5,2230.9L945.5,2228.5L943.5,2228.2L940.5,2229.4L932.5,2236.9L930.0,2242.5L926.8,2260.5L925.3,2277.5L923.8,2285.5L913.5,2303.4L910.5,2304.6L902.5,2302.3L900.5,2300.6L899.7,2298.5L894.6,2264.5L890.3,2241.5L881.8,2217.5L877.4,2197.5L875.5,2194.9L865.7,2186.5L858.8,2168.5L849.5,2155.6L842.2,2142.5L843.5,2119.5L841.5,2092.4L840.5,2092.1L835.7,2097.5L828.5,2103.0L825.5,2103.8L822.5,2103.2L814.5,2099.4L806.5,2090.1L799.5,2088.2L797.5,2087.0L795.6,2084.5L793.5,2077.7L782.5,2082.1L770.5,2081.7L765.5,2079.1L749.3,2066.5L743.5,2063.3L740.5,2062.5L734.5,2062.6L730.3,2063.5L725.8,2065.5L720.5,2069.9L716.5,2072.0L711.5,2073.7L708.5,2073.2L704.5,2070.9L692.5,2059.7L676.5,2058.5L670.5,2056.2L664.0,2049.5L654.8,2036.5L649.6,2032.5L641.5,2028.7L631.5,2028.2L617.5,2030.1L601.5,2030.1L597.5,2029.0L586.5,2022.6L582.5,2021.6L578.5,2023.6L569.5,2034.3L564.5,2037.4L546.5,2040.1L535.5,2040.2L519.5,2037.3L494.5,2037.1L479.5,2035.0L466.5,2030.9L457.5,2026.7L454.5,2026.3L448.5,2027.9L441.5,2032.1L425.5,2039.9L413.5,2043.8L403.5,2045.2L390.5,2044.0L381.5,2045.1L374.5,2045.0L363.5,2042.9L345.5,2037.1L338.5,2037.5L317.5,2042.0L311.5,2042.1L302.5,2040.8L289.5,2035.2L284.5,2035.5L265.5,2039.1L240.5,2034.5L231.5,2034.1L224.9,2035.5L205.5,2042.8L197.5,2043.1L192.5,2042.0L185.5,2037.0L180.5,2035.7L170.5,2040.5L163.5,2042.4L146.5,2043.8L138.5,2047.8L130.5,2055.2L127.5,2057.0L123.5,2058.1L118.5,2057.8M1241.2,2412.5L1232.6,2376.5L1232.2,2364.5L1231.3,2357.5L1231.1,2342.5L1229.1,2318.5L1228.9,2289.5L1227.9,2280.5L1227.6,2244.5L1226.7,2236.5L1226.5,2214.5L1225.5,2205.5L1225.4,2168.5L1224.4,2160.5L1224.1,2130.5L1222.9,2117.5L1218.4,2083.5L1213.5,2059.7L1208.8,2046.5L1202.8,2043.5L1198.5,2042.8L1194.7,2043.5L1176.5,2049.5L1174.2,2051.5L1165.5,2064.5L1159.5,2071.1L1156.5,2072.7L1152.5,2071.9L1148.5,2069.6L1139.5,2056.0L1134.8,2051.5L1129.5,2048.1L1124.5,2048.3L1122.5,2051.1L1120.5,2058.3L1117.0,2079.5L1113.0,2094.5L1111.9,2096.5L1109.5,2098.5L1105.5,2100.8L1102.5,2101.6L1099.5,2100.6L1095.5,2098.0L1090.5,2091.5L1089.0,2090.5L1076.5,2088.5L1067.5,2085.6L1064.5,2085.8L1056.5,2092.1L1053.5,2092.6L1045.5,2087.7L1029.5,2075.4L1015.5,2072.2L1000.5,2064.2L985.5,2060.2L974.5,2046.0L962.3,2036.5L955.1,2022.5L950.5,2020.0L946.5,2019.8L937.6,2023.5L926.5,2033.6L916.6,2039.5L915.0,2041.5L913.5,2045.9L911.5,2056.7L911.0,2082.5L908.2,2094.5L906.2,2099.5L902.1,2105.5L895.5,2114.2L892.5,2116.0L889.5,2113.9L884.4,2106.5L878.8,2090.5L876.5,2086.5L874.5,2084.6L872.5,2085.1L870.9,2087.5L868.3,2101.5L864.5,2106.3L861.5,2107.2L854.5,2103.4L848.3,2086.5L845.7,2082.5L843.5,2081.3L840.5,2081.6L837.5,2083.3L832.1,2091.5L826.5,2095.8L823.5,2096.4L818.5,2094.3L809.5,2084.3L803.2,2082.5L801.9,2081.5L800.2,2068.5L799.5,2066.4L798.5,2065.7L786.5,2075.0L783.5,2076.5L779.5,2077.0L772.5,2076.9L769.5,2076.1L752.2,2062.5L745.5,2058.5L741.5,2057.2L733.5,2057.1L726.5,2059.0L723.5,2060.5L716.5,2066.2L712.5,2068.0L710.5,2068.2L707.1,2066.5L694.5,2054.8L691.5,2054.1L677.5,2053.9L673.5,2052.5L670.4,2049.5L658.8,2033.5L652.5,2028.8L644.5,2025.4L638.5,2023.8L629.5,2024.1L616.5,2025.9L601.5,2025.9L598.5,2025.0L589.5,2019.6L583.5,2017.1L580.5,2017.6L575.9,2020.5L565.5,2032.5L562.5,2033.7L555.5,2034.8L545.5,2035.9L534.5,2035.9L519.5,2033.1L493.5,2032.8L477.5,2030.3L466.5,2026.6L458.4,2022.5L455.5,2021.9L447.5,2023.9L439.5,2028.7L424.5,2036.0L413.5,2039.5L404.5,2040.9L390.5,2039.8L380.5,2040.9L374.5,2040.8L363.5,2038.6L346.5,2032.9L338.5,2033.2L323.5,2036.8L312.5,2038.0L302.5,2036.5L289.5,2030.9L284.5,2031.2L265.5,2034.9L240.5,2030.2L231.5,2029.8L224.5,2031.3L205.5,2038.5L197.5,2038.9L192.5,2037.5L185.7,2032.5L180.5,2031.3L177.5,2032.2L170.5,2036.1L164.5,2037.9L159.5,2038.9L149.5,2039.1L145.5,2039.9L136.5,2044.4L126.5,2053.0L123.5,2053.8L118.5,2053.5M1433.5,2104.4L1430.5,2107.5L1427.7,2112.5L1419.0,2139.5L1415.7,2143.5L1412.5,2145.0L1406.5,2144.0L1404.5,2142.8L1402.8,2140.5L1397.2,2129.5L1393.5,2113.0L1392.5,2110.0L1390.5,2107.6L1388.5,2108.7L1383.0,2117.5L1377.5,2121.3L1374.5,2122.3L1371.5,2122.0L1368.5,2120.7L1363.2,2115.5L1360.1,2113.5L1355.5,2112.0L1352.5,2112.5L1349.3,2115.5L1347.5,2118.3L1342.2,2132.5L1328.1,2163.5L1323.5,2170.1L1320.5,2170.9L1317.5,2168.6L1316.3,2163.5L1307.5,2098.6L1306.1,2093.5L1304.5,2091.2L1297.6,2085.5L1290.6,2082.5L1287.5,2081.8L1276.5,2081.2L1269.5,2078.2L1265.5,2075.3L1249.7,2059.5L1238.5,2056.7L1230.5,2053.1L1227.6,2050.5L1222.5,2043.2L1213.5,2036.6L1202.5,2032.3L1187.5,2032.4L1183.5,2031.6L1175.5,2026.9L1168.5,2018.0L1165.5,2016.6L1154.5,2019.1L1138.5,2021.5L1124.7,2027.5L1115.5,2037.4L1103.5,2060.3L1100.5,2061.9L1090.5,2064.6L1083.1,2071.5L1079.5,2071.9L1074.3,2069.5L1072.7,2066.5L1070.5,2057.1L1069.5,2055.5L1067.5,2054.8L1063.5,2060.7L1059.0,2070.5L1056.5,2072.3L1051.5,2072.8L1044.5,2071.7L1030.5,2061.4L1004.5,2051.7L1002.4,2048.5L997.5,2032.6L995.7,2030.5L986.5,2028.2L984.5,2029.0L979.5,2033.6L976.5,2033.8L970.0,2029.5L963.8,2018.5L960.5,2015.4L951.5,2011.0L943.5,2012.2L936.5,2016.0L916.5,2028.9L913.5,2031.7L908.6,2038.5L907.2,2041.5L905.9,2047.5L903.9,2064.5L902.9,2081.5L901.8,2087.5L899.5,2091.7L895.5,2093.8L893.5,2093.2L889.8,2089.5L880.5,2075.0L876.2,2072.5L867.5,2069.0L854.5,2066.1L845.5,2066.2L836.3,2071.5L828.5,2077.8L823.5,2078.4L820.5,2076.9L816.3,2073.5L814.0,2070.5L809.8,2061.5L805.5,2057.7L802.5,2056.4L799.5,2057.2L796.5,2059.0L789.8,2067.5L784.5,2071.4L780.5,2072.6L772.7,2072.5L768.5,2070.5L752.5,2057.9L745.5,2053.8L740.5,2052.7L732.5,2052.9L725.5,2054.9L721.5,2056.7L714.5,2062.5L710.5,2063.3L695.5,2050.3L678.5,2049.6L675.5,2048.7L672.5,2045.6L661.5,2030.5L654.5,2025.1L644.5,2020.9L638.5,2019.5L629.5,2019.8L616.5,2021.6L601.5,2021.5L598.5,2020.4L590.5,2015.4L582.5,2012.6L579.5,2013.4L572.9,2017.5L563.5,2028.7L554.9,2030.5L545.5,2031.6L535.5,2031.7L519.5,2028.8L494.2,2028.5L477.5,2025.9L466.5,2022.1L458.5,2017.9L455.5,2017.5L446.5,2019.7L437.5,2025.2L424.5,2031.5L413.5,2035.2L403.5,2036.7L390.5,2035.4L380.5,2036.6L374.5,2036.4L364.5,2034.5L346.5,2028.5L338.5,2028.9L323.5,2032.4L312.5,2033.7L302.5,2032.0L289.5,2026.5L278.5,2027.9L265.5,2030.6L240.5,2025.9L231.5,2025.4L224.5,2026.9L205.5,2034.1L198.5,2034.7L194.5,2033.8L187.5,2028.7L179.5,2026.7L170.5,2031.6L164.4,2033.5L159.5,2034.5L148.5,2034.8L145.5,2035.4L134.5,2040.9L125.5,2048.8L122.5,2049.5L118.5,2049.1M1433.5,2089.5L1429.5,2089.8L1421.5,2092.1L1419.3,2093.5L1414.0,2099.5L1412.5,2100.2L1410.5,2100.1L1408.5,2098.8L1407.1,2096.5L1398.8,2074.5L1396.5,2072.8L1393.5,2072.4L1389.5,2073.4L1381.5,2077.7L1379.8,2080.5L1376.1,2091.5L1373.5,2095.2L1371.5,2096.8L1369.5,2096.8L1362.3,2093.5L1349.5,2090.1L1331.5,2090.0L1326.5,2087.4L1322.5,2084.2L1317.5,2072.2L1315.5,2069.9L1301.5,2066.8L1279.5,2070.3L1273.5,2070.0L1270.5,2067.9L1253.5,2051.6L1250.5,2050.4L1240.5,2048.7L1235.5,2046.6L1233.5,2045.0L1227.5,2037.4L1216.5,2030.1L1209.5,2027.0L1202.5,2024.5L1190.5,2025.1L1185.5,2023.8L1180.5,2020.1L1172.7,2009.5L1170.5,2008.1L1167.5,2007.4L1149.5,2011.6L1142.5,2014.9L1135.5,2015.5L1127.5,2017.5L1120.5,2020.6L1116.5,2024.1L1110.5,2031.7L1100.5,2050.6L1097.5,2054.0L1087.5,2056.7L1081.5,2059.7L1080.1,2058.5L1077.4,2051.5L1074.0,2047.5L1069.5,2044.8L1065.5,2044.8L1062.5,2046.4L1060.6,2048.5L1053.1,2063.5L1051.5,2064.7L1049.5,2064.9L1046.5,2063.7L1033.5,2054.0L1014.5,2047.5L1010.5,2045.5L1009.3,2043.5L1004.9,2028.5L1003.3,2025.5L1000.5,2023.1L985.5,2019.4L982.5,2020.1L977.5,2023.5L975.5,2023.5L968.5,2012.5L956.5,2005.0L951.5,2003.4L941.5,2005.4L937.5,2007.1L911.5,2023.5L908.5,2026.5L903.1,2034.5L901.0,2038.5L899.6,2044.5L895.8,2077.5L894.5,2080.4L892.5,2079.1L886.7,2070.5L883.5,2068.0L871.5,2062.0L857.5,2058.4L846.5,2058.2L842.5,2058.7L836.5,2062.1L826.5,2069.3L824.5,2069.5L821.5,2067.5L817.0,2058.5L814.8,2055.5L807.5,2050.1L803.5,2048.5L799.5,2049.1L793.5,2052.8L790.3,2055.5L784.1,2063.5L781.5,2065.2L778.5,2066.0L775.5,2066.0L772.5,2065.0L758.5,2053.8L750.5,2049.0L744.5,2046.4L729.5,2046.6L719.5,2050.0L713.5,2054.4L711.5,2054.8L698.5,2044.1L694.5,2043.2L679.5,2042.5L676.5,2039.7L668.5,2028.1L664.5,2024.2L657.5,2019.0L642.5,2013.0L638.5,2012.5L615.5,2015.0L604.5,2015.0L601.5,2014.2L592.5,2009.0L582.5,2005.4L577.5,2006.9L568.5,2012.3L559.5,2022.5L553.5,2023.9L544.5,2025.0L536.5,2025.1L521.5,2022.3L495.5,2021.9L479.5,2019.5L469.5,2016.1L460.5,2011.5L456.5,2010.4L444.5,2013.1L434.2,2019.5L421.5,2025.5L411.5,2028.7L402.5,2030.1L390.5,2028.4L376.5,2029.9L364.5,2027.5L346.5,2021.4L336.5,2022.4L322.5,2025.8L313.5,2027.1L304.5,2025.7L290.5,2019.5L276.5,2021.4L265.5,2023.7L242.5,2019.4L230.5,2018.4L218.5,2021.8L204.0,2027.5L200.5,2028.0L197.5,2027.3L190.5,2022.6L179.5,2019.4L176.5,2020.1L168.5,2025.0L164.5,2026.5L158.5,2027.9L147.5,2028.2L143.5,2029.0L130.5,2035.6L123.5,2041.6L121.5,2042.3L118.5,2042.2M1368.8,1905.5L1384.7,1921.5L1386.8,1924.5L1388.5,1929.1L1392.5,1943.5L1391.5,1974.5L1386.6,2018.5L1383.6,2035.5L1381.6,2042.5L1377.6,2052.5L1375.5,2055.5L1368.0,2062.5L1360.5,2068.3L1356.5,2069.9L1349.5,2068.7L1346.7,2067.5L1335.5,2055.0L1331.5,2053.0L1306.5,2047.7L1301.5,2047.7L1290.5,2049.7L1284.3,2049.5L1277.5,2048.3L1267.8,2044.5L1265.1,2042.5L1260.3,2036.5L1256.5,2022.5L1250.5,2018.2L1247.5,2018.0L1242.5,2019.6L1240.8,2021.5L1238.7,2026.5L1235.6,2028.5L1232.5,2029.1L1227.4,2028.5L1218.5,2019.1L1215.5,2017.0L1203.5,2011.1L1194.4,2008.5L1191.5,2006.6L1186.5,1996.7L1181.8,1983.5L1177.5,1977.5L1174.5,1975.9L1168.5,1976.0L1163.5,1979.4L1161.2,1982.5L1157.1,1992.5L1148.1,2000.5L1141.5,2009.7L1130.5,2010.6L1116.5,2008.2L1111.5,2008.9L1107.9,2010.5L1107.1,2012.5L1108.6,2018.5L1105.5,2026.0L1096.5,2042.6L1094.5,2044.0L1090.5,2044.9L1088.4,2044.5L1078.5,2036.1L1074.5,2034.4L1063.5,2034.2L1050.5,2036.9L1037.5,2031.3L1022.5,2030.5L1017.5,2029.3L1015.8,2027.5L1013.4,2020.5L1008.7,2013.5L1005.5,2010.6L994.6,2003.5L985.5,1990.4L982.5,1988.5L972.5,1986.4L969.5,1985.0L956.9,1967.5L945.5,1959.6L931.5,1959.3L926.5,1961.4L925.3,1964.5L926.9,1968.5L929.5,1970.9L936.5,1974.2L936.7,1976.5L933.5,1979.6L926.5,1981.2L922.5,1981.5L919.5,1979.7L912.2,1969.5L909.3,1963.5L904.9,1950.5L903.3,1935.5L903.4,1930.5L904.8,1927.5L912.5,1922.0L915.5,1920.6L948.5,1918.0L955.5,1916.9L981.5,1911.9L983.5,1910.8L986.5,1907.6L991.5,1907.0L1073.5,1906.9L1140.5,1914.9L1169.5,1917.1L1177.5,1917.0L1182.5,1915.7L1209.4,1902.5M118.5,1917.9L169.5,1918.0L230.5,1926.0L236.5,1926.1L244.5,1926.0L333.5,1918.1L344.5,1917.8L384.5,1927.7L387.2,1930.5L391.7,1938.5L393.0,1942.5L392.1,1946.5L377.9,1979.5L364.3,1996.5L358.5,2002.5L356.2,2003.5L333.5,2003.4L331.5,2002.3L325.5,1994.1L319.5,1991.1L316.5,1990.4L313.0,1991.5L309.1,1994.5L308.7,2001.5L307.5,2002.6L282.5,2002.7L266.5,2007.0L264.5,2006.5L257.5,2002.1L241.5,2000.7L226.5,2000.7L201.5,2004.5L195.5,2004.6L191.4,2002.5L178.5,1992.8L174.5,1991.6L145.5,1996.9L142.5,1998.5L136.5,2004.7L133.5,2005.7L129.1,2003.5L118.5,1995.8M799.5,1922.4L821.5,1921.6L848.5,1924.1L850.5,1924.8L852.3,1926.5L853.6,1929.5L853.5,1931.5L851.0,1934.5L839.4,1942.5L838.1,1944.5L838.4,1947.5L841.9,1958.5L842.0,1961.5L834.7,1973.5L834.8,1975.5L837.9,1982.5L838.5,1985.5L837.3,1988.5L832.1,1995.5L831.6,1997.5L832.5,2000.2L837.5,2007.5L837.9,2009.5L836.7,2012.5L829.8,2020.5L820.5,2027.2L809.5,2027.0L801.5,2026.1L796.5,2026.2L793.5,2027.1L791.6,2029.5L787.6,2039.5L782.5,2043.7L779.5,2044.4L774.8,2042.5L771.5,2037.5L767.5,2028.5L763.8,2013.5L753.5,2005.5L751.5,1991.2L750.5,1988.7L739.0,1980.5L738.6,1979.5L739.3,1977.5L744.7,1972.5L745.4,1970.5L737.9,1964.5L737.9,1962.5L740.4,1957.5L740.7,1955.5L737.2,1950.5L735.9,1947.5L733.5,1929.5L734.5,1927.9L736.5,1926.6L745.5,1923.9L774.5,1923.8L781.5,1922.9L799.5,1922.4"/><path d="M117.5 1942.7H1434.3M117.5 2030.0H1434.3M117.5 2117.4H1434.3M117.5 2204.8H1434.3M117.5 2292.1H1434.3M117.5 2379.4H1434.3M354.5 1899.0V2423.4M714.8 1899.0V2423.4M1074.2 1899.0V2423.4" stroke="#000" stroke-opacity="0.55" stroke-width="0.7" fill="none"/><text class="cl" x="190.8" y="95.1" transform="rotate(-20 190.8 89.1)">15</text><text class="cl" x="259.2" y="226.7" transform="rotate(20 259.2 220.7)">12</text><text class="cl" x="286.9" y="260.3" transform="rotate(-5 286.9 254.3)">13</text><text class="cl" x="411.0" y="209.7" transform="rotate(10 411.0 203.7)">14</text><text class="cl" x="524.0" y="293.0" transform="rotate(15 524.0 287.0)">14.5</text><text class="cl" x="281.0" y="401.7">12</text><text class="cl" x="594.9" y="293.6" transform="rotate(5 594.9 287.6)">12.5</text><text class="cl" x="696.7" y="304.3" transform="rotate(-5 696.7 298.3)">13.5</text><text class="cl" x="781.5" y="142.7" transform="rotate(5 781.5 136.7)">15</text><text class="cl" x="970.5" y="75.8" transform="rotate(60 970.5 69.8)">15</text><text class="cl" x="1155.2" y="85.7" transform="rotate(-10 1155.2 79.7)">14.5</text><text class="cl" x="1397.5" y="73.0" transform="rotate(5 1397.5 67.0)">15</text><text class="cl" x="1156.8" y="266.6" transform="rotate(-25 1156.8 260.6)">13.5</text><text class="cl" x="1077.5" y="357.1" transform="rotate(15 1077.5 351.1)">13</text><text class="cl" x="1242.5" y="352.3" transform="rotate(85 1242.5 346.3)">14.5</text><text class="cl" x="1248.3" y="461.9" transform="rotate(75 1248.3 455.9)">14</text><text class="cl" x="191.0" y="762.5" transform="rotate(5 191.0 756.5)">15</text><text class="cl" x="383.8" y="776.5" transform="rotate(25 383.8 770.5)">12.5</text><text class="cl" x="486.5" y="816.7" transform="rotate(20 486.5 810.7)">12</text><text class="cl" x="514.2" y="903.6" transform="rotate(35 514.2 897.6)">14</text><text class="cl" x="662.0" y="842.0" transform="rotate(5 662.0 836.0)">14.5</text><text class="cl" x="759.6" y="845.0" transform="rotate(-5 759.6 839.0)">13</text><text class="cl" x="822.7" y="795.3" transform="rotate(-20 822.7 789.3)">13.5</text><text class="cl" x="759.6" y="1177.4" transform="rotate(-3 759.6 1171.4)">12</text><text class="cl" x="1018.9" y="827.9">14.5</text><text class="cl" x="1131.5" y="917.6" transform="rotate(65 1131.5 911.6)">14</text><text class="cl" x="1291.2" y="1083.4">14.5</text><text class="cl" x="135.7" y="1307.6" transform="rotate(-5 135.7 1301.6)">15</text><text class="cl" x="377.3" y="1305.2" transform="rotate(-5 377.3 1299.2)">15</text><text class="cl" x="270.2" y="1390.0" transform="rotate(-10 270.2 1384.0)">15</text><text class="cl" x="457.1" y="1544.8" transform="rotate(-15 457.1 1538.8)">14.5</text><text class="cl" x="432.4" y="1571.0" transform="rotate(75 432.4 1565.0)">12</text><text class="cl" x="131.2" y="1705.5" transform="rotate(65 131.2 1699.5)">11.5</text><text class="cl" x="623.7" y="1310.3" transform="rotate(5 623.7 1304.3)">15</text><text class="cl" x="557.3" y="1460.0">14</text><text class="cl" x="753.2" y="1436.2" transform="rotate(5 753.2 1430.2)">13.5</text><text class="cl" x="865.4" y="1375.8" transform="rotate(-45 865.4 1369.8)">13</text><text class="cl" x="963.6" y="1500.2">13.5</text><text class="cl" x="1053.5" y="1491.6">14</text><text class="cl" x="1263.4" y="1497.6" transform="rotate(10 1263.4 1491.6)">15</text><text class="cl" x="1243.6" y="1593.5" transform="rotate(55 1243.6 1587.5)">14.5</text><text class="cl" x="1277.7" y="1666.5" transform="rotate(-80 1277.7 1660.5)">14.5</text><text class="cl" x="1032.2" y="1773.0" transform="rotate(-90 1032.2 1767.0)">12.5</text><text class="cl" x="334.2" y="2015.6" transform="rotate(5 334.2 2009.6)">15</text><text class="cl" x="149.6" y="2062.7" transform="rotate(15 149.6 2056.7)">12.5</text><text class="cl" x="123.5" y="2266.5" transform="rotate(85 123.5 2260.5)">11.5</text><text class="cl" x="404.1" y="2413.9" transform="rotate(-35 404.1 2407.9)">12</text><text class="cl" x="546.2" y="2035.3">14</text><text class="cl" x="800.8" y="1932.3" transform="rotate(5 800.8 1926.3)">15</text><text class="cl" x="775.5" y="2072.2" transform="rotate(25 775.5 2066.2)">14.5</text><text class="cl" x="902.6" y="2113.3" transform="rotate(-25 902.6 2107.3)">13.5</text><text class="cl" x="916.0" y="2312.7" transform="rotate(-5 916.0 2306.7)">13</text><text class="cl" x="1023.0" y="2045.0" transform="rotate(5 1023.0 2039.0)">15</text><text class="cl" x="1179.7" y="2041.4" transform="rotate(5 1179.7 2035.4)">14</text><text class="cl" x="1389.6" y="1999.4" transform="rotate(-70 1389.6 1993.4)">15</text><rect x="112.8" y="46.3" width="1316.5" height="545.4000000000001" fill="none" stroke="#000" stroke-width="2.9"/><path d="M103.8 91.8H112.8" stroke="#555" stroke-width="1"/><text class="tk" text-anchor="end" x="92.8" y="102.0">5</text><path d="M103.8 182.7H112.8" stroke="#555" stroke-width="1"/><text class="tk" text-anchor="end" x="92.8" y="192.8">10</text><path d="M103.8 273.5H112.8" stroke="#555" stroke-width="1"/><text class="tk" text-anchor="end" x="92.8" y="283.7">15</text><path d="M103.8 364.4H112.8" stroke="#555" stroke-width="1"/><text class="tk" text-anchor="end" x="92.8" y="374.6">20</text><path d="M103.8 455.2H112.8" stroke="#555" stroke-width="1"/><text class="tk" text-anchor="end" x="92.8" y="465.4">25</text><path d="M103.8 546.1H112.8" stroke="#555" stroke-width="1"/><text class="tk" text-anchor="end" x="92.8" y="556.3">30</text><path d="M106.3 46.4H112.8" stroke="#aaa" stroke-width="1"/><path d="M106.3 137.2H112.8" stroke="#aaa" stroke-width="1"/><path d="M106.3 228.1H112.8" stroke="#aaa" stroke-width="1"/><path d="M106.3 318.9H112.8" stroke="#aaa" stroke-width="1"/><path d="M106.3 409.8H112.8" stroke="#aaa" stroke-width="1"/><path d="M106.3 500.6H112.8" stroke="#aaa" stroke-width="1"/><path d="M106.3 591.5H112.8" stroke="#aaa" stroke-width="1"/><path d="M467.7 591.7v8" stroke="#333" stroke-width="1.2"/><text class="tk" text-anchor="middle" x="467.7" y="637.9">6.2°E</text><path d="M841.4 591.7v8" stroke="#333" stroke-width="1.2"/><text class="tk" text-anchor="middle" x="841.4" y="637.9">6.3°E</text><path d="M1214.4 591.7v8" stroke="#333" stroke-width="1.2"/><text class="tk" text-anchor="middle" x="1214.4" y="637.9">6.4°E</text><path d="M281.5 591.7v5" stroke="#888" stroke-width="1"/><path d="M654.5 591.7v5" stroke="#888" stroke-width="1"/><path d="M1028.2 591.7v5" stroke="#888" stroke-width="1"/><path d="M1401.7 591.7v5" stroke="#888" stroke-width="1"/><text class="al" text-anchor="middle" transform="translate(21.299999999999997 319.0) rotate(-90)">Depth [m]</text><linearGradient id="cbp1" gradientUnits="userSpaceOnUse" x1="0" y1="46.2" x2="0" y2="591.5"><stop offset="0.0000" stop-color="#e7fa5a"/><stop offset="0.0909" stop-color="#f6d346"/><stop offset="0.1818" stop-color="#fbad3c"/><stop offset="0.2727" stop-color="#f68b45"/><stop offset="0.3636" stop-color="#e17161"/><stop offset="0.4545" stop-color="#c16479"/><stop offset="0.5455" stop-color="#9e5987"/><stop offset="0.6364" stop-color="#7e4d8f"/><stop offset="0.7273" stop-color="#5d3e99"/><stop offset="0.8182" stop-color="#35329b"/><stop offset="0.9091" stop-color="#0d3064"/><stop offset="1.0000" stop-color="#032333"/></linearGradient><path d="M1460.9 46.2L1480.75 38.3L1500.6 46.2L1500.6 591.5L1480.75 599.7L1460.9 591.5Z" fill="url(#cbp1)" stroke="#777" stroke-width="0.6"/><path d="M1460.9 114.4h8M1500.6 114.4h-8" stroke="#000" stroke-width="1"/><text class="tkc" x="1511.9" y="124.4">15</text><path d="M1460.9 250.7h8M1500.6 250.7h-8" stroke="#000" stroke-width="1"/><text class="tkc" x="1511.9" y="260.7">14</text><path d="M1460.9 387.0h8M1500.6 387.0h-8" stroke="#000" stroke-width="1"/><text class="tkc" x="1511.9" y="397.0">13</text><path d="M1460.9 523.1h8M1500.6 523.1h-8" stroke="#000" stroke-width="1"/><text class="tkc" x="1511.9" y="533.1">12</text><text class="odv" transform="translate(1457.4 581.5) rotate(-90)">Ocean Data View / DIVA</text><rect x="122.4" y="658.6" width="1316.8" height="545.9" fill="none" stroke="#000" stroke-width="2.9"/><path d="M113.4 704.3H122.4" stroke="#555" stroke-width="1"/><text class="tk" text-anchor="end" x="102.4" y="714.5">5</text><path d="M113.4 795.3H122.4" stroke="#555" stroke-width="1"/><text class="tk" text-anchor="end" x="102.4" y="805.5">10</text><path d="M113.4 886.3H122.4" stroke="#555" stroke-width="1"/><text class="tk" text-anchor="end" x="102.4" y="896.5">15</text><path d="M113.4 977.3H122.4" stroke="#555" stroke-width="1"/><text class="tk" text-anchor="end" x="102.4" y="987.5">20</text><path d="M113.4 1068.3H122.4" stroke="#555" stroke-width="1"/><text class="tk" text-anchor="end" x="102.4" y="1078.5">25</text><path d="M113.4 1159.3H122.4" stroke="#555" stroke-width="1"/><text class="tk" text-anchor="end" x="102.4" y="1169.5">30</text><path d="M115.9 658.8H122.4" stroke="#aaa" stroke-width="1"/><path d="M115.9 749.8H122.4" stroke="#aaa" stroke-width="1"/><path d="M115.9 840.8H122.4" stroke="#aaa" stroke-width="1"/><path d="M115.9 931.8H122.4" stroke="#aaa" stroke-width="1"/><path d="M115.9 1022.8H122.4" stroke="#aaa" stroke-width="1"/><path d="M115.9 1113.8H122.4" stroke="#aaa" stroke-width="1"/><path d="M115.9 1204.8H122.4" stroke="#aaa" stroke-width="1"/><path d="M410.1 1204.5v8" stroke="#333" stroke-width="1.2"/><text class="tk" text-anchor="middle" x="410.1" y="1251.0">6.1°E</text><path d="M787.5 1204.5v8" stroke="#333" stroke-width="1.2"/><text class="tk" text-anchor="middle" x="787.5" y="1251.0">6.2°E</text><path d="M1165.2 1204.5v8" stroke="#333" stroke-width="1.2"/><text class="tk" text-anchor="middle" x="1165.2" y="1251.0">6.3°E</text><path d="M221.2 1204.5v5" stroke="#888" stroke-width="1"/><path d="M598.4 1204.5v5" stroke="#888" stroke-width="1"/><path d="M976.3 1204.5v5" stroke="#888" stroke-width="1"/><path d="M1353.6 1204.5v5" stroke="#888" stroke-width="1"/><text class="al" text-anchor="middle" transform="translate(30.900000000000006 931.5) rotate(-90)">Depth [m]</text><linearGradient id="cbp2" gradientUnits="userSpaceOnUse" x1="0" y1="658.6" x2="0" y2="1204.7"><stop offset="0.0000" stop-color="#e7fa5a"/><stop offset="0.0909" stop-color="#f6d346"/><stop offset="0.1818" stop-color="#fbad3c"/><stop offset="0.2727" stop-color="#f68b45"/><stop offset="0.3636" stop-color="#e17161"/><stop offset="0.4545" stop-color="#c16479"/><stop offset="0.5455" stop-color="#9e5987"/><stop offset="0.6364" stop-color="#7e4d8f"/><stop offset="0.7273" stop-color="#5d3e99"/><stop offset="0.8182" stop-color="#35329b"/><stop offset="0.9091" stop-color="#0d3064"/><stop offset="1.0000" stop-color="#032333"/></linearGradient><path d="M1470.6 658.6L1490.4499999999998 657.0L1510.3 658.6L1510.3 1204.7L1490.4499999999998 1212.6L1470.6 1204.7Z" fill="url(#cbp2)" stroke="#777" stroke-width="0.6"/><path d="M1470.6 727.3h8M1510.3 727.3h-8" stroke="#000" stroke-width="1"/><text class="tkc" x="1521.5" y="737.3">15</text><path d="M1470.6 863.3h8M1510.3 863.3h-8" stroke="#000" stroke-width="1"/><text class="tkc" x="1521.5" y="873.3">14</text><path d="M1470.6 999.7h8M1510.3 999.7h-8" stroke="#000" stroke-width="1"/><text class="tkc" x="1521.5" y="1009.7">13</text><path d="M1470.6 1136.0h8M1510.3 1136.0h-8" stroke="#000" stroke-width="1"/><text class="tkc" x="1521.5" y="1146.0">12</text><text class="odv" transform="translate(1467.1 1194.7) rotate(-90)">Ocean Data View / DIVA</text><rect x="117.5" y="1275.4" width="1317.0" height="549.1999999999998" fill="none" stroke="#000" stroke-width="2.9"/><path d="M108.5 1321.4H117.5" stroke="#555" stroke-width="1"/><text class="tk" text-anchor="end" x="97.5" y="1331.6">5</text><path d="M108.5 1412.8H117.5" stroke="#555" stroke-width="1"/><text class="tk" text-anchor="end" x="97.5" y="1423.0">10</text><path d="M108.5 1504.2H117.5" stroke="#555" stroke-width="1"/><text class="tk" text-anchor="end" x="97.5" y="1514.4">15</text><path d="M108.5 1595.6H117.5" stroke="#555" stroke-width="1"/><text class="tk" text-anchor="end" x="97.5" y="1605.8">20</text><path d="M108.5 1687.0H117.5" stroke="#555" stroke-width="1"/><text class="tk" text-anchor="end" x="97.5" y="1697.2">25</text><path d="M108.5 1778.4H117.5" stroke="#555" stroke-width="1"/><text class="tk" text-anchor="end" x="97.5" y="1788.6">30</text><path d="M111.0 1275.7H117.5" stroke="#aaa" stroke-width="1"/><path d="M111.0 1367.1H117.5" stroke="#aaa" stroke-width="1"/><path d="M111.0 1458.5H117.5" stroke="#aaa" stroke-width="1"/><path d="M111.0 1549.9H117.5" stroke="#aaa" stroke-width="1"/><path d="M111.0 1641.3H117.5" stroke="#aaa" stroke-width="1"/><path d="M111.0 1732.7H117.5" stroke="#aaa" stroke-width="1"/><path d="M111.0 1824.1H117.5" stroke="#aaa" stroke-width="1"/><path d="M403.2 1824.6v8" stroke="#333" stroke-width="1.2"/><text class="tk" text-anchor="middle" x="403.2" y="1871.0">6°E</text><path d="M775.1 1824.6v8" stroke="#333" stroke-width="1.2"/><text class="tk" text-anchor="middle" x="775.1" y="1871.0">6.1°E</text><path d="M1146.7 1824.6v8" stroke="#333" stroke-width="1.2"/><text class="tk" text-anchor="middle" x="1146.7" y="1871.0">6.2°E</text><path d="M217.5 1824.6v5" stroke="#888" stroke-width="1"/><path d="M589.4 1824.6v5" stroke="#888" stroke-width="1"/><path d="M961.0 1824.6v5" stroke="#888" stroke-width="1"/><path d="M1333.0 1824.6v5" stroke="#888" stroke-width="1"/><text class="al" text-anchor="middle" transform="translate(26.0 1550.0) rotate(-90)">Depth [m]</text><linearGradient id="cbp3" gradientUnits="userSpaceOnUse" x1="0" y1="1274.9" x2="0" y2="1825.0"><stop offset="0.0000" stop-color="#e7fa5a"/><stop offset="0.0909" stop-color="#f6d346"/><stop offset="0.1818" stop-color="#fbad3c"/><stop offset="0.2727" stop-color="#f68b45"/><stop offset="0.3636" stop-color="#e17161"/><stop offset="0.4545" stop-color="#c16479"/><stop offset="0.5455" stop-color="#9e5987"/><stop offset="0.6364" stop-color="#7e4d8f"/><stop offset="0.7273" stop-color="#5d3e99"/><stop offset="0.8182" stop-color="#35329b"/><stop offset="0.9091" stop-color="#0d3064"/><stop offset="1.0000" stop-color="#032333"/></linearGradient><path d="M1465.9 1274.9L1485.7 1269.6L1505.5 1274.9L1505.5 1825.0L1485.7 1832.6L1465.9 1825.0Z" fill="url(#cbp3)" stroke="#777" stroke-width="0.6"/><path d="M1465.9 1336.4h8M1505.5 1336.4h-8" stroke="#000" stroke-width="1"/><text class="tkc" x="1516.7" y="1346.4">15</text><path d="M1465.9 1458.5h8M1505.5 1458.5h-8" stroke="#000" stroke-width="1"/><text class="tkc" x="1516.7" y="1468.5">14</text><path d="M1465.9 1580.6h8M1505.5 1580.6h-8" stroke="#000" stroke-width="1"/><text class="tkc" x="1516.7" y="1590.6">13</text><path d="M1465.9 1702.6h8M1505.5 1702.6h-8" stroke="#000" stroke-width="1"/><text class="tkc" x="1516.7" y="1712.6">12</text><text class="tkc" x="1516.7" y="1835.0">11</text><text class="odv" transform="translate(1462.4 1815.0) rotate(-90)">Ocean Data View / DIVA</text><rect x="117.5" y="1899.0" width="1316.8" height="524.4000000000001" fill="none" stroke="#000" stroke-width="2.9"/><path d="M108.5 1942.7H117.5" stroke="#555" stroke-width="1"/><text class="tk" text-anchor="end" x="97.5" y="1952.9">5</text><path d="M108.5 2030.0H117.5" stroke="#555" stroke-width="1"/><text class="tk" text-anchor="end" x="97.5" y="2040.2">10</text><path d="M108.5 2117.4H117.5" stroke="#555" stroke-width="1"/><text class="tk" text-anchor="end" x="97.5" y="2127.6">15</text><path d="M108.5 2204.8H117.5" stroke="#555" stroke-width="1"/><text class="tk" text-anchor="end" x="97.5" y="2214.9">20</text><path d="M108.5 2292.1H117.5" stroke="#555" stroke-width="1"/><text class="tk" text-anchor="end" x="97.5" y="2302.3">25</text><path d="M108.5 2379.4H117.5" stroke="#555" stroke-width="1"/><text class="tk" text-anchor="end" x="97.5" y="2389.6">30</text><path d="M111.0 1899.0H117.5" stroke="#aaa" stroke-width="1"/><path d="M111.0 1986.4H117.5" stroke="#aaa" stroke-width="1"/><path d="M111.0 2073.7H117.5" stroke="#aaa" stroke-width="1"/><path d="M111.0 2161.1H117.5" stroke="#aaa" stroke-width="1"/><path d="M111.0 2248.4H117.5" stroke="#aaa" stroke-width="1"/><path d="M111.0 2335.8H117.5" stroke="#aaa" stroke-width="1"/><path d="M111.0 2423.1H117.5" stroke="#aaa" stroke-width="1"/><path d="M354.5 2423.4v8" stroke="#333" stroke-width="1.2"/><text class="tk" text-anchor="middle" x="354.5" y="2468.5">30</text><path d="M714.8 2423.4v8" stroke="#333" stroke-width="1.2"/><text class="tk" text-anchor="middle" x="714.8" y="2468.5">20</text><path d="M1074.2 2423.4v8" stroke="#333" stroke-width="1.2"/><text class="tk" text-anchor="middle" x="1074.2" y="2468.5">10</text><path d="M1434.0 2423.4v8" stroke="#333" stroke-width="1.2"/><text class="tk" text-anchor="middle" x="1434.0" y="2468.5">0</text><path d="M174.6 2423.4v5" stroke="#888" stroke-width="1"/><path d="M534.4 2423.4v5" stroke="#888" stroke-width="1"/><path d="M894.9 2423.4v5" stroke="#888" stroke-width="1"/><path d="M1254.1 2423.4v5" stroke="#888" stroke-width="1"/><text class="al" text-anchor="middle" transform="translate(26.0 2161.2) rotate(-90)">Depth [m]</text><linearGradient id="cbp4" gradientUnits="userSpaceOnUse" x1="0" y1="1898.8" x2="0" y2="2423.3"><stop offset="0.0000" stop-color="#e7fa5a"/><stop offset="0.0909" stop-color="#f6d346"/><stop offset="0.1818" stop-color="#fbad3c"/><stop offset="0.2727" stop-color="#f68b45"/><stop offset="0.3636" stop-color="#e17161"/><stop offset="0.4545" stop-color="#c16479"/><stop offset="0.5455" stop-color="#9e5987"/><stop offset="0.6364" stop-color="#7e4d8f"/><stop offset="0.7273" stop-color="#5d3e99"/><stop offset="0.8182" stop-color="#35329b"/><stop offset="0.9091" stop-color="#0d3064"/><stop offset="1.0000" stop-color="#032333"/></linearGradient><path d="M1465.9 1898.8L1485.7 1891.2L1505.5 1898.8L1505.5 2423.3L1485.7 2431.2L1465.9 2423.3Z" fill="url(#cbp4)" stroke="#777" stroke-width="0.6"/><path d="M1465.9 1957.5h8M1505.5 1957.5h-8" stroke="#000" stroke-width="1"/><text class="tkc" x="1516.7" y="1967.5">15</text><path d="M1465.9 2073.5h8M1505.5 2073.5h-8" stroke="#000" stroke-width="1"/><text class="tkc" x="1516.7" y="2083.5">14</text><path d="M1465.9 2190.3h8M1505.5 2190.3h-8" stroke="#000" stroke-width="1"/><text class="tkc" x="1516.7" y="2200.3">13</text><path d="M1465.9 2306.8h8M1505.5 2306.8h-8" stroke="#000" stroke-width="1"/><text class="tkc" x="1516.7" y="2316.8">12</text><text class="tkc" x="1516.7" y="2433.3">11</text><text class="odv" transform="translate(1462.4 2413.3) rotate(-90)">Ocean Data View / DIVA</text>
<clipPath id="k1"><rect x="113" y="46" width="1317" height="527"/></clipPath><clipPath id="k2"><rect x="123" y="659" width="1316" height="524"/></clipPath><clipPath id="k3"><rect x="118" y="1276" width="1317" height="525"/></clipPath>
<g clip-path="url(#k1)"><text class="cl" x="169" y="578.5">12</text></g>
<g clip-path="url(#k2)"><text class="cl" x="316" y="1185" transform="rotate(-20 316 1180)">12</text></g>
<g clip-path="url(#k3)"><text class="cl" x="341" y="1804" transform="rotate(-10 341 1799)">12</text></g>
<text class="big" x="611.5" y="250.3">D3</text>
<text class="big" x="840.0" y="113.3">U3</text>
<text class="big" x="516.3" y="879.0">D2</text>
<text class="big" x="928.5" y="779.0">U2</text>
<text class="big" x="416.2" y="1625.5">D1</text>
<text class="big" x="819.7" y="1463.5">U1</text>
<text class="big" x="829.5" y="2066.0">E</text>
<text class="tl" x="134.2" y="523.7">T3</text>
<text class="tl" x="139.2" y="1108.4">T2</text>
<text class="tl" x="139.2" y="1756.1">T1</text>
<text class="tl" x="139.2" y="2360.3">T0</text>
<text class="tt" x="1422.5" y="21.4" text-anchor="end">Temperature [°C]</text>
<text class="al" x="776" y="2494.5" text-anchor="middle">Section Distance [km]</text>
<path d="M449.6 1782.3H909.4" stroke="#f00" stroke-width="5" fill="none"/>
<path d="M449.6 1774.5V1790M909.4 1774.5V1790" stroke="#f00" stroke-width="5" stroke-linecap="round" fill="none"/>
<text class="rk" x="690.5" y="1771" text-anchor="middle">12 km</text>
<text class="ro" x="806.5" y="2378.5" text-anchor="middle">OWF</text>
<path d="M601 1899V2423.4M997.6 1899V2423.4" stroke="#f00" stroke-width="5" fill="none"/>
<text class="ns" x="164" y="1942">North</text>
<path d="M218 1954.5H146" stroke="#000" stroke-width="5.2" stroke-linecap="round" fill="none"/><path d="M133 1954.5L156 1945.5L150.5 1954.5L156 1963.5Z" fill="#000" stroke="#000" stroke-width="2" stroke-linejoin="round"/>
<text class="ns" x="1325.5" y="1941.5">South</text>
<path d="M1331 1953H1402" stroke="#000" stroke-width="5.2" stroke-linecap="round" fill="none"/><path d="M1415.5 1953L1392.5 1944L1398 1953L1392.5 1962Z" fill="#000" stroke="#000" stroke-width="2" stroke-linejoin="round"/>
<path d="M535.5 44.6V611.3" stroke="#ff0" stroke-width="9.7" stroke-dasharray="9.45 9.3" stroke-dashoffset="5.45" fill="none"/>
<path d="M950.0 48.5V615.0" stroke="#ff0" stroke-width="9.7" stroke-dasharray="9.45 9.3" stroke-dashoffset="5.90" fill="none"/>
<path d="M535.5 662V1228.6" stroke="#ff0" stroke-width="9.7" stroke-dasharray="9.45 9.3" stroke-dashoffset="5.45" fill="none"/>
<path d="M949.4 658V1223.3" stroke="#ff0" stroke-width="9.7" stroke-dasharray="9.45 9.3" stroke-dashoffset="6.75" fill="none"/>
<path d="M537 1269.6V1836.4" stroke="#ff0" stroke-width="9.7" stroke-dasharray="9.45 9.3" stroke-dashoffset="5.40" fill="none"/>
<path d="M949.8 1269.6V1836.4" stroke="#ff0" stroke-width="9.7" stroke-dasharray="9.45 9.3" stroke-dashoffset="5.40" fill="none"/>
</svg>
</body></html>
